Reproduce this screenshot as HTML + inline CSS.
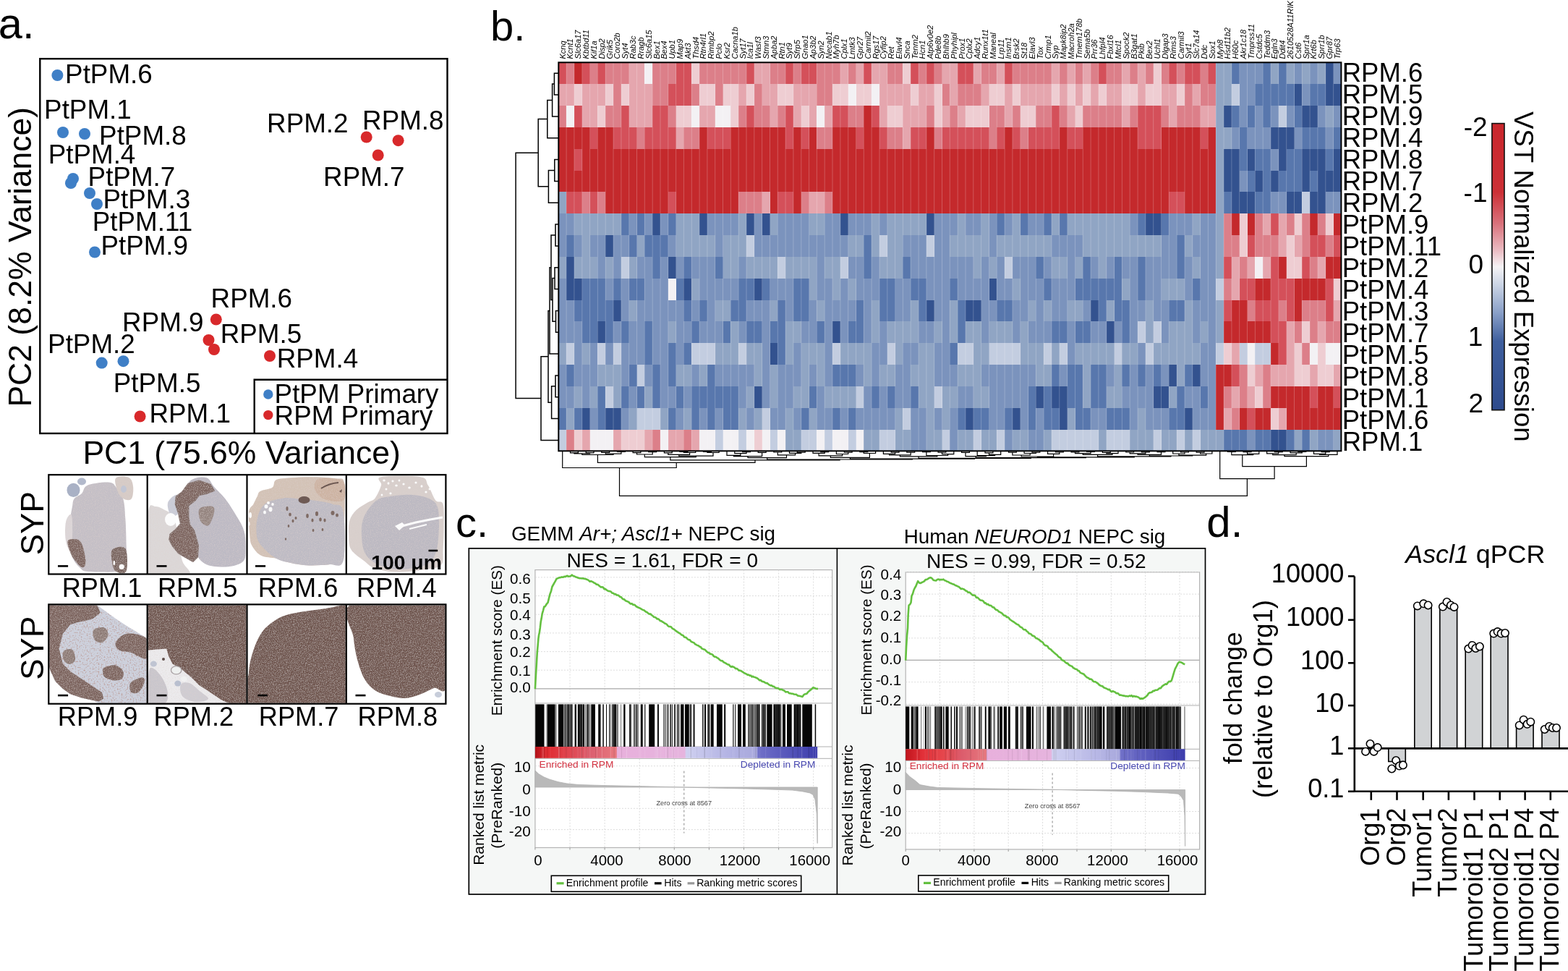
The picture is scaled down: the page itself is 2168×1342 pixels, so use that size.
<!DOCTYPE html><html><head><meta charset="utf-8"><title>Figure</title><style>html,body{margin:0;padding:0;background:#fff;overflow:hidden}svg{display:block}</style></head><body>
<svg xmlns="http://www.w3.org/2000/svg" width="2168" height="1342" viewBox="0 0 2168 1342" font-family="Liberation Sans, Arial, sans-serif">
<rect width="2168" height="1342" fill="#fff"/>
<text x="-2.2" y="53.0" font-size="59.5">a.</text>
<rect x="55.30" y="81.20" width="563.20" height="517.80" fill="none" stroke="#000" stroke-width="2.4"/>
<circle cx="79.4" cy="104" r="8" fill="#3f7fc6"/>
<circle cx="87" cy="183" r="8" fill="#3f7fc6"/>
<circle cx="117" cy="185" r="8" fill="#3f7fc6"/>
<circle cx="101" cy="247" r="8" fill="#3f7fc6"/>
<circle cx="98" cy="253" r="8" fill="#3f7fc6"/>
<circle cx="124" cy="267" r="8" fill="#3f7fc6"/>
<circle cx="134" cy="282" r="8" fill="#3f7fc6"/>
<circle cx="131" cy="348.5" r="8" fill="#3f7fc6"/>
<circle cx="140.7" cy="501.6" r="8" fill="#3f7fc6"/>
<circle cx="170.5" cy="499.2" r="8" fill="#3f7fc6"/>
<circle cx="506.7" cy="189.5" r="8" fill="#d8292b"/>
<circle cx="550.6" cy="194.2" r="8" fill="#d8292b"/>
<circle cx="522.7" cy="214.5" r="8" fill="#d8292b"/>
<circle cx="298.8" cy="441.5" r="8" fill="#d8292b"/>
<circle cx="288.5" cy="470" r="8" fill="#d8292b"/>
<circle cx="296" cy="483" r="8" fill="#d8292b"/>
<circle cx="373" cy="492" r="8" fill="#d8292b"/>
<circle cx="193.6" cy="575.5" r="8" fill="#d8292b"/>
<text x="90.1" y="115.0" font-size="36.8">PtPM.6</text>
<text x="61.1" y="164.4" font-size="36.8">PtPM.1</text>
<text x="137.1" y="199.5" font-size="36.8">PtPM.8</text>
<text x="66.7" y="225.7" font-size="36.8">PtPM.4</text>
<text x="121.6" y="256.7" font-size="36.8">PtPM.7</text>
<text x="142.5" y="287.7" font-size="36.8">PtPM.3</text>
<text x="127.8" y="318.7" font-size="36.8">PtPM.11</text>
<text x="139.4" y="352.0" font-size="36.8">PtPM.9</text>
<text x="369.1" y="182.8" font-size="36.8">RPM.2</text>
<text x="501.1" y="178.5" font-size="36.8">RPM.8</text>
<text x="447.1" y="257.2" font-size="36.8">RPM.7</text>
<text x="291.6" y="424.8" font-size="36.8">RPM.6</text>
<text x="169.1" y="458.0" font-size="36.8">RPM.9</text>
<text x="304.7" y="473.5" font-size="36.8">RPM.5</text>
<text x="382.7" y="508.3" font-size="36.8">RPM.4</text>
<text x="66.1" y="487.8" font-size="36.8">PtPM.2</text>
<text x="156.8" y="542.0" font-size="36.8">PtPM.5</text>
<text x="206.4" y="583.9" font-size="36.8">RPM.1</text>
<polyline points="351.7,599 351.7,524.7 618.5,524.7" fill="none" stroke="#000" stroke-width="2.4"/>
<circle cx="370.8" cy="545" r="6.7" fill="#3f7fc6"/>
<circle cx="370.8" cy="573.6" r="6.7" fill="#d8292b"/>
<text x="379.6" y="557.0" font-size="36.8">PtPM Primary</text>
<text x="379.6" y="587.4" font-size="36.8">RPM Primary</text>
<text x="114.4" y="641.0" font-size="44.5">PC1 (75.6% Variance)</text>
<text transform="translate(43.3,562.6) rotate(-90)" font-size="44.5">PC2 (8.2% Variance)</text>
<defs>
<filter id="spk" x="0" y="0" width="1" height="1" filterUnits="objectBoundingBox">
<feTurbulence type="fractalNoise" baseFrequency="0.8" numOctaves="2" seed="4" result="t"/>
<feColorMatrix in="t" type="matrix" values="0 0 0 0 0.72  0 0 0 0 0.64  0 0 0 0 0.62  0 0 0 -1.3 0.72" result="w"/>
<feComposite in="w" in2="SourceGraphic" operator="in" result="wi"/>
<feMerge><feMergeNode in="SourceGraphic"/><feMergeNode in="wi"/></feMerge>
</filter>
<filter id="spk2" x="0" y="0" width="1" height="1" filterUnits="objectBoundingBox">
<feTurbulence type="fractalNoise" baseFrequency="0.5" numOctaves="3" seed="9" result="t"/>
<feColorMatrix in="t" type="matrix" values="0 0 0 0 0.5  0 0 0 0 0.33  0 0 0 0 0.3  0 0 0 -3.0 1.55" result="w"/>
<feComposite in="w" in2="SourceGraphic" operator="in" result="wi"/>
<feMerge><feMergeNode in="SourceGraphic"/><feMergeNode in="wi"/></feMerge>
</filter>
<clipPath id="h1"><rect x="68.3" y="657.3" width="134.4" height="135.2"/></clipPath>
<clipPath id="h2"><rect x="204.7" y="657.3" width="135.8" height="135.2"/></clipPath>
<clipPath id="h3"><rect x="342.5" y="657.3" width="135.3" height="135.2"/></clipPath>
<clipPath id="h4"><rect x="479.8" y="657.3" width="135.6" height="135.2"/></clipPath>
<clipPath id="h5"><rect x="68.3" y="836.5" width="134.4" height="135.2"/></clipPath>
<clipPath id="h6"><rect x="204.7" y="836.5" width="135.8" height="135.2"/></clipPath>
<clipPath id="h7"><rect x="342.5" y="836.5" width="135.3" height="135.2"/></clipPath>
<clipPath id="h8"><rect x="479.8" y="836.5" width="135.6" height="135.2"/></clipPath>
</defs>
<g clip-path="url(#h1)"><g filter="url(#spk)">
<path d="M102.5,689.4 C104.7,686.4 110.4,684.8 113,682 C115.6,679.2 115.4,674.9 118,672.7 C120.6,670.5 124.2,669.6 128.6,668.6 C133.0,667.6 139.8,666.7 144.2,666.5 C148.5,666.3 152.1,666.5 154.7,667.5 C157.3,668.5 157.4,669.1 160,672.7 C162.6,676.4 168.1,681.9 170.3,689.4 C172.5,696.9 172.7,707.7 173.4,717.6 C174.1,727.5 174.3,737.6 174.5,748.9 C174.7,760.2 176.9,778.5 174.5,785.4 C172.1,792.2 165.8,789.1 160,790 C154.2,790.9 147.0,790.6 140,790.5 C133.0,790.4 122.8,790.4 118,789.5 C113.2,788.6 113.5,787.4 110.9,785 C108.3,782.6 104.9,779.5 102.5,775 C100.1,770.5 97.5,764.2 96.3,758 C95.1,751.8 95.0,745.0 95.2,738 C95.4,731.0 96.5,722.3 97.3,716 C98.1,709.7 99.1,704.4 100,700 C100.9,695.6 100.3,692.4 102.5,689.4 Z" fill="#c4bfc6"/>
<path d="M160,661 C162.5,657.7 174.0,658.2 178,660 C182.0,661.8 183.3,667.2 184,672 C184.7,676.8 184.0,686.0 182,689 C180.0,692.0 175.2,691.5 172,690 C168.8,688.5 165.0,684.8 163,680 C161.0,675.2 157.5,664.3 160,661 Z" fill="#d6cbc6"/>
<path d="M92,718 C93.5,714.2 97.7,708.3 99,712 C100.3,715.7 100.3,732.0 100,740 C99.7,748.0 98.3,758.0 97,760 C95.7,762.0 93.2,756.2 92,752 C90.8,747.8 90.0,740.7 90,735 C90.0,729.3 90.5,721.8 92,718 Z" fill="#dcd6d8"/>
<path d="M94.2,746.8 C96.2,744.5 104.4,744.6 107.7,745.8 C111.0,747.0 112.2,749.6 114,754.1 C115.8,758.6 117.7,768.2 118.2,772.9 C118.7,777.6 118.1,780.6 117.1,782.3 C116.0,784.0 114.5,785.0 111.9,783.3 C109.3,781.5 104.2,775.8 101.5,771.8 C98.8,767.8 96.9,763.5 95.7,759.3 C94.5,755.1 92.2,749.0 94.2,746.8 Z" fill="#7b645d"/>
<path d="M155.7,759.3 C158.8,756.5 170.3,753.2 173.4,758.3 C176.5,763.3 176.8,784.4 174.5,789.6 C172.2,794.8 163.2,792.0 159.9,789.6 C156.6,787.2 155.4,780.0 154.7,775 C154.0,770.0 152.6,762.1 155.7,759.3 Z" fill="#7a6660"/>
</g>
<ellipse cx="101.5" cy="677.4" rx="9" ry="9.6" fill="#a9b1c5"/><ellipse cx="113" cy="665.5" rx="6" ry="5" fill="#b2b9cb"/><ellipse cx="171" cy="676" rx="4" ry="5" fill="#c2c6d4"/>
<circle cx="168.2" cy="783.3" r="3.6" fill="#fafafa"/><ellipse cx="157.8" cy="778" rx="1.3" ry="3.2" fill="#fafafa"/>
</g>
<g clip-path="url(#h2)"><g filter="url(#spk)">
<path d="M205,708 C206.7,692.3 211.2,700.5 215,700 C218.8,699.5 223.8,702.7 228,705 C232.2,707.3 237.0,708.2 240,714 C243.0,719.8 244.0,729.8 246,740 C248.0,750.2 249.3,766.2 252,775 C254.7,783.8 265.7,789.8 262,793 C258.3,796.2 239.5,793.8 230,794 C220.5,794.2 209.2,808.3 205,794 C200.8,779.7 203.3,723.7 205,708 Z" fill="#dcd8d8"/>
<path d="M264.7,663.3 C269.8,660.0 280.3,658.6 285.5,660.2 C290.7,661.8 291.6,667.8 295.9,672.7 C300.2,677.6 306.3,682.6 311.5,689.4 C316.7,696.2 322.8,705.9 327.2,713.4 C331.6,720.9 335.6,726.6 337.6,734.3 C339.7,741.9 339.6,752.5 339.5,759.3 C339.4,766.1 339.9,771.2 337,775 C334.1,778.8 328.0,780.9 322,782.3 C316.0,783.7 307.2,783.6 301.1,783.3 C295.0,782.9 289.9,782.1 285.5,780.2 C281.1,778.3 277.6,775.3 275,771.8 C272.4,768.3 272.0,764.6 269.8,759.3 C267.6,754.0 264.5,746.5 262,740 C259.5,733.5 256.7,726.7 255,720 C253.3,713.3 252.0,706.7 252,700 C252.0,693.3 252.9,686.1 255,680 C257.1,673.9 259.6,666.6 264.7,663.3 Z" fill="#bdbac4"/>
<path d="M232,695 C233.2,690.3 240.0,684.8 243,684 C246.0,683.2 249.5,685.7 250,690 C250.5,694.3 248.3,706.3 246,710 C243.7,713.7 238.3,714.5 236,712 C233.7,709.5 230.8,699.7 232,695 Z" fill="#c9ccd8"/>
<path d="M252,680 L260.4,668.6 L275,664.4 L290.7,669.6 L295.9,678 L285.5,682.1 L275,684.2 L269.8,691.5 L260.4,698.8 L260.4,713.4 L262,725 L268,733 L274,754.1 L273,769.8 L266.7,776 L256.2,769.8 L246.9,764.5 L238.5,754.1 L234.3,745.8 L235.4,738.5 L243.7,731.2 L250,724 L246.9,709.2 L242.7,696.7 L243.7,686.3 Z" fill="#7b645d" stroke="#7f6b66" stroke-width="2" stroke-linejoin="round"/>
<path d="M277.1,702 C280.2,699.9 290.7,698.7 293.8,699.9 C296.9,701.1 296.8,704.9 295.9,709.2 C295.0,713.5 291.4,723.6 288.6,725.9 C285.8,728.2 281.5,725.0 279.2,722.8 C276.9,720.5 275.4,715.9 275,712.4 C274.6,708.9 274.0,704.1 277.1,702 Z" fill="#958580"/>
</g>
<ellipse cx="236" cy="718" rx="8" ry="9" fill="#fcfcfc"/>
</g>
<g clip-path="url(#h3)"><g filter="url(#spk)">
<path d="M359.8,679 C363.3,676.9 372.9,676.4 376.5,673.8 C380.1,671.2 377.3,665.6 381.7,663.3 C386.1,661.0 393.9,660.9 402.6,660.2 C411.3,659.5 423.5,659.0 433.9,659.2 C444.3,659.4 458.2,660.3 465.2,661.3 C472.1,662.3 473.7,659.5 475.6,665.4 C477.5,671.3 476.7,686.3 476.7,696.7 C476.7,707.1 475.8,717.6 475.6,728 C475.4,738.4 476.0,751.5 475.6,759.3 C475.2,767.1 477.0,771.5 473.5,775 C470.0,778.5 463.1,779.2 454.8,780.2 C446.5,781.2 433.1,781.7 423.5,781.2 C413.9,780.7 404.4,778.6 397.4,777 C390.4,775.4 387.8,773.3 381.7,771.8 C375.6,770.2 366.5,770.7 360.9,767.7 C355.3,764.8 350.9,759.0 348.3,754.1 C345.7,749.2 345.9,746.3 345.2,738.5 C344.5,730.7 343.3,714.2 344.2,707.2 C345.1,700.2 348.5,700.2 350.4,696.7 C352.3,693.2 354.0,689.2 355.6,686.3 C357.2,683.3 356.3,681.1 359.8,679 Z" fill="#d3c2b6"/>
<path d="M366.1,696.7 C372.2,691.8 384.4,689.6 392.2,688.4 C400.0,687.2 406.1,688.9 413,689.4 C419.9,689.9 426.1,690.3 433.9,691.5 C441.7,692.7 453.2,694.1 460,696.7 C466.8,699.3 472.2,694.2 474.6,707.2 C477.0,720.2 477.9,762.8 474.6,775 C471.3,787.2 463.3,779.2 454.8,780.2 C446.3,781.2 433.1,781.7 423.5,781.2 C413.9,780.7 404.4,778.6 397.4,777 C390.4,775.4 386.9,774.8 381.7,771.8 C376.5,768.8 370.5,764.0 366.1,759.3 C361.8,754.6 357.4,750.7 355.6,743.7 C353.9,736.8 353.9,725.4 355.6,717.6 C357.4,709.8 360.0,701.6 366.1,696.7 Z" fill="#bebbc4"/>
<path d="M440,662 C445.0,659.8 459.0,661.0 465,662 C471.0,663.0 474.2,663.3 476,668 C477.8,672.7 478.3,685.8 476,690 C473.7,694.2 467.2,693.3 462,693 C456.8,692.7 449.5,691.0 445,688 C440.5,685.0 435.8,679.3 435,675 C434.2,670.7 435.0,664.2 440,662 Z" fill="#cdb3a2"/>
</g>
<ellipse cx="420.5" cy="691" rx="8" ry="5" fill="#6e5a54"/>
<path d="M444,675 Q455,668 468,667" stroke="#6a5650" stroke-width="2" fill="none"/><path d="M469,679 l4,-3 l-1,5z" fill="#6a5650"/>
<ellipse cx="397" cy="703" rx="1.6" ry="3" fill="#7e6a63"/>
<ellipse cx="401" cy="711" rx="1.8" ry="2.6" fill="#7e6a63"/>
<ellipse cx="405" cy="720" rx="1.5" ry="2.2" fill="#7e6a63"/>
<ellipse cx="399" cy="727" rx="1.3" ry="2" fill="#7e6a63"/>
<ellipse cx="409" cy="716" rx="1.5" ry="2" fill="#7e6a63"/>
<ellipse cx="425" cy="713" rx="1.8" ry="3" fill="#7e6a63"/>
<ellipse cx="432" cy="719" rx="1.6" ry="2.6" fill="#7e6a63"/>
<ellipse cx="438" cy="710" rx="2" ry="3.2" fill="#7e6a63"/>
<ellipse cx="443" cy="718" rx="1.8" ry="2.8" fill="#7e6a63"/>
<ellipse cx="449" cy="719" rx="1.6" ry="2.6" fill="#7e6a63"/>
<ellipse cx="433" cy="733" rx="1.4" ry="2" fill="#7e6a63"/>
<ellipse cx="446" cy="732" rx="1.4" ry="2" fill="#7e6a63"/>
<ellipse cx="460" cy="709" rx="2.5" ry="3" fill="#7e6a63"/>
<ellipse cx="466" cy="712" rx="2" ry="2.5" fill="#7e6a63"/>
<ellipse cx="395" cy="745" rx="1.2" ry="1.8" fill="#7e6a63"/>
<ellipse cx="368" cy="700" rx="2.5" ry="2.8" fill="#fafafa"/>
<ellipse cx="374" cy="704" rx="2.5" ry="3.2" fill="#fafafa"/>
<ellipse cx="371" cy="695" rx="2" ry="2" fill="#fafafa"/>
<ellipse cx="377" cy="697" rx="1.8" ry="2" fill="#fafafa"/>
<ellipse cx="366" cy="708" rx="2" ry="2.5" fill="#fafafa"/>
<ellipse cx="346" cy="712" rx="2" ry="4" fill="#fafafa"/>
<ellipse cx="344" cy="724" rx="1.5" ry="3" fill="#fafafa"/>
</g>
<g clip-path="url(#h4)"><g filter="url(#spk)">
<path d="M527.1,659.2 C536.1,657.3 570.5,657.3 581.3,659.2 C592.1,661.1 588.3,665.2 591.8,670.6 C595.3,676.0 598.7,687.1 602.2,691.5 C605.7,695.9 610.7,690.6 612.6,696.7 C614.5,702.8 613.7,717.6 613.7,728 C613.7,738.4 613.1,750.6 612.6,759.3 C612.1,768.0 614.0,775.7 610.5,780.2 C607.0,784.7 601.9,784.7 591.8,786.4 C581.7,788.1 562.2,790.8 550,790.6 C537.8,790.4 526.5,788.0 518.7,785.4 C510.9,782.8 508.7,779.4 503.1,775 C497.5,770.6 488.8,765.4 485.3,759.3 C481.8,753.2 482.5,745.1 482.2,738.5 C481.9,731.9 481.6,725.3 483.3,719.7 C485.0,714.1 488.4,709.3 492.6,705.1 C496.8,700.9 503.9,697.4 508.3,694.6 C512.6,691.8 515.6,692.4 518.7,688.4 C521.8,684.4 525.7,675.5 527.1,670.6 C528.5,665.7 518.1,661.1 527.1,659.2 Z" fill="#d8cfcc"/>
<path d="M520,692 C526.2,687.2 531.7,687.3 540,686 C548.3,684.7 560.8,683.3 570,684 C579.2,684.7 589.0,686.5 595,690 C601.0,693.5 604.2,695.8 606,705 C607.8,714.2 607.0,734.2 606,745 C605.0,755.8 603.5,763.8 600,770 C596.5,776.2 593.3,779.2 585,782 C576.7,784.8 560.5,787.3 550,787 C539.5,786.7 529.5,783.7 522,780 C514.5,776.3 508.7,771.7 505,765 C501.3,758.3 500.3,748.3 500,740 C499.7,731.7 499.7,723.0 503,715 C506.3,707.0 513.8,696.8 520,692 Z" fill="#bcb9c2"/>
</g>
<ellipse cx="531" cy="664" rx="1.8" ry="1.5" fill="#fbfbfb"/>
<ellipse cx="537" cy="668" rx="1.5" ry="1.8" fill="#fbfbfb"/>
<ellipse cx="543" cy="665" rx="1.6" ry="1.4" fill="#fbfbfb"/>
<ellipse cx="548" cy="671" rx="1.8" ry="1.6" fill="#fbfbfb"/>
<ellipse cx="534" cy="676" rx="1.5" ry="1.5" fill="#fbfbfb"/>
<ellipse cx="552" cy="664" rx="1.4" ry="1.6" fill="#fbfbfb"/>
<ellipse cx="558" cy="669" rx="1.6" ry="1.5" fill="#fbfbfb"/>
<ellipse cx="566" cy="674" rx="1.8" ry="1.6" fill="#fbfbfb"/>
<ellipse cx="575" cy="667" rx="1.6" ry="1.5" fill="#fbfbfb"/>
<ellipse cx="583" cy="672" rx="1.5" ry="1.8" fill="#fbfbfb"/>
<ellipse cx="589" cy="680" rx="1.6" ry="1.6" fill="#fbfbfb"/>
<ellipse cx="528" cy="684" rx="1.4" ry="1.6" fill="#fbfbfb"/>
<ellipse cx="540" cy="682" rx="1.6" ry="1.4" fill="#fbfbfb"/>
<ellipse cx="594" cy="676" rx="1.4" ry="1.4" fill="#fbfbfb"/>
<ellipse cx="600" cy="684" rx="1.4" ry="1.8" fill="#fbfbfb"/>
<path d="M546,727 L556,722 L560,726 L552,733 Z" fill="#fbfbfb"/><path d="M556,727 L575,722 L595,718 L612,715" stroke="#fbfbfb" stroke-width="3" fill="none"/><path d="M566,731 L590,725" stroke="#fbfbfb" stroke-width="2" fill="none"/>
</g>
<g clip-path="url(#h5)"><g filter="url(#spk2)">
<path d="M68,836 L133.8,836 L159.9,854.9 L175.5,865.3 L203,882 L203,972 L136.9,972 L128.6,968 L112.9,964.4 L97.3,959.2 L86.9,951.9 L76.4,941.4 L70.2,927.9 L68,922 Z" fill="#cdd1dd"/>
</g><g filter="url(#spk)">
<path d="M68,836 L133.8,836 L139,846.5 L128.6,854.9 L118.2,858 L107.7,860.1 L97.3,863.2 L86.9,875.7 L81.6,896.6 L86.9,917.5 L97.3,927.9 L112.9,938.3 L128.6,948.8 L141.1,957.1 L143.2,965.4 L136.9,969.6 L128.6,968 L112.9,964.4 L97.3,959.2 L86.9,951.9 L76.4,941.4 L70.2,927.9 L68,922 Z" fill="#7b645d"/>
<path d="M175.5,875.7 C182.7,874.8 198.4,877.4 203,883 C207.6,888.6 205.0,905.1 203,909.1 C201.0,913.1 194.9,908.2 191.2,907 C187.5,905.8 185.2,903.2 180.8,901.8 C176.5,900.4 168.6,901.0 165.1,898.7 C161.6,896.4 158.2,892.0 159.9,888.2 C161.6,884.4 168.3,876.6 175.5,875.7 Z" fill="#7b645d"/>
<path d="M144.2,922.7 C147.1,921.0 155.6,918.6 159.9,919.5 C164.2,920.4 168.9,924.8 170.3,927.9 C171.7,931.0 170.3,936.2 168.2,938.3 C166.1,940.4 161.6,940.8 157.8,940.4 C154.0,940.0 147.9,937.9 145.3,936.2 C142.7,934.5 142.4,932.2 142.2,930 C142.0,927.8 141.2,924.5 144.2,922.7 Z" fill="#7b645d"/>
<path d="M180.8,943.5 C183.4,940.2 193.3,936.2 196.4,936.2 C199.5,936.2 200.4,940.0 199.5,943.5 C198.6,947.0 194.3,955.0 191.2,957.1 C188.1,959.2 182.5,958.3 180.8,956 C179.1,953.7 178.2,946.8 180.8,943.5 Z" fill="#7b645d"/>
<path d="M129.6,870.5 C131.8,867.7 140.9,866.2 144.2,867.4 C147.5,868.6 150.0,874.3 149.5,877.8 C149.0,881.3 144.2,887.2 141.1,888.2 C138.0,889.2 132.6,887.1 130.7,884.1 C128.8,881.1 127.3,873.3 129.6,870.5 Z" fill="#8c7a75"/>
<path d="M88,900 C90.0,897.7 97.3,896.0 100,898 C102.7,900.0 104.7,908.7 104,912 C103.3,915.3 98.7,918.0 96,918 C93.3,918.0 89.3,915.0 88,912 C86.7,909.0 86.0,902.3 88,900 Z" fill="#8c7a75"/>
</g></g>
<g clip-path="url(#h6)"><g filter="url(#spk)">
<path d="M204,836 L341,836 L341,972 L204,972 Z" fill="#6f564f"/>
</g><g filter="url(#spk)">
<path d="M204,898.7 L217.6,897.6 L230.2,896.6 L233.3,907 L238.5,917.5 L252.1,925.8 L264.6,936.2 L275,946.7 L290.7,957.1 L306.3,967.5 L316.8,972 L204,972 Z" fill="#ecebed"/>
<path d="M206,928 C207.3,920.2 210.7,923.0 214,925 C217.3,927.0 223.0,934.5 226,940 C229.0,945.5 231.7,952.7 232,958 C232.3,963.3 232.3,969.7 228,972 C223.7,974.3 209.7,979.3 206,972 C202.3,964.7 204.7,935.8 206,928 Z" fill="#c9c6cc"/>
<path d="M250,946 C251.7,943.0 257.7,942.5 262,944 C266.3,945.5 271.7,951.3 276,955 C280.3,958.7 289.0,963.5 288,966 C287.0,968.5 276.0,970.7 270,970 C264.0,969.3 255.3,966.0 252,962 C248.7,958.0 248.3,949.0 250,946 Z" fill="#cfccd2"/>
</g>
<ellipse cx="243.7" cy="926.3" rx="7.2" ry="5.6" fill="#eef0ef" stroke="#a9a1a3" stroke-width="1.3"/>
<ellipse cx="254.2" cy="938.3" rx="4.2" ry="3.6" fill="#f1f1f1"/>
<ellipse cx="212.4" cy="917.5" rx="4.5" ry="4" fill="#bfc4d2"/><ellipse cx="245.8" cy="944.6" rx="4.5" ry="4" fill="#b9bfcf"/><ellipse cx="226" cy="911" rx="2" ry="2" fill="#5f4f4b"/>
</g>
<g clip-path="url(#h7)"><g filter="url(#spk)">
<path d="M345,975 C322.3,967.5 343.2,942.5 344,930 C344.8,917.5 347.0,909.3 350,900 C353.0,890.7 357.3,880.8 362,874 C366.7,867.2 372.3,863.0 378,859 C383.7,855.0 388.8,852.3 396,850 C403.2,847.7 412.0,846.5 421,845 C430.0,843.5 441.8,842.3 450,841 C458.2,839.7 465.0,838.0 470,837 C475.0,836.0 478.3,812.0 480,835 C481.7,858.0 502.5,951.7 480,975 C457.5,998.3 367.7,982.5 345,975 Z" fill="#6f564f"/>
</g></g>
<g clip-path="url(#h8)"><g filter="url(#spk)">
<path d="M488,834 C509.5,826.0 596.3,815.3 618,834 C639.7,852.7 621.0,926.5 618,946 C615.0,965.5 606.3,948.7 600,951 C593.7,953.3 586.7,957.7 580,960 C573.3,962.3 566.7,964.7 560,965 C553.3,965.3 546.7,963.7 540,962 C533.3,960.3 525.8,958.7 520,955 C514.2,951.3 509.2,946.7 505,940 C500.8,933.3 497.7,924.7 495,915 C492.3,905.3 490.2,895.5 489,882 C487.8,868.5 466.5,842.0 488,834 Z" fill="#6f564f"/>
</g>
<ellipse cx="606" cy="960" rx="5" ry="4" fill="#c7cdda"/>
</g>
<rect x="67.30" y="656.20" width="549.10" height="137.30" fill="none" stroke="#000" stroke-width="2.2"/>
<line x1="203.7" y1="656.2" x2="203.7" y2="793.5" stroke="#000" stroke-width="2.2"/>
<line x1="341.5" y1="656.2" x2="341.5" y2="793.5" stroke="#000" stroke-width="2.2"/>
<line x1="478.8" y1="656.2" x2="478.8" y2="793.5" stroke="#000" stroke-width="2.2"/>
<rect x="67.30" y="835.40" width="549.10" height="137.30" fill="none" stroke="#000" stroke-width="2.2"/>
<line x1="203.7" y1="835.4" x2="203.7" y2="972.7" stroke="#000" stroke-width="2.2"/>
<line x1="341.5" y1="835.4" x2="341.5" y2="972.7" stroke="#000" stroke-width="2.2"/>
<line x1="478.8" y1="835.4" x2="478.8" y2="972.7" stroke="#000" stroke-width="2.2"/>
<line x1="80.0" y1="782.4" x2="94.1" y2="782.4" stroke="#000" stroke-width="2.6"/>
<line x1="216.5" y1="782.4" x2="230.5" y2="782.4" stroke="#000" stroke-width="2.6"/>
<line x1="353.0" y1="782.4" x2="367.1" y2="782.4" stroke="#000" stroke-width="2.6"/>
<line x1="592.5" y1="761.0" x2="605.2" y2="761.0" stroke="#000" stroke-width="2.6"/>
<line x1="80.0" y1="961.1" x2="94.1" y2="961.1" stroke="#000" stroke-width="2.6"/>
<line x1="216.5" y1="961.1" x2="230.5" y2="961.1" stroke="#000" stroke-width="2.6"/>
<line x1="356.4" y1="961.1" x2="369.8" y2="961.1" stroke="#000" stroke-width="2.6"/>
<line x1="491.5" y1="961.1" x2="505.5" y2="961.1" stroke="#000" stroke-width="2.6"/>
<text x="513.3" y="787.0" font-size="28.3" font-weight="bold">100 μm</text>
<text x="85.7" y="824.5" font-size="36.2">RPM.1</text>
<text x="217.9" y="824.5" font-size="36.2">RPM.5</text>
<text x="356.7" y="824.5" font-size="36.2">RPM.6</text>
<text x="493.0" y="824.5" font-size="36.2">RPM.4</text>
<text x="79.8" y="1002.5" font-size="36.2">RPM.9</text>
<text x="212.6" y="1002.5" font-size="36.2">RPM.2</text>
<text x="357.8" y="1002.5" font-size="36.2">RPM.7</text>
<text x="494.5" y="1002.5" font-size="36.2">RPM.8</text>
<text transform="translate(59.5,767.3) rotate(-90)" font-size="44">SYP</text>
<text transform="translate(59.5,939.8) rotate(-90)" font-size="44">SYP</text>
<text x="678.0" y="56.0" font-size="58">b.</text>
<g shape-rendering="crispEdges">
<rect x="772.3" y="86.3" width="11.4" height="30.4" fill="#d4505a"/>
<rect x="783.1" y="86.3" width="11.4" height="30.4" fill="#dc7f89"/>
<rect x="793.9" y="86.3" width="11.4" height="30.4" fill="#c4292c"/>
<rect x="804.8" y="86.3" width="11.4" height="30.4" fill="#d4505a"/>
<rect x="815.6" y="86.3" width="11.4" height="30.4" fill="#dc7f89"/>
<rect x="826.4" y="86.3" width="11.4" height="30.4" fill="#d4505a"/>
<rect x="837.2" y="86.3" width="33.1" height="30.4" fill="#dc7f89"/>
<rect x="869.7" y="86.3" width="22.2" height="30.4" fill="#e5a6ae"/>
<rect x="891.3" y="86.3" width="11.4" height="30.4" fill="#f3f1f4"/>
<rect x="902.2" y="86.3" width="33.1" height="30.4" fill="#dc7f89"/>
<rect x="934.6" y="86.3" width="22.2" height="30.4" fill="#d4505a"/>
<rect x="956.3" y="86.3" width="11.4" height="30.4" fill="#eecdd2"/>
<rect x="967.1" y="86.3" width="65.5" height="30.4" fill="#dc7f89"/>
<rect x="1032.0" y="86.3" width="11.4" height="30.4" fill="#d4505a"/>
<rect x="1042.8" y="86.3" width="22.2" height="30.4" fill="#e5a6ae"/>
<rect x="1064.5" y="86.3" width="22.2" height="30.4" fill="#dc7f89"/>
<rect x="1086.1" y="86.3" width="11.4" height="30.4" fill="#d4505a"/>
<rect x="1096.9" y="86.3" width="11.4" height="30.4" fill="#dc7f89"/>
<rect x="1107.8" y="86.3" width="22.2" height="30.4" fill="#d4505a"/>
<rect x="1129.4" y="86.3" width="33.1" height="30.4" fill="#dc7f89"/>
<rect x="1161.9" y="86.3" width="11.4" height="30.4" fill="#e5a6ae"/>
<rect x="1172.7" y="86.3" width="11.4" height="30.4" fill="#dc7f89"/>
<rect x="1183.5" y="86.3" width="11.4" height="30.4" fill="#e5a6ae"/>
<rect x="1194.3" y="86.3" width="11.4" height="30.4" fill="#d4505a"/>
<rect x="1205.1" y="86.3" width="22.2" height="30.4" fill="#e5a6ae"/>
<rect x="1226.8" y="86.3" width="22.2" height="30.4" fill="#dc7f89"/>
<rect x="1248.4" y="86.3" width="11.4" height="30.4" fill="#eecdd2"/>
<rect x="1259.2" y="86.3" width="11.4" height="30.4" fill="#d4505a"/>
<rect x="1270.1" y="86.3" width="11.4" height="30.4" fill="#dc7f89"/>
<rect x="1280.9" y="86.3" width="11.4" height="30.4" fill="#d4505a"/>
<rect x="1291.7" y="86.3" width="11.4" height="30.4" fill="#dc7f89"/>
<rect x="1302.5" y="86.3" width="22.2" height="30.4" fill="#e5a6ae"/>
<rect x="1324.2" y="86.3" width="22.2" height="30.4" fill="#d4505a"/>
<rect x="1345.8" y="86.3" width="11.4" height="30.4" fill="#e5a6ae"/>
<rect x="1356.6" y="86.3" width="22.2" height="30.4" fill="#dc7f89"/>
<rect x="1378.3" y="86.3" width="11.4" height="30.4" fill="#e5a6ae"/>
<rect x="1389.1" y="86.3" width="11.4" height="30.4" fill="#d4505a"/>
<rect x="1399.9" y="86.3" width="54.7" height="30.4" fill="#dc7f89"/>
<rect x="1454.0" y="86.3" width="11.4" height="30.4" fill="#e5a6ae"/>
<rect x="1464.8" y="86.3" width="11.4" height="30.4" fill="#dc7f89"/>
<rect x="1475.7" y="86.3" width="11.4" height="30.4" fill="#e5a6ae"/>
<rect x="1486.5" y="86.3" width="11.4" height="30.4" fill="#dc7f89"/>
<rect x="1497.3" y="86.3" width="11.4" height="30.4" fill="#e5a6ae"/>
<rect x="1508.1" y="86.3" width="11.4" height="30.4" fill="#dc7f89"/>
<rect x="1518.9" y="86.3" width="11.4" height="30.4" fill="#d4505a"/>
<rect x="1529.8" y="86.3" width="22.2" height="30.4" fill="#dc7f89"/>
<rect x="1551.4" y="86.3" width="11.4" height="30.4" fill="#e5a6ae"/>
<rect x="1562.2" y="86.3" width="11.4" height="30.4" fill="#dc7f89"/>
<rect x="1573.1" y="86.3" width="11.4" height="30.4" fill="#e5a6ae"/>
<rect x="1583.9" y="86.3" width="11.4" height="30.4" fill="#dc7f89"/>
<rect x="1594.7" y="86.3" width="11.4" height="30.4" fill="#eecdd2"/>
<rect x="1605.5" y="86.3" width="11.4" height="30.4" fill="#dc7f89"/>
<rect x="1616.3" y="86.3" width="11.4" height="30.4" fill="#d4505a"/>
<rect x="1627.2" y="86.3" width="11.4" height="30.4" fill="#dc7f89"/>
<rect x="1638.0" y="86.3" width="22.2" height="30.4" fill="#d4505a"/>
<rect x="1659.6" y="86.3" width="11.4" height="30.4" fill="#dc7f89"/>
<rect x="1670.4" y="86.3" width="11.4" height="30.4" fill="#d4505a"/>
<rect x="1681.3" y="86.3" width="22.2" height="30.4" fill="#90a5c4"/>
<rect x="1702.9" y="86.3" width="11.4" height="30.4" fill="#5877ad"/>
<rect x="1713.7" y="86.3" width="33.1" height="30.4" fill="#7b93bd"/>
<rect x="1746.2" y="86.3" width="11.4" height="30.4" fill="#5877ad"/>
<rect x="1757.0" y="86.3" width="11.4" height="30.4" fill="#90a5c4"/>
<rect x="1767.8" y="86.3" width="11.4" height="30.4" fill="#5877ad"/>
<rect x="1778.7" y="86.3" width="11.4" height="30.4" fill="#90a5c4"/>
<rect x="1789.5" y="86.3" width="11.4" height="30.4" fill="#7b93bd"/>
<rect x="1800.3" y="86.3" width="11.4" height="30.4" fill="#90a5c4"/>
<rect x="1811.1" y="86.3" width="11.4" height="30.4" fill="#7b93bd"/>
<rect x="1821.9" y="86.3" width="11.4" height="30.4" fill="#90a5c4"/>
<rect x="1832.8" y="86.3" width="11.4" height="30.4" fill="#33528f"/>
<rect x="1843.6" y="86.3" width="11.4" height="30.4" fill="#7b93bd"/>
<rect x="772.3" y="116.1" width="22.2" height="30.4" fill="#e5a6ae"/>
<rect x="793.9" y="116.1" width="11.4" height="30.4" fill="#eecdd2"/>
<rect x="804.8" y="116.1" width="33.1" height="30.4" fill="#e5a6ae"/>
<rect x="837.2" y="116.1" width="11.4" height="30.4" fill="#eecdd2"/>
<rect x="848.0" y="116.1" width="11.4" height="30.4" fill="#dc7f89"/>
<rect x="858.9" y="116.1" width="11.4" height="30.4" fill="#eecdd2"/>
<rect x="869.7" y="116.1" width="33.1" height="30.4" fill="#e5a6ae"/>
<rect x="902.2" y="116.1" width="22.2" height="30.4" fill="#dc7f89"/>
<rect x="923.8" y="116.1" width="33.1" height="30.4" fill="#d4505a"/>
<rect x="956.3" y="116.1" width="11.4" height="30.4" fill="#dc7f89"/>
<rect x="967.1" y="116.1" width="22.2" height="30.4" fill="#eecdd2"/>
<rect x="988.7" y="116.1" width="11.4" height="30.4" fill="#dc7f89"/>
<rect x="999.5" y="116.1" width="22.2" height="30.4" fill="#eecdd2"/>
<rect x="1021.2" y="116.1" width="11.4" height="30.4" fill="#e5a6ae"/>
<rect x="1032.0" y="116.1" width="11.4" height="30.4" fill="#eecdd2"/>
<rect x="1042.8" y="116.1" width="11.4" height="30.4" fill="#dc7f89"/>
<rect x="1053.6" y="116.1" width="22.2" height="30.4" fill="#e5a6ae"/>
<rect x="1075.3" y="116.1" width="22.2" height="30.4" fill="#eecdd2"/>
<rect x="1096.9" y="116.1" width="33.1" height="30.4" fill="#e5a6ae"/>
<rect x="1129.4" y="116.1" width="22.2" height="30.4" fill="#dc7f89"/>
<rect x="1151.0" y="116.1" width="22.2" height="30.4" fill="#eecdd2"/>
<rect x="1172.7" y="116.1" width="11.4" height="30.4" fill="#f3f1f4"/>
<rect x="1183.5" y="116.1" width="22.2" height="30.4" fill="#eecdd2"/>
<rect x="1205.1" y="116.1" width="11.4" height="30.4" fill="#f3f1f4"/>
<rect x="1216.0" y="116.1" width="43.9" height="30.4" fill="#e5a6ae"/>
<rect x="1259.2" y="116.1" width="11.4" height="30.4" fill="#eecdd2"/>
<rect x="1270.1" y="116.1" width="22.2" height="30.4" fill="#e5a6ae"/>
<rect x="1291.7" y="116.1" width="11.4" height="30.4" fill="#eecdd2"/>
<rect x="1302.5" y="116.1" width="11.4" height="30.4" fill="#dc7f89"/>
<rect x="1313.3" y="116.1" width="11.4" height="30.4" fill="#e5a6ae"/>
<rect x="1324.2" y="116.1" width="33.1" height="30.4" fill="#dc7f89"/>
<rect x="1356.6" y="116.1" width="11.4" height="30.4" fill="#e5a6ae"/>
<rect x="1367.5" y="116.1" width="22.2" height="30.4" fill="#eecdd2"/>
<rect x="1389.1" y="116.1" width="11.4" height="30.4" fill="#e5a6ae"/>
<rect x="1399.9" y="116.1" width="11.4" height="30.4" fill="#eecdd2"/>
<rect x="1410.7" y="116.1" width="43.9" height="30.4" fill="#e5a6ae"/>
<rect x="1454.0" y="116.1" width="11.4" height="30.4" fill="#eecdd2"/>
<rect x="1464.8" y="116.1" width="11.4" height="30.4" fill="#e5a6ae"/>
<rect x="1475.7" y="116.1" width="11.4" height="30.4" fill="#eecdd2"/>
<rect x="1486.5" y="116.1" width="11.4" height="30.4" fill="#e5a6ae"/>
<rect x="1497.3" y="116.1" width="11.4" height="30.4" fill="#eecdd2"/>
<rect x="1508.1" y="116.1" width="11.4" height="30.4" fill="#e5a6ae"/>
<rect x="1518.9" y="116.1" width="11.4" height="30.4" fill="#eecdd2"/>
<rect x="1529.8" y="116.1" width="22.2" height="30.4" fill="#e5a6ae"/>
<rect x="1551.4" y="116.1" width="22.2" height="30.4" fill="#eecdd2"/>
<rect x="1573.1" y="116.1" width="11.4" height="30.4" fill="#e5a6ae"/>
<rect x="1583.9" y="116.1" width="22.2" height="30.4" fill="#eecdd2"/>
<rect x="1605.5" y="116.1" width="22.2" height="30.4" fill="#e5a6ae"/>
<rect x="1627.2" y="116.1" width="11.4" height="30.4" fill="#eecdd2"/>
<rect x="1638.0" y="116.1" width="11.4" height="30.4" fill="#dc7f89"/>
<rect x="1648.8" y="116.1" width="11.4" height="30.4" fill="#e5a6ae"/>
<rect x="1659.6" y="116.1" width="22.2" height="30.4" fill="#dc7f89"/>
<rect x="1681.3" y="116.1" width="22.2" height="30.4" fill="#90a5c4"/>
<rect x="1702.9" y="116.1" width="11.4" height="30.4" fill="#c3cde0"/>
<rect x="1713.7" y="116.1" width="22.2" height="30.4" fill="#7b93bd"/>
<rect x="1735.4" y="116.1" width="54.7" height="30.4" fill="#5877ad"/>
<rect x="1789.5" y="116.1" width="11.4" height="30.4" fill="#33528f"/>
<rect x="1800.3" y="116.1" width="11.4" height="30.4" fill="#7b93bd"/>
<rect x="1811.1" y="116.1" width="22.2" height="30.4" fill="#5877ad"/>
<rect x="1832.8" y="116.1" width="22.2" height="30.4" fill="#33528f"/>
<rect x="772.3" y="146.0" width="11.4" height="30.4" fill="#dc7f89"/>
<rect x="783.1" y="146.0" width="11.4" height="30.4" fill="#f3f1f4"/>
<rect x="793.9" y="146.0" width="11.4" height="30.4" fill="#d4505a"/>
<rect x="804.8" y="146.0" width="22.2" height="30.4" fill="#e5a6ae"/>
<rect x="826.4" y="146.0" width="11.4" height="30.4" fill="#eecdd2"/>
<rect x="837.2" y="146.0" width="22.2" height="30.4" fill="#dc7f89"/>
<rect x="858.9" y="146.0" width="11.4" height="30.4" fill="#d4505a"/>
<rect x="869.7" y="146.0" width="33.1" height="30.4" fill="#e5a6ae"/>
<rect x="902.2" y="146.0" width="22.2" height="30.4" fill="#d4505a"/>
<rect x="923.8" y="146.0" width="11.4" height="30.4" fill="#dc7f89"/>
<rect x="934.6" y="146.0" width="22.2" height="30.4" fill="#eecdd2"/>
<rect x="956.3" y="146.0" width="11.4" height="30.4" fill="#f3f1f4"/>
<rect x="967.1" y="146.0" width="22.2" height="30.4" fill="#e5a6ae"/>
<rect x="988.7" y="146.0" width="22.2" height="30.4" fill="#f3f1f4"/>
<rect x="1010.4" y="146.0" width="11.4" height="30.4" fill="#eecdd2"/>
<rect x="1021.2" y="146.0" width="11.4" height="30.4" fill="#dc7f89"/>
<rect x="1032.0" y="146.0" width="11.4" height="30.4" fill="#d4505a"/>
<rect x="1042.8" y="146.0" width="22.2" height="30.4" fill="#dc7f89"/>
<rect x="1064.5" y="146.0" width="11.4" height="30.4" fill="#e5a6ae"/>
<rect x="1075.3" y="146.0" width="11.4" height="30.4" fill="#dc7f89"/>
<rect x="1086.1" y="146.0" width="11.4" height="30.4" fill="#d4505a"/>
<rect x="1096.9" y="146.0" width="11.4" height="30.4" fill="#e5a6ae"/>
<rect x="1107.8" y="146.0" width="11.4" height="30.4" fill="#eecdd2"/>
<rect x="1118.6" y="146.0" width="11.4" height="30.4" fill="#e5a6ae"/>
<rect x="1129.4" y="146.0" width="11.4" height="30.4" fill="#f3f1f4"/>
<rect x="1140.2" y="146.0" width="11.4" height="30.4" fill="#e5a6ae"/>
<rect x="1151.0" y="146.0" width="22.2" height="30.4" fill="#d4505a"/>
<rect x="1172.7" y="146.0" width="22.2" height="30.4" fill="#dc7f89"/>
<rect x="1194.3" y="146.0" width="11.4" height="30.4" fill="#c4292c"/>
<rect x="1205.1" y="146.0" width="11.4" height="30.4" fill="#d4505a"/>
<rect x="1216.0" y="146.0" width="11.4" height="30.4" fill="#e5a6ae"/>
<rect x="1226.8" y="146.0" width="22.2" height="30.4" fill="#eecdd2"/>
<rect x="1248.4" y="146.0" width="33.1" height="30.4" fill="#e5a6ae"/>
<rect x="1280.9" y="146.0" width="11.4" height="30.4" fill="#dc7f89"/>
<rect x="1291.7" y="146.0" width="11.4" height="30.4" fill="#eecdd2"/>
<rect x="1302.5" y="146.0" width="11.4" height="30.4" fill="#e5a6ae"/>
<rect x="1313.3" y="146.0" width="11.4" height="30.4" fill="#dc7f89"/>
<rect x="1324.2" y="146.0" width="11.4" height="30.4" fill="#e5a6ae"/>
<rect x="1335.0" y="146.0" width="33.1" height="30.4" fill="#eecdd2"/>
<rect x="1367.5" y="146.0" width="22.2" height="30.4" fill="#dc7f89"/>
<rect x="1389.1" y="146.0" width="11.4" height="30.4" fill="#e5a6ae"/>
<rect x="1399.9" y="146.0" width="11.4" height="30.4" fill="#dc7f89"/>
<rect x="1410.7" y="146.0" width="22.2" height="30.4" fill="#eecdd2"/>
<rect x="1432.4" y="146.0" width="22.2" height="30.4" fill="#dc7f89"/>
<rect x="1454.0" y="146.0" width="11.4" height="30.4" fill="#d4505a"/>
<rect x="1464.8" y="146.0" width="11.4" height="30.4" fill="#dc7f89"/>
<rect x="1475.7" y="146.0" width="11.4" height="30.4" fill="#e5a6ae"/>
<rect x="1486.5" y="146.0" width="11.4" height="30.4" fill="#eecdd2"/>
<rect x="1497.3" y="146.0" width="54.7" height="30.4" fill="#dc7f89"/>
<rect x="1551.4" y="146.0" width="11.4" height="30.4" fill="#e5a6ae"/>
<rect x="1562.2" y="146.0" width="11.4" height="30.4" fill="#dc7f89"/>
<rect x="1573.1" y="146.0" width="33.1" height="30.4" fill="#d4505a"/>
<rect x="1605.5" y="146.0" width="11.4" height="30.4" fill="#dc7f89"/>
<rect x="1616.3" y="146.0" width="11.4" height="30.4" fill="#e5a6ae"/>
<rect x="1627.2" y="146.0" width="33.1" height="30.4" fill="#dc7f89"/>
<rect x="1659.6" y="146.0" width="22.2" height="30.4" fill="#e5a6ae"/>
<rect x="1681.3" y="146.0" width="11.4" height="30.4" fill="#90a5c4"/>
<rect x="1692.1" y="146.0" width="11.4" height="30.4" fill="#33528f"/>
<rect x="1702.9" y="146.0" width="11.4" height="30.4" fill="#5877ad"/>
<rect x="1713.7" y="146.0" width="11.4" height="30.4" fill="#7b93bd"/>
<rect x="1724.5" y="146.0" width="11.4" height="30.4" fill="#5877ad"/>
<rect x="1735.4" y="146.0" width="11.4" height="30.4" fill="#7b93bd"/>
<rect x="1746.2" y="146.0" width="11.4" height="30.4" fill="#5877ad"/>
<rect x="1757.0" y="146.0" width="11.4" height="30.4" fill="#7b93bd"/>
<rect x="1767.8" y="146.0" width="11.4" height="30.4" fill="#c3cde0"/>
<rect x="1778.7" y="146.0" width="11.4" height="30.4" fill="#7b93bd"/>
<rect x="1789.5" y="146.0" width="11.4" height="30.4" fill="#5877ad"/>
<rect x="1800.3" y="146.0" width="22.2" height="30.4" fill="#33528f"/>
<rect x="1821.9" y="146.0" width="11.4" height="30.4" fill="#7b93bd"/>
<rect x="1832.8" y="146.0" width="11.4" height="30.4" fill="#90a5c4"/>
<rect x="1843.6" y="146.0" width="11.4" height="30.4" fill="#7b93bd"/>
<rect x="772.3" y="175.8" width="43.9" height="30.4" fill="#c4292c"/>
<rect x="815.6" y="175.8" width="11.4" height="30.4" fill="#d4505a"/>
<rect x="826.4" y="175.8" width="22.2" height="30.4" fill="#c4292c"/>
<rect x="848.0" y="175.8" width="33.1" height="30.4" fill="#d4505a"/>
<rect x="880.5" y="175.8" width="11.4" height="30.4" fill="#dc7f89"/>
<rect x="891.3" y="175.8" width="43.9" height="30.4" fill="#d4505a"/>
<rect x="934.6" y="175.8" width="11.4" height="30.4" fill="#e5a6ae"/>
<rect x="945.4" y="175.8" width="22.2" height="30.4" fill="#dc7f89"/>
<rect x="967.1" y="175.8" width="11.4" height="30.4" fill="#c4292c"/>
<rect x="977.9" y="175.8" width="33.1" height="30.4" fill="#d4505a"/>
<rect x="1010.4" y="175.8" width="76.3" height="30.4" fill="#c4292c"/>
<rect x="1086.1" y="175.8" width="11.4" height="30.4" fill="#d4505a"/>
<rect x="1096.9" y="175.8" width="11.4" height="30.4" fill="#c4292c"/>
<rect x="1107.8" y="175.8" width="11.4" height="30.4" fill="#d4505a"/>
<rect x="1118.6" y="175.8" width="11.4" height="30.4" fill="#c4292c"/>
<rect x="1129.4" y="175.8" width="22.2" height="30.4" fill="#dc7f89"/>
<rect x="1151.0" y="175.8" width="33.1" height="30.4" fill="#c4292c"/>
<rect x="1183.5" y="175.8" width="11.4" height="30.4" fill="#d4505a"/>
<rect x="1194.3" y="175.8" width="22.2" height="30.4" fill="#c4292c"/>
<rect x="1216.0" y="175.8" width="11.4" height="30.4" fill="#d4505a"/>
<rect x="1226.8" y="175.8" width="22.2" height="30.4" fill="#dc7f89"/>
<rect x="1248.4" y="175.8" width="11.4" height="30.4" fill="#e5a6ae"/>
<rect x="1259.2" y="175.8" width="22.2" height="30.4" fill="#d4505a"/>
<rect x="1280.9" y="175.8" width="11.4" height="30.4" fill="#c4292c"/>
<rect x="1291.7" y="175.8" width="11.4" height="30.4" fill="#dc7f89"/>
<rect x="1302.5" y="175.8" width="65.5" height="30.4" fill="#d4505a"/>
<rect x="1367.5" y="175.8" width="11.4" height="30.4" fill="#dc7f89"/>
<rect x="1378.3" y="175.8" width="11.4" height="30.4" fill="#d4505a"/>
<rect x="1389.1" y="175.8" width="11.4" height="30.4" fill="#c4292c"/>
<rect x="1399.9" y="175.8" width="11.4" height="30.4" fill="#d4505a"/>
<rect x="1410.7" y="175.8" width="11.4" height="30.4" fill="#dc7f89"/>
<rect x="1421.6" y="175.8" width="43.9" height="30.4" fill="#d4505a"/>
<rect x="1464.8" y="175.8" width="11.4" height="30.4" fill="#c4292c"/>
<rect x="1475.7" y="175.8" width="22.2" height="30.4" fill="#d4505a"/>
<rect x="1497.3" y="175.8" width="76.3" height="30.4" fill="#c4292c"/>
<rect x="1573.1" y="175.8" width="33.1" height="30.4" fill="#d4505a"/>
<rect x="1605.5" y="175.8" width="54.7" height="30.4" fill="#c4292c"/>
<rect x="1659.6" y="175.8" width="11.4" height="30.4" fill="#d4505a"/>
<rect x="1670.4" y="175.8" width="11.4" height="30.4" fill="#c4292c"/>
<rect x="1681.3" y="175.8" width="22.2" height="30.4" fill="#90a5c4"/>
<rect x="1702.9" y="175.8" width="11.4" height="30.4" fill="#7b93bd"/>
<rect x="1713.7" y="175.8" width="11.4" height="30.4" fill="#5877ad"/>
<rect x="1724.5" y="175.8" width="33.1" height="30.4" fill="#7b93bd"/>
<rect x="1757.0" y="175.8" width="33.1" height="30.4" fill="#33528f"/>
<rect x="1789.5" y="175.8" width="11.4" height="30.4" fill="#7b93bd"/>
<rect x="1800.3" y="175.8" width="33.1" height="30.4" fill="#5877ad"/>
<rect x="1832.8" y="175.8" width="11.4" height="30.4" fill="#7b93bd"/>
<rect x="1843.6" y="175.8" width="11.4" height="30.4" fill="#5877ad"/>
<rect x="772.3" y="205.6" width="22.2" height="30.4" fill="#c4292c"/>
<rect x="793.9" y="205.6" width="11.4" height="30.4" fill="#d4505a"/>
<rect x="804.8" y="205.6" width="877.1" height="30.4" fill="#c4292c"/>
<rect x="1681.3" y="205.6" width="11.4" height="30.4" fill="#90a5c4"/>
<rect x="1692.1" y="205.6" width="22.2" height="30.4" fill="#33528f"/>
<rect x="1713.7" y="205.6" width="11.4" height="30.4" fill="#5877ad"/>
<rect x="1724.5" y="205.6" width="11.4" height="30.4" fill="#33528f"/>
<rect x="1735.4" y="205.6" width="22.2" height="30.4" fill="#5877ad"/>
<rect x="1757.0" y="205.6" width="11.4" height="30.4" fill="#7b93bd"/>
<rect x="1767.8" y="205.6" width="11.4" height="30.4" fill="#33528f"/>
<rect x="1778.7" y="205.6" width="22.2" height="30.4" fill="#5877ad"/>
<rect x="1800.3" y="205.6" width="33.1" height="30.4" fill="#33528f"/>
<rect x="1832.8" y="205.6" width="11.4" height="30.4" fill="#5877ad"/>
<rect x="1843.6" y="205.6" width="11.4" height="30.4" fill="#33528f"/>
<rect x="772.3" y="235.5" width="909.6" height="30.4" fill="#c4292c"/>
<rect x="1681.3" y="235.5" width="11.4" height="30.4" fill="#90a5c4"/>
<rect x="1692.1" y="235.5" width="22.2" height="30.4" fill="#33528f"/>
<rect x="1713.7" y="235.5" width="11.4" height="30.4" fill="#7b93bd"/>
<rect x="1724.5" y="235.5" width="11.4" height="30.4" fill="#5877ad"/>
<rect x="1735.4" y="235.5" width="11.4" height="30.4" fill="#33528f"/>
<rect x="1746.2" y="235.5" width="11.4" height="30.4" fill="#5877ad"/>
<rect x="1757.0" y="235.5" width="11.4" height="30.4" fill="#33528f"/>
<rect x="1767.8" y="235.5" width="33.1" height="30.4" fill="#5877ad"/>
<rect x="1800.3" y="235.5" width="11.4" height="30.4" fill="#33528f"/>
<rect x="1811.1" y="235.5" width="11.4" height="30.4" fill="#5877ad"/>
<rect x="1821.9" y="235.5" width="33.1" height="30.4" fill="#33528f"/>
<rect x="772.3" y="265.3" width="11.4" height="30.4" fill="#90a5c4"/>
<rect x="783.1" y="265.3" width="22.2" height="30.4" fill="#d4505a"/>
<rect x="804.8" y="265.3" width="11.4" height="30.4" fill="#dc7f89"/>
<rect x="815.6" y="265.3" width="11.4" height="30.4" fill="#d4505a"/>
<rect x="826.4" y="265.3" width="11.4" height="30.4" fill="#dc7f89"/>
<rect x="837.2" y="265.3" width="87.2" height="30.4" fill="#c4292c"/>
<rect x="923.8" y="265.3" width="11.4" height="30.4" fill="#d4505a"/>
<rect x="934.6" y="265.3" width="87.2" height="30.4" fill="#c4292c"/>
<rect x="1021.2" y="265.3" width="33.1" height="30.4" fill="#dc7f89"/>
<rect x="1053.6" y="265.3" width="11.4" height="30.4" fill="#e5a6ae"/>
<rect x="1064.5" y="265.3" width="11.4" height="30.4" fill="#c4292c"/>
<rect x="1075.3" y="265.3" width="22.2" height="30.4" fill="#d4505a"/>
<rect x="1096.9" y="265.3" width="11.4" height="30.4" fill="#c4292c"/>
<rect x="1107.8" y="265.3" width="11.4" height="30.4" fill="#dc7f89"/>
<rect x="1118.6" y="265.3" width="22.2" height="30.4" fill="#e5a6ae"/>
<rect x="1140.2" y="265.3" width="11.4" height="30.4" fill="#dc7f89"/>
<rect x="1151.0" y="265.3" width="465.9" height="30.4" fill="#c4292c"/>
<rect x="1616.3" y="265.3" width="22.2" height="30.4" fill="#d4505a"/>
<rect x="1638.0" y="265.3" width="43.9" height="30.4" fill="#c4292c"/>
<rect x="1681.3" y="265.3" width="11.4" height="30.4" fill="#90a5c4"/>
<rect x="1692.1" y="265.3" width="11.4" height="30.4" fill="#5877ad"/>
<rect x="1702.9" y="265.3" width="33.1" height="30.4" fill="#33528f"/>
<rect x="1735.4" y="265.3" width="22.2" height="30.4" fill="#5877ad"/>
<rect x="1757.0" y="265.3" width="22.2" height="30.4" fill="#7b93bd"/>
<rect x="1778.7" y="265.3" width="22.2" height="30.4" fill="#33528f"/>
<rect x="1800.3" y="265.3" width="11.4" height="30.4" fill="#c3cde0"/>
<rect x="1811.1" y="265.3" width="22.2" height="30.4" fill="#33528f"/>
<rect x="1832.8" y="265.3" width="22.2" height="30.4" fill="#7b93bd"/>
<rect x="772.3" y="295.1" width="22.2" height="30.4" fill="#7b93bd"/>
<rect x="793.9" y="295.1" width="65.5" height="30.4" fill="#90a5c4"/>
<rect x="858.9" y="295.1" width="11.4" height="30.4" fill="#5877ad"/>
<rect x="869.7" y="295.1" width="11.4" height="30.4" fill="#7b93bd"/>
<rect x="880.5" y="295.1" width="11.4" height="30.4" fill="#5877ad"/>
<rect x="891.3" y="295.1" width="11.4" height="30.4" fill="#7b93bd"/>
<rect x="902.2" y="295.1" width="11.4" height="30.4" fill="#33528f"/>
<rect x="913.0" y="295.1" width="11.4" height="30.4" fill="#7b93bd"/>
<rect x="923.8" y="295.1" width="11.4" height="30.4" fill="#5877ad"/>
<rect x="934.6" y="295.1" width="33.1" height="30.4" fill="#90a5c4"/>
<rect x="967.1" y="295.1" width="11.4" height="30.4" fill="#33528f"/>
<rect x="977.9" y="295.1" width="43.9" height="30.4" fill="#7b93bd"/>
<rect x="1021.2" y="295.1" width="11.4" height="30.4" fill="#90a5c4"/>
<rect x="1032.0" y="295.1" width="11.4" height="30.4" fill="#33528f"/>
<rect x="1042.8" y="295.1" width="11.4" height="30.4" fill="#7b93bd"/>
<rect x="1053.6" y="295.1" width="11.4" height="30.4" fill="#33528f"/>
<rect x="1064.5" y="295.1" width="11.4" height="30.4" fill="#90a5c4"/>
<rect x="1075.3" y="295.1" width="43.9" height="30.4" fill="#7b93bd"/>
<rect x="1118.6" y="295.1" width="22.2" height="30.4" fill="#90a5c4"/>
<rect x="1140.2" y="295.1" width="22.2" height="30.4" fill="#7b93bd"/>
<rect x="1161.9" y="295.1" width="11.4" height="30.4" fill="#33528f"/>
<rect x="1172.7" y="295.1" width="33.1" height="30.4" fill="#7b93bd"/>
<rect x="1205.1" y="295.1" width="11.4" height="30.4" fill="#90a5c4"/>
<rect x="1216.0" y="295.1" width="11.4" height="30.4" fill="#7b93bd"/>
<rect x="1226.8" y="295.1" width="54.7" height="30.4" fill="#90a5c4"/>
<rect x="1280.9" y="295.1" width="11.4" height="30.4" fill="#33528f"/>
<rect x="1291.7" y="295.1" width="33.1" height="30.4" fill="#7b93bd"/>
<rect x="1324.2" y="295.1" width="11.4" height="30.4" fill="#90a5c4"/>
<rect x="1335.0" y="295.1" width="22.2" height="30.4" fill="#7b93bd"/>
<rect x="1356.6" y="295.1" width="11.4" height="30.4" fill="#90a5c4"/>
<rect x="1367.5" y="295.1" width="11.4" height="30.4" fill="#7b93bd"/>
<rect x="1378.3" y="295.1" width="11.4" height="30.4" fill="#5877ad"/>
<rect x="1389.1" y="295.1" width="11.4" height="30.4" fill="#7b93bd"/>
<rect x="1399.9" y="295.1" width="11.4" height="30.4" fill="#90a5c4"/>
<rect x="1410.7" y="295.1" width="11.4" height="30.4" fill="#5877ad"/>
<rect x="1421.6" y="295.1" width="22.2" height="30.4" fill="#7b93bd"/>
<rect x="1443.2" y="295.1" width="11.4" height="30.4" fill="#5877ad"/>
<rect x="1454.0" y="295.1" width="11.4" height="30.4" fill="#90a5c4"/>
<rect x="1464.8" y="295.1" width="11.4" height="30.4" fill="#5877ad"/>
<rect x="1475.7" y="295.1" width="87.2" height="30.4" fill="#90a5c4"/>
<rect x="1562.2" y="295.1" width="11.4" height="30.4" fill="#7b93bd"/>
<rect x="1573.1" y="295.1" width="11.4" height="30.4" fill="#5877ad"/>
<rect x="1583.9" y="295.1" width="22.2" height="30.4" fill="#33528f"/>
<rect x="1605.5" y="295.1" width="11.4" height="30.4" fill="#5877ad"/>
<rect x="1616.3" y="295.1" width="33.1" height="30.4" fill="#7b93bd"/>
<rect x="1648.8" y="295.1" width="11.4" height="30.4" fill="#90a5c4"/>
<rect x="1659.6" y="295.1" width="22.2" height="30.4" fill="#7b93bd"/>
<rect x="1681.3" y="295.1" width="11.4" height="30.4" fill="#90a5c4"/>
<rect x="1692.1" y="295.1" width="11.4" height="30.4" fill="#dc7f89"/>
<rect x="1702.9" y="295.1" width="11.4" height="30.4" fill="#c4292c"/>
<rect x="1713.7" y="295.1" width="11.4" height="30.4" fill="#eecdd2"/>
<rect x="1724.5" y="295.1" width="11.4" height="30.4" fill="#c4292c"/>
<rect x="1735.4" y="295.1" width="11.4" height="30.4" fill="#dc7f89"/>
<rect x="1746.2" y="295.1" width="11.4" height="30.4" fill="#e5a6ae"/>
<rect x="1757.0" y="295.1" width="11.4" height="30.4" fill="#d4505a"/>
<rect x="1767.8" y="295.1" width="11.4" height="30.4" fill="#e5a6ae"/>
<rect x="1778.7" y="295.1" width="11.4" height="30.4" fill="#dc7f89"/>
<rect x="1789.5" y="295.1" width="11.4" height="30.4" fill="#eecdd2"/>
<rect x="1800.3" y="295.1" width="11.4" height="30.4" fill="#dc7f89"/>
<rect x="1811.1" y="295.1" width="11.4" height="30.4" fill="#c4292c"/>
<rect x="1821.9" y="295.1" width="11.4" height="30.4" fill="#dc7f89"/>
<rect x="1832.8" y="295.1" width="11.4" height="30.4" fill="#eecdd2"/>
<rect x="1843.6" y="295.1" width="11.4" height="30.4" fill="#c4292c"/>
<rect x="772.3" y="325.0" width="11.4" height="30.4" fill="#7b93bd"/>
<rect x="783.1" y="325.0" width="11.4" height="30.4" fill="#5877ad"/>
<rect x="793.9" y="325.0" width="11.4" height="30.4" fill="#7b93bd"/>
<rect x="804.8" y="325.0" width="11.4" height="30.4" fill="#90a5c4"/>
<rect x="815.6" y="325.0" width="22.2" height="30.4" fill="#7b93bd"/>
<rect x="837.2" y="325.0" width="11.4" height="30.4" fill="#33528f"/>
<rect x="848.0" y="325.0" width="22.2" height="30.4" fill="#7b93bd"/>
<rect x="869.7" y="325.0" width="11.4" height="30.4" fill="#5877ad"/>
<rect x="880.5" y="325.0" width="11.4" height="30.4" fill="#90a5c4"/>
<rect x="891.3" y="325.0" width="33.1" height="30.4" fill="#5877ad"/>
<rect x="923.8" y="325.0" width="11.4" height="30.4" fill="#7b93bd"/>
<rect x="934.6" y="325.0" width="54.7" height="30.4" fill="#90a5c4"/>
<rect x="988.7" y="325.0" width="11.4" height="30.4" fill="#7b93bd"/>
<rect x="999.5" y="325.0" width="33.1" height="30.4" fill="#90a5c4"/>
<rect x="1032.0" y="325.0" width="11.4" height="30.4" fill="#c3cde0"/>
<rect x="1042.8" y="325.0" width="130.5" height="30.4" fill="#7b93bd"/>
<rect x="1172.7" y="325.0" width="22.2" height="30.4" fill="#90a5c4"/>
<rect x="1194.3" y="325.0" width="11.4" height="30.4" fill="#5877ad"/>
<rect x="1205.1" y="325.0" width="11.4" height="30.4" fill="#90a5c4"/>
<rect x="1216.0" y="325.0" width="11.4" height="30.4" fill="#c3cde0"/>
<rect x="1226.8" y="325.0" width="22.2" height="30.4" fill="#90a5c4"/>
<rect x="1248.4" y="325.0" width="33.1" height="30.4" fill="#7b93bd"/>
<rect x="1280.9" y="325.0" width="11.4" height="30.4" fill="#c3cde0"/>
<rect x="1291.7" y="325.0" width="22.2" height="30.4" fill="#7b93bd"/>
<rect x="1313.3" y="325.0" width="54.7" height="30.4" fill="#90a5c4"/>
<rect x="1367.5" y="325.0" width="11.4" height="30.4" fill="#7b93bd"/>
<rect x="1378.3" y="325.0" width="76.3" height="30.4" fill="#90a5c4"/>
<rect x="1454.0" y="325.0" width="43.9" height="30.4" fill="#7b93bd"/>
<rect x="1497.3" y="325.0" width="108.8" height="30.4" fill="#90a5c4"/>
<rect x="1605.5" y="325.0" width="22.2" height="30.4" fill="#7b93bd"/>
<rect x="1627.2" y="325.0" width="11.4" height="30.4" fill="#5877ad"/>
<rect x="1638.0" y="325.0" width="11.4" height="30.4" fill="#90a5c4"/>
<rect x="1648.8" y="325.0" width="33.1" height="30.4" fill="#7b93bd"/>
<rect x="1681.3" y="325.0" width="11.4" height="30.4" fill="#90a5c4"/>
<rect x="1692.1" y="325.0" width="22.2" height="30.4" fill="#dc7f89"/>
<rect x="1713.7" y="325.0" width="11.4" height="30.4" fill="#eecdd2"/>
<rect x="1724.5" y="325.0" width="11.4" height="30.4" fill="#d4505a"/>
<rect x="1735.4" y="325.0" width="33.1" height="30.4" fill="#dc7f89"/>
<rect x="1767.8" y="325.0" width="11.4" height="30.4" fill="#e5a6ae"/>
<rect x="1778.7" y="325.0" width="11.4" height="30.4" fill="#eecdd2"/>
<rect x="1789.5" y="325.0" width="11.4" height="30.4" fill="#e5a6ae"/>
<rect x="1800.3" y="325.0" width="11.4" height="30.4" fill="#dc7f89"/>
<rect x="1811.1" y="325.0" width="22.2" height="30.4" fill="#d4505a"/>
<rect x="1832.8" y="325.0" width="11.4" height="30.4" fill="#dc7f89"/>
<rect x="1843.6" y="325.0" width="11.4" height="30.4" fill="#d4505a"/>
<rect x="772.3" y="354.8" width="11.4" height="30.4" fill="#90a5c4"/>
<rect x="783.1" y="354.8" width="11.4" height="30.4" fill="#33528f"/>
<rect x="793.9" y="354.8" width="33.1" height="30.4" fill="#90a5c4"/>
<rect x="826.4" y="354.8" width="11.4" height="30.4" fill="#7b93bd"/>
<rect x="837.2" y="354.8" width="11.4" height="30.4" fill="#90a5c4"/>
<rect x="848.0" y="354.8" width="11.4" height="30.4" fill="#7b93bd"/>
<rect x="858.9" y="354.8" width="11.4" height="30.4" fill="#c3cde0"/>
<rect x="869.7" y="354.8" width="11.4" height="30.4" fill="#90a5c4"/>
<rect x="880.5" y="354.8" width="22.2" height="30.4" fill="#7b93bd"/>
<rect x="902.2" y="354.8" width="11.4" height="30.4" fill="#5877ad"/>
<rect x="913.0" y="354.8" width="11.4" height="30.4" fill="#7b93bd"/>
<rect x="923.8" y="354.8" width="11.4" height="30.4" fill="#33528f"/>
<rect x="934.6" y="354.8" width="11.4" height="30.4" fill="#7b93bd"/>
<rect x="945.4" y="354.8" width="11.4" height="30.4" fill="#5877ad"/>
<rect x="956.3" y="354.8" width="33.1" height="30.4" fill="#7b93bd"/>
<rect x="988.7" y="354.8" width="11.4" height="30.4" fill="#5877ad"/>
<rect x="999.5" y="354.8" width="22.2" height="30.4" fill="#90a5c4"/>
<rect x="1021.2" y="354.8" width="11.4" height="30.4" fill="#7b93bd"/>
<rect x="1032.0" y="354.8" width="43.9" height="30.4" fill="#90a5c4"/>
<rect x="1075.3" y="354.8" width="11.4" height="30.4" fill="#c3cde0"/>
<rect x="1086.1" y="354.8" width="43.9" height="30.4" fill="#90a5c4"/>
<rect x="1129.4" y="354.8" width="11.4" height="30.4" fill="#7b93bd"/>
<rect x="1140.2" y="354.8" width="22.2" height="30.4" fill="#90a5c4"/>
<rect x="1161.9" y="354.8" width="11.4" height="30.4" fill="#c3cde0"/>
<rect x="1172.7" y="354.8" width="22.2" height="30.4" fill="#7b93bd"/>
<rect x="1194.3" y="354.8" width="11.4" height="30.4" fill="#5877ad"/>
<rect x="1205.1" y="354.8" width="11.4" height="30.4" fill="#7b93bd"/>
<rect x="1216.0" y="354.8" width="33.1" height="30.4" fill="#90a5c4"/>
<rect x="1248.4" y="354.8" width="11.4" height="30.4" fill="#5877ad"/>
<rect x="1259.2" y="354.8" width="87.2" height="30.4" fill="#7b93bd"/>
<rect x="1345.8" y="354.8" width="11.4" height="30.4" fill="#90a5c4"/>
<rect x="1356.6" y="354.8" width="11.4" height="30.4" fill="#7b93bd"/>
<rect x="1367.5" y="354.8" width="11.4" height="30.4" fill="#90a5c4"/>
<rect x="1378.3" y="354.8" width="11.4" height="30.4" fill="#7b93bd"/>
<rect x="1389.1" y="354.8" width="11.4" height="30.4" fill="#c3cde0"/>
<rect x="1399.9" y="354.8" width="33.1" height="30.4" fill="#7b93bd"/>
<rect x="1432.4" y="354.8" width="11.4" height="30.4" fill="#5877ad"/>
<rect x="1443.2" y="354.8" width="11.4" height="30.4" fill="#7b93bd"/>
<rect x="1454.0" y="354.8" width="22.2" height="30.4" fill="#90a5c4"/>
<rect x="1475.7" y="354.8" width="11.4" height="30.4" fill="#7b93bd"/>
<rect x="1486.5" y="354.8" width="11.4" height="30.4" fill="#90a5c4"/>
<rect x="1497.3" y="354.8" width="11.4" height="30.4" fill="#5877ad"/>
<rect x="1508.1" y="354.8" width="11.4" height="30.4" fill="#7b93bd"/>
<rect x="1518.9" y="354.8" width="11.4" height="30.4" fill="#90a5c4"/>
<rect x="1529.8" y="354.8" width="11.4" height="30.4" fill="#7b93bd"/>
<rect x="1540.6" y="354.8" width="11.4" height="30.4" fill="#5877ad"/>
<rect x="1551.4" y="354.8" width="22.2" height="30.4" fill="#7b93bd"/>
<rect x="1573.1" y="354.8" width="11.4" height="30.4" fill="#5877ad"/>
<rect x="1583.9" y="354.8" width="43.9" height="30.4" fill="#7b93bd"/>
<rect x="1627.2" y="354.8" width="11.4" height="30.4" fill="#5877ad"/>
<rect x="1638.0" y="354.8" width="11.4" height="30.4" fill="#7b93bd"/>
<rect x="1648.8" y="354.8" width="11.4" height="30.4" fill="#90a5c4"/>
<rect x="1659.6" y="354.8" width="22.2" height="30.4" fill="#7b93bd"/>
<rect x="1681.3" y="354.8" width="11.4" height="30.4" fill="#90a5c4"/>
<rect x="1692.1" y="354.8" width="11.4" height="30.4" fill="#d4505a"/>
<rect x="1702.9" y="354.8" width="11.4" height="30.4" fill="#e5a6ae"/>
<rect x="1713.7" y="354.8" width="11.4" height="30.4" fill="#dc7f89"/>
<rect x="1724.5" y="354.8" width="11.4" height="30.4" fill="#e5a6ae"/>
<rect x="1735.4" y="354.8" width="11.4" height="30.4" fill="#f3f1f4"/>
<rect x="1746.2" y="354.8" width="11.4" height="30.4" fill="#e5a6ae"/>
<rect x="1757.0" y="354.8" width="11.4" height="30.4" fill="#d4505a"/>
<rect x="1767.8" y="354.8" width="11.4" height="30.4" fill="#c4292c"/>
<rect x="1778.7" y="354.8" width="22.2" height="30.4" fill="#eecdd2"/>
<rect x="1800.3" y="354.8" width="11.4" height="30.4" fill="#d4505a"/>
<rect x="1811.1" y="354.8" width="11.4" height="30.4" fill="#dc7f89"/>
<rect x="1821.9" y="354.8" width="11.4" height="30.4" fill="#e5a6ae"/>
<rect x="1832.8" y="354.8" width="22.2" height="30.4" fill="#c4292c"/>
<rect x="772.3" y="384.6" width="11.4" height="30.4" fill="#7b93bd"/>
<rect x="783.1" y="384.6" width="22.2" height="30.4" fill="#33528f"/>
<rect x="804.8" y="384.6" width="33.1" height="30.4" fill="#5877ad"/>
<rect x="837.2" y="384.6" width="11.4" height="30.4" fill="#7b93bd"/>
<rect x="848.0" y="384.6" width="11.4" height="30.4" fill="#5877ad"/>
<rect x="858.9" y="384.6" width="11.4" height="30.4" fill="#7b93bd"/>
<rect x="869.7" y="384.6" width="22.2" height="30.4" fill="#5877ad"/>
<rect x="891.3" y="384.6" width="33.1" height="30.4" fill="#7b93bd"/>
<rect x="923.8" y="384.6" width="11.4" height="30.4" fill="#f3f1f4"/>
<rect x="934.6" y="384.6" width="11.4" height="30.4" fill="#5877ad"/>
<rect x="945.4" y="384.6" width="11.4" height="30.4" fill="#33528f"/>
<rect x="956.3" y="384.6" width="11.4" height="30.4" fill="#90a5c4"/>
<rect x="967.1" y="384.6" width="54.7" height="30.4" fill="#7b93bd"/>
<rect x="1021.2" y="384.6" width="22.2" height="30.4" fill="#5877ad"/>
<rect x="1042.8" y="384.6" width="11.4" height="30.4" fill="#33528f"/>
<rect x="1053.6" y="384.6" width="11.4" height="30.4" fill="#5877ad"/>
<rect x="1064.5" y="384.6" width="33.1" height="30.4" fill="#7b93bd"/>
<rect x="1096.9" y="384.6" width="22.2" height="30.4" fill="#5877ad"/>
<rect x="1118.6" y="384.6" width="11.4" height="30.4" fill="#90a5c4"/>
<rect x="1129.4" y="384.6" width="22.2" height="30.4" fill="#7b93bd"/>
<rect x="1151.0" y="384.6" width="11.4" height="30.4" fill="#90a5c4"/>
<rect x="1161.9" y="384.6" width="11.4" height="30.4" fill="#7b93bd"/>
<rect x="1172.7" y="384.6" width="11.4" height="30.4" fill="#90a5c4"/>
<rect x="1183.5" y="384.6" width="33.1" height="30.4" fill="#7b93bd"/>
<rect x="1216.0" y="384.6" width="22.2" height="30.4" fill="#5877ad"/>
<rect x="1237.6" y="384.6" width="22.2" height="30.4" fill="#7b93bd"/>
<rect x="1259.2" y="384.6" width="22.2" height="30.4" fill="#5877ad"/>
<rect x="1280.9" y="384.6" width="33.1" height="30.4" fill="#7b93bd"/>
<rect x="1313.3" y="384.6" width="11.4" height="30.4" fill="#5877ad"/>
<rect x="1324.2" y="384.6" width="43.9" height="30.4" fill="#7b93bd"/>
<rect x="1367.5" y="384.6" width="11.4" height="30.4" fill="#33528f"/>
<rect x="1378.3" y="384.6" width="22.2" height="30.4" fill="#7b93bd"/>
<rect x="1399.9" y="384.6" width="11.4" height="30.4" fill="#90a5c4"/>
<rect x="1410.7" y="384.6" width="33.1" height="30.4" fill="#7b93bd"/>
<rect x="1443.2" y="384.6" width="11.4" height="30.4" fill="#5877ad"/>
<rect x="1454.0" y="384.6" width="33.1" height="30.4" fill="#7b93bd"/>
<rect x="1486.5" y="384.6" width="65.5" height="30.4" fill="#5877ad"/>
<rect x="1551.4" y="384.6" width="11.4" height="30.4" fill="#90a5c4"/>
<rect x="1562.2" y="384.6" width="11.4" height="30.4" fill="#7b93bd"/>
<rect x="1573.1" y="384.6" width="11.4" height="30.4" fill="#5877ad"/>
<rect x="1583.9" y="384.6" width="22.2" height="30.4" fill="#7b93bd"/>
<rect x="1605.5" y="384.6" width="33.1" height="30.4" fill="#90a5c4"/>
<rect x="1638.0" y="384.6" width="11.4" height="30.4" fill="#7b93bd"/>
<rect x="1648.8" y="384.6" width="11.4" height="30.4" fill="#5877ad"/>
<rect x="1659.6" y="384.6" width="22.2" height="30.4" fill="#7b93bd"/>
<rect x="1681.3" y="384.6" width="11.4" height="30.4" fill="#c3cde0"/>
<rect x="1692.1" y="384.6" width="11.4" height="30.4" fill="#dc7f89"/>
<rect x="1702.9" y="384.6" width="11.4" height="30.4" fill="#e5a6ae"/>
<rect x="1713.7" y="384.6" width="22.2" height="30.4" fill="#d4505a"/>
<rect x="1735.4" y="384.6" width="22.2" height="30.4" fill="#c4292c"/>
<rect x="1757.0" y="384.6" width="33.1" height="30.4" fill="#d4505a"/>
<rect x="1789.5" y="384.6" width="43.9" height="30.4" fill="#c4292c"/>
<rect x="1832.8" y="384.6" width="11.4" height="30.4" fill="#d4505a"/>
<rect x="1843.6" y="384.6" width="11.4" height="30.4" fill="#eecdd2"/>
<rect x="772.3" y="414.5" width="22.2" height="30.4" fill="#7b93bd"/>
<rect x="793.9" y="414.5" width="54.7" height="30.4" fill="#5877ad"/>
<rect x="848.0" y="414.5" width="11.4" height="30.4" fill="#33528f"/>
<rect x="858.9" y="414.5" width="11.4" height="30.4" fill="#7b93bd"/>
<rect x="869.7" y="414.5" width="11.4" height="30.4" fill="#90a5c4"/>
<rect x="880.5" y="414.5" width="65.5" height="30.4" fill="#7b93bd"/>
<rect x="945.4" y="414.5" width="11.4" height="30.4" fill="#5877ad"/>
<rect x="956.3" y="414.5" width="11.4" height="30.4" fill="#7b93bd"/>
<rect x="967.1" y="414.5" width="11.4" height="30.4" fill="#5877ad"/>
<rect x="977.9" y="414.5" width="11.4" height="30.4" fill="#7b93bd"/>
<rect x="988.7" y="414.5" width="22.2" height="30.4" fill="#90a5c4"/>
<rect x="1010.4" y="414.5" width="22.2" height="30.4" fill="#5877ad"/>
<rect x="1032.0" y="414.5" width="33.1" height="30.4" fill="#7b93bd"/>
<rect x="1064.5" y="414.5" width="11.4" height="30.4" fill="#90a5c4"/>
<rect x="1075.3" y="414.5" width="11.4" height="30.4" fill="#5877ad"/>
<rect x="1086.1" y="414.5" width="11.4" height="30.4" fill="#7b93bd"/>
<rect x="1096.9" y="414.5" width="22.2" height="30.4" fill="#5877ad"/>
<rect x="1118.6" y="414.5" width="11.4" height="30.4" fill="#7b93bd"/>
<rect x="1129.4" y="414.5" width="11.4" height="30.4" fill="#90a5c4"/>
<rect x="1140.2" y="414.5" width="43.9" height="30.4" fill="#7b93bd"/>
<rect x="1183.5" y="414.5" width="11.4" height="30.4" fill="#5877ad"/>
<rect x="1194.3" y="414.5" width="11.4" height="30.4" fill="#7b93bd"/>
<rect x="1205.1" y="414.5" width="11.4" height="30.4" fill="#90a5c4"/>
<rect x="1216.0" y="414.5" width="22.2" height="30.4" fill="#5877ad"/>
<rect x="1237.6" y="414.5" width="22.2" height="30.4" fill="#7b93bd"/>
<rect x="1259.2" y="414.5" width="11.4" height="30.4" fill="#90a5c4"/>
<rect x="1270.1" y="414.5" width="11.4" height="30.4" fill="#5877ad"/>
<rect x="1280.9" y="414.5" width="11.4" height="30.4" fill="#33528f"/>
<rect x="1291.7" y="414.5" width="22.2" height="30.4" fill="#7b93bd"/>
<rect x="1313.3" y="414.5" width="11.4" height="30.4" fill="#90a5c4"/>
<rect x="1324.2" y="414.5" width="11.4" height="30.4" fill="#5877ad"/>
<rect x="1335.0" y="414.5" width="22.2" height="30.4" fill="#33528f"/>
<rect x="1356.6" y="414.5" width="22.2" height="30.4" fill="#7b93bd"/>
<rect x="1378.3" y="414.5" width="22.2" height="30.4" fill="#5877ad"/>
<rect x="1399.9" y="414.5" width="22.2" height="30.4" fill="#7b93bd"/>
<rect x="1421.6" y="414.5" width="11.4" height="30.4" fill="#90a5c4"/>
<rect x="1432.4" y="414.5" width="11.4" height="30.4" fill="#7b93bd"/>
<rect x="1443.2" y="414.5" width="11.4" height="30.4" fill="#90a5c4"/>
<rect x="1454.0" y="414.5" width="22.2" height="30.4" fill="#7b93bd"/>
<rect x="1475.7" y="414.5" width="22.2" height="30.4" fill="#90a5c4"/>
<rect x="1497.3" y="414.5" width="11.4" height="30.4" fill="#7b93bd"/>
<rect x="1508.1" y="414.5" width="11.4" height="30.4" fill="#33528f"/>
<rect x="1518.9" y="414.5" width="11.4" height="30.4" fill="#5877ad"/>
<rect x="1529.8" y="414.5" width="11.4" height="30.4" fill="#90a5c4"/>
<rect x="1540.6" y="414.5" width="22.2" height="30.4" fill="#5877ad"/>
<rect x="1562.2" y="414.5" width="22.2" height="30.4" fill="#7b93bd"/>
<rect x="1583.9" y="414.5" width="11.4" height="30.4" fill="#90a5c4"/>
<rect x="1594.7" y="414.5" width="22.2" height="30.4" fill="#7b93bd"/>
<rect x="1616.3" y="414.5" width="22.2" height="30.4" fill="#5877ad"/>
<rect x="1638.0" y="414.5" width="11.4" height="30.4" fill="#90a5c4"/>
<rect x="1648.8" y="414.5" width="33.1" height="30.4" fill="#7b93bd"/>
<rect x="1681.3" y="414.5" width="11.4" height="30.4" fill="#90a5c4"/>
<rect x="1692.1" y="414.5" width="11.4" height="30.4" fill="#d4505a"/>
<rect x="1702.9" y="414.5" width="22.2" height="30.4" fill="#c4292c"/>
<rect x="1724.5" y="414.5" width="11.4" height="30.4" fill="#dc7f89"/>
<rect x="1735.4" y="414.5" width="33.1" height="30.4" fill="#d4505a"/>
<rect x="1767.8" y="414.5" width="11.4" height="30.4" fill="#dc7f89"/>
<rect x="1778.7" y="414.5" width="11.4" height="30.4" fill="#d4505a"/>
<rect x="1789.5" y="414.5" width="11.4" height="30.4" fill="#c4292c"/>
<rect x="1800.3" y="414.5" width="33.1" height="30.4" fill="#dc7f89"/>
<rect x="1832.8" y="414.5" width="11.4" height="30.4" fill="#d4505a"/>
<rect x="1843.6" y="414.5" width="11.4" height="30.4" fill="#e5a6ae"/>
<rect x="772.3" y="444.3" width="33.1" height="30.4" fill="#7b93bd"/>
<rect x="804.8" y="444.3" width="22.2" height="30.4" fill="#5877ad"/>
<rect x="826.4" y="444.3" width="11.4" height="30.4" fill="#33528f"/>
<rect x="837.2" y="444.3" width="11.4" height="30.4" fill="#5877ad"/>
<rect x="848.0" y="444.3" width="11.4" height="30.4" fill="#7b93bd"/>
<rect x="858.9" y="444.3" width="11.4" height="30.4" fill="#5877ad"/>
<rect x="869.7" y="444.3" width="22.2" height="30.4" fill="#7b93bd"/>
<rect x="891.3" y="444.3" width="11.4" height="30.4" fill="#5877ad"/>
<rect x="902.2" y="444.3" width="22.2" height="30.4" fill="#7b93bd"/>
<rect x="923.8" y="444.3" width="11.4" height="30.4" fill="#90a5c4"/>
<rect x="934.6" y="444.3" width="22.2" height="30.4" fill="#7b93bd"/>
<rect x="956.3" y="444.3" width="11.4" height="30.4" fill="#5877ad"/>
<rect x="967.1" y="444.3" width="33.1" height="30.4" fill="#7b93bd"/>
<rect x="999.5" y="444.3" width="11.4" height="30.4" fill="#5877ad"/>
<rect x="1010.4" y="444.3" width="11.4" height="30.4" fill="#90a5c4"/>
<rect x="1021.2" y="444.3" width="11.4" height="30.4" fill="#7b93bd"/>
<rect x="1032.0" y="444.3" width="22.2" height="30.4" fill="#5877ad"/>
<rect x="1053.6" y="444.3" width="11.4" height="30.4" fill="#7b93bd"/>
<rect x="1064.5" y="444.3" width="22.2" height="30.4" fill="#5877ad"/>
<rect x="1086.1" y="444.3" width="22.2" height="30.4" fill="#90a5c4"/>
<rect x="1107.8" y="444.3" width="22.2" height="30.4" fill="#7b93bd"/>
<rect x="1129.4" y="444.3" width="11.4" height="30.4" fill="#5877ad"/>
<rect x="1140.2" y="444.3" width="11.4" height="30.4" fill="#7b93bd"/>
<rect x="1151.0" y="444.3" width="11.4" height="30.4" fill="#33528f"/>
<rect x="1161.9" y="444.3" width="11.4" height="30.4" fill="#7b93bd"/>
<rect x="1172.7" y="444.3" width="22.2" height="30.4" fill="#5877ad"/>
<rect x="1194.3" y="444.3" width="11.4" height="30.4" fill="#7b93bd"/>
<rect x="1205.1" y="444.3" width="11.4" height="30.4" fill="#90a5c4"/>
<rect x="1216.0" y="444.3" width="11.4" height="30.4" fill="#7b93bd"/>
<rect x="1226.8" y="444.3" width="43.9" height="30.4" fill="#90a5c4"/>
<rect x="1270.1" y="444.3" width="22.2" height="30.4" fill="#7b93bd"/>
<rect x="1291.7" y="444.3" width="11.4" height="30.4" fill="#90a5c4"/>
<rect x="1302.5" y="444.3" width="11.4" height="30.4" fill="#7b93bd"/>
<rect x="1313.3" y="444.3" width="11.4" height="30.4" fill="#90a5c4"/>
<rect x="1324.2" y="444.3" width="11.4" height="30.4" fill="#5877ad"/>
<rect x="1335.0" y="444.3" width="22.2" height="30.4" fill="#90a5c4"/>
<rect x="1356.6" y="444.3" width="11.4" height="30.4" fill="#7b93bd"/>
<rect x="1367.5" y="444.3" width="33.1" height="30.4" fill="#90a5c4"/>
<rect x="1399.9" y="444.3" width="11.4" height="30.4" fill="#7b93bd"/>
<rect x="1410.7" y="444.3" width="11.4" height="30.4" fill="#90a5c4"/>
<rect x="1421.6" y="444.3" width="33.1" height="30.4" fill="#7b93bd"/>
<rect x="1454.0" y="444.3" width="22.2" height="30.4" fill="#5877ad"/>
<rect x="1475.7" y="444.3" width="11.4" height="30.4" fill="#7b93bd"/>
<rect x="1486.5" y="444.3" width="22.2" height="30.4" fill="#5877ad"/>
<rect x="1508.1" y="444.3" width="22.2" height="30.4" fill="#7b93bd"/>
<rect x="1529.8" y="444.3" width="11.4" height="30.4" fill="#33528f"/>
<rect x="1540.6" y="444.3" width="11.4" height="30.4" fill="#7b93bd"/>
<rect x="1551.4" y="444.3" width="11.4" height="30.4" fill="#5877ad"/>
<rect x="1562.2" y="444.3" width="11.4" height="30.4" fill="#7b93bd"/>
<rect x="1573.1" y="444.3" width="11.4" height="30.4" fill="#c3cde0"/>
<rect x="1583.9" y="444.3" width="11.4" height="30.4" fill="#90a5c4"/>
<rect x="1594.7" y="444.3" width="11.4" height="30.4" fill="#c3cde0"/>
<rect x="1605.5" y="444.3" width="11.4" height="30.4" fill="#7b93bd"/>
<rect x="1616.3" y="444.3" width="33.1" height="30.4" fill="#90a5c4"/>
<rect x="1648.8" y="444.3" width="11.4" height="30.4" fill="#7b93bd"/>
<rect x="1659.6" y="444.3" width="11.4" height="30.4" fill="#90a5c4"/>
<rect x="1670.4" y="444.3" width="11.4" height="30.4" fill="#7b93bd"/>
<rect x="1681.3" y="444.3" width="11.4" height="30.4" fill="#90a5c4"/>
<rect x="1692.1" y="444.3" width="65.5" height="30.4" fill="#c4292c"/>
<rect x="1757.0" y="444.3" width="22.2" height="30.4" fill="#d4505a"/>
<rect x="1778.7" y="444.3" width="11.4" height="30.4" fill="#e5a6ae"/>
<rect x="1789.5" y="444.3" width="11.4" height="30.4" fill="#dc7f89"/>
<rect x="1800.3" y="444.3" width="11.4" height="30.4" fill="#eecdd2"/>
<rect x="1811.1" y="444.3" width="11.4" height="30.4" fill="#dc7f89"/>
<rect x="1821.9" y="444.3" width="11.4" height="30.4" fill="#e5a6ae"/>
<rect x="1832.8" y="444.3" width="22.2" height="30.4" fill="#dc7f89"/>
<rect x="772.3" y="474.1" width="11.4" height="30.4" fill="#90a5c4"/>
<rect x="783.1" y="474.1" width="11.4" height="30.4" fill="#c3cde0"/>
<rect x="793.9" y="474.1" width="11.4" height="30.4" fill="#7b93bd"/>
<rect x="804.8" y="474.1" width="11.4" height="30.4" fill="#90a5c4"/>
<rect x="815.6" y="474.1" width="11.4" height="30.4" fill="#7b93bd"/>
<rect x="826.4" y="474.1" width="11.4" height="30.4" fill="#c3cde0"/>
<rect x="837.2" y="474.1" width="11.4" height="30.4" fill="#7b93bd"/>
<rect x="848.0" y="474.1" width="11.4" height="30.4" fill="#c3cde0"/>
<rect x="858.9" y="474.1" width="33.1" height="30.4" fill="#7b93bd"/>
<rect x="891.3" y="474.1" width="11.4" height="30.4" fill="#5877ad"/>
<rect x="902.2" y="474.1" width="22.2" height="30.4" fill="#7b93bd"/>
<rect x="923.8" y="474.1" width="11.4" height="30.4" fill="#5877ad"/>
<rect x="934.6" y="474.1" width="11.4" height="30.4" fill="#7b93bd"/>
<rect x="945.4" y="474.1" width="11.4" height="30.4" fill="#5877ad"/>
<rect x="956.3" y="474.1" width="33.1" height="30.4" fill="#c3cde0"/>
<rect x="988.7" y="474.1" width="33.1" height="30.4" fill="#90a5c4"/>
<rect x="1021.2" y="474.1" width="11.4" height="30.4" fill="#c3cde0"/>
<rect x="1032.0" y="474.1" width="22.2" height="30.4" fill="#90a5c4"/>
<rect x="1053.6" y="474.1" width="11.4" height="30.4" fill="#7b93bd"/>
<rect x="1064.5" y="474.1" width="11.4" height="30.4" fill="#33528f"/>
<rect x="1075.3" y="474.1" width="11.4" height="30.4" fill="#5877ad"/>
<rect x="1086.1" y="474.1" width="11.4" height="30.4" fill="#90a5c4"/>
<rect x="1096.9" y="474.1" width="11.4" height="30.4" fill="#7b93bd"/>
<rect x="1107.8" y="474.1" width="33.1" height="30.4" fill="#90a5c4"/>
<rect x="1140.2" y="474.1" width="11.4" height="30.4" fill="#7b93bd"/>
<rect x="1151.0" y="474.1" width="11.4" height="30.4" fill="#c3cde0"/>
<rect x="1161.9" y="474.1" width="43.9" height="30.4" fill="#90a5c4"/>
<rect x="1205.1" y="474.1" width="22.2" height="30.4" fill="#7b93bd"/>
<rect x="1226.8" y="474.1" width="11.4" height="30.4" fill="#c3cde0"/>
<rect x="1237.6" y="474.1" width="11.4" height="30.4" fill="#90a5c4"/>
<rect x="1248.4" y="474.1" width="22.2" height="30.4" fill="#7b93bd"/>
<rect x="1270.1" y="474.1" width="22.2" height="30.4" fill="#90a5c4"/>
<rect x="1291.7" y="474.1" width="22.2" height="30.4" fill="#7b93bd"/>
<rect x="1313.3" y="474.1" width="11.4" height="30.4" fill="#5877ad"/>
<rect x="1324.2" y="474.1" width="22.2" height="30.4" fill="#c3cde0"/>
<rect x="1345.8" y="474.1" width="22.2" height="30.4" fill="#90a5c4"/>
<rect x="1367.5" y="474.1" width="43.9" height="30.4" fill="#c3cde0"/>
<rect x="1410.7" y="474.1" width="33.1" height="30.4" fill="#90a5c4"/>
<rect x="1443.2" y="474.1" width="11.4" height="30.4" fill="#c3cde0"/>
<rect x="1454.0" y="474.1" width="11.4" height="30.4" fill="#90a5c4"/>
<rect x="1464.8" y="474.1" width="11.4" height="30.4" fill="#c3cde0"/>
<rect x="1475.7" y="474.1" width="11.4" height="30.4" fill="#7b93bd"/>
<rect x="1486.5" y="474.1" width="54.7" height="30.4" fill="#90a5c4"/>
<rect x="1540.6" y="474.1" width="11.4" height="30.4" fill="#c3cde0"/>
<rect x="1551.4" y="474.1" width="22.2" height="30.4" fill="#90a5c4"/>
<rect x="1573.1" y="474.1" width="11.4" height="30.4" fill="#7b93bd"/>
<rect x="1583.9" y="474.1" width="11.4" height="30.4" fill="#c3cde0"/>
<rect x="1594.7" y="474.1" width="65.5" height="30.4" fill="#90a5c4"/>
<rect x="1659.6" y="474.1" width="22.2" height="30.4" fill="#7b93bd"/>
<rect x="1681.3" y="474.1" width="11.4" height="30.4" fill="#c3cde0"/>
<rect x="1692.1" y="474.1" width="11.4" height="30.4" fill="#eecdd2"/>
<rect x="1702.9" y="474.1" width="11.4" height="30.4" fill="#e5a6ae"/>
<rect x="1713.7" y="474.1" width="11.4" height="30.4" fill="#c3cde0"/>
<rect x="1724.5" y="474.1" width="11.4" height="30.4" fill="#f3f1f4"/>
<rect x="1735.4" y="474.1" width="22.2" height="30.4" fill="#c3cde0"/>
<rect x="1757.0" y="474.1" width="11.4" height="30.4" fill="#c4292c"/>
<rect x="1767.8" y="474.1" width="11.4" height="30.4" fill="#d4505a"/>
<rect x="1778.7" y="474.1" width="11.4" height="30.4" fill="#e5a6ae"/>
<rect x="1789.5" y="474.1" width="11.4" height="30.4" fill="#eecdd2"/>
<rect x="1800.3" y="474.1" width="11.4" height="30.4" fill="#dc7f89"/>
<rect x="1811.1" y="474.1" width="11.4" height="30.4" fill="#f3f1f4"/>
<rect x="1821.9" y="474.1" width="11.4" height="30.4" fill="#eecdd2"/>
<rect x="1832.8" y="474.1" width="22.2" height="30.4" fill="#f3f1f4"/>
<rect x="772.3" y="504.0" width="11.4" height="30.4" fill="#7b93bd"/>
<rect x="783.1" y="504.0" width="11.4" height="30.4" fill="#5877ad"/>
<rect x="793.9" y="504.0" width="33.1" height="30.4" fill="#7b93bd"/>
<rect x="826.4" y="504.0" width="33.1" height="30.4" fill="#90a5c4"/>
<rect x="858.9" y="504.0" width="11.4" height="30.4" fill="#7b93bd"/>
<rect x="869.7" y="504.0" width="11.4" height="30.4" fill="#5877ad"/>
<rect x="880.5" y="504.0" width="11.4" height="30.4" fill="#c3cde0"/>
<rect x="891.3" y="504.0" width="11.4" height="30.4" fill="#7b93bd"/>
<rect x="902.2" y="504.0" width="11.4" height="30.4" fill="#5877ad"/>
<rect x="913.0" y="504.0" width="11.4" height="30.4" fill="#7b93bd"/>
<rect x="923.8" y="504.0" width="11.4" height="30.4" fill="#5877ad"/>
<rect x="934.6" y="504.0" width="22.2" height="30.4" fill="#90a5c4"/>
<rect x="956.3" y="504.0" width="11.4" height="30.4" fill="#7b93bd"/>
<rect x="967.1" y="504.0" width="11.4" height="30.4" fill="#90a5c4"/>
<rect x="977.9" y="504.0" width="11.4" height="30.4" fill="#5877ad"/>
<rect x="988.7" y="504.0" width="54.7" height="30.4" fill="#7b93bd"/>
<rect x="1042.8" y="504.0" width="11.4" height="30.4" fill="#90a5c4"/>
<rect x="1053.6" y="504.0" width="11.4" height="30.4" fill="#7b93bd"/>
<rect x="1064.5" y="504.0" width="11.4" height="30.4" fill="#90a5c4"/>
<rect x="1075.3" y="504.0" width="33.1" height="30.4" fill="#7b93bd"/>
<rect x="1107.8" y="504.0" width="11.4" height="30.4" fill="#90a5c4"/>
<rect x="1118.6" y="504.0" width="11.4" height="30.4" fill="#7b93bd"/>
<rect x="1129.4" y="504.0" width="11.4" height="30.4" fill="#90a5c4"/>
<rect x="1140.2" y="504.0" width="11.4" height="30.4" fill="#7b93bd"/>
<rect x="1151.0" y="504.0" width="33.1" height="30.4" fill="#5877ad"/>
<rect x="1183.5" y="504.0" width="11.4" height="30.4" fill="#7b93bd"/>
<rect x="1194.3" y="504.0" width="11.4" height="30.4" fill="#90a5c4"/>
<rect x="1205.1" y="504.0" width="11.4" height="30.4" fill="#7b93bd"/>
<rect x="1216.0" y="504.0" width="22.2" height="30.4" fill="#90a5c4"/>
<rect x="1237.6" y="504.0" width="22.2" height="30.4" fill="#7b93bd"/>
<rect x="1259.2" y="504.0" width="33.1" height="30.4" fill="#90a5c4"/>
<rect x="1291.7" y="504.0" width="33.1" height="30.4" fill="#7b93bd"/>
<rect x="1324.2" y="504.0" width="33.1" height="30.4" fill="#90a5c4"/>
<rect x="1356.6" y="504.0" width="76.3" height="30.4" fill="#7b93bd"/>
<rect x="1432.4" y="504.0" width="22.2" height="30.4" fill="#90a5c4"/>
<rect x="1454.0" y="504.0" width="11.4" height="30.4" fill="#5877ad"/>
<rect x="1464.8" y="504.0" width="11.4" height="30.4" fill="#7b93bd"/>
<rect x="1475.7" y="504.0" width="22.2" height="30.4" fill="#5877ad"/>
<rect x="1497.3" y="504.0" width="11.4" height="30.4" fill="#90a5c4"/>
<rect x="1508.1" y="504.0" width="22.2" height="30.4" fill="#5877ad"/>
<rect x="1529.8" y="504.0" width="11.4" height="30.4" fill="#7b93bd"/>
<rect x="1540.6" y="504.0" width="11.4" height="30.4" fill="#90a5c4"/>
<rect x="1551.4" y="504.0" width="11.4" height="30.4" fill="#5877ad"/>
<rect x="1562.2" y="504.0" width="11.4" height="30.4" fill="#7b93bd"/>
<rect x="1573.1" y="504.0" width="11.4" height="30.4" fill="#5877ad"/>
<rect x="1583.9" y="504.0" width="11.4" height="30.4" fill="#7b93bd"/>
<rect x="1594.7" y="504.0" width="11.4" height="30.4" fill="#5877ad"/>
<rect x="1605.5" y="504.0" width="11.4" height="30.4" fill="#7b93bd"/>
<rect x="1616.3" y="504.0" width="11.4" height="30.4" fill="#33528f"/>
<rect x="1627.2" y="504.0" width="11.4" height="30.4" fill="#90a5c4"/>
<rect x="1638.0" y="504.0" width="11.4" height="30.4" fill="#5877ad"/>
<rect x="1648.8" y="504.0" width="11.4" height="30.4" fill="#33528f"/>
<rect x="1659.6" y="504.0" width="22.2" height="30.4" fill="#7b93bd"/>
<rect x="1681.3" y="504.0" width="22.2" height="30.4" fill="#c4292c"/>
<rect x="1702.9" y="504.0" width="11.4" height="30.4" fill="#d4505a"/>
<rect x="1713.7" y="504.0" width="11.4" height="30.4" fill="#dc7f89"/>
<rect x="1724.5" y="504.0" width="11.4" height="30.4" fill="#eecdd2"/>
<rect x="1735.4" y="504.0" width="11.4" height="30.4" fill="#e5a6ae"/>
<rect x="1746.2" y="504.0" width="11.4" height="30.4" fill="#dc7f89"/>
<rect x="1757.0" y="504.0" width="33.1" height="30.4" fill="#e5a6ae"/>
<rect x="1789.5" y="504.0" width="22.2" height="30.4" fill="#eecdd2"/>
<rect x="1811.1" y="504.0" width="11.4" height="30.4" fill="#e5a6ae"/>
<rect x="1821.9" y="504.0" width="22.2" height="30.4" fill="#eecdd2"/>
<rect x="1843.6" y="504.0" width="11.4" height="30.4" fill="#e5a6ae"/>
<rect x="772.3" y="533.8" width="22.2" height="30.4" fill="#7b93bd"/>
<rect x="793.9" y="533.8" width="11.4" height="30.4" fill="#90a5c4"/>
<rect x="804.8" y="533.8" width="11.4" height="30.4" fill="#7b93bd"/>
<rect x="815.6" y="533.8" width="11.4" height="30.4" fill="#90a5c4"/>
<rect x="826.4" y="533.8" width="11.4" height="30.4" fill="#5877ad"/>
<rect x="837.2" y="533.8" width="11.4" height="30.4" fill="#c3cde0"/>
<rect x="848.0" y="533.8" width="11.4" height="30.4" fill="#90a5c4"/>
<rect x="858.9" y="533.8" width="11.4" height="30.4" fill="#5877ad"/>
<rect x="869.7" y="533.8" width="11.4" height="30.4" fill="#7b93bd"/>
<rect x="880.5" y="533.8" width="11.4" height="30.4" fill="#5877ad"/>
<rect x="891.3" y="533.8" width="11.4" height="30.4" fill="#90a5c4"/>
<rect x="902.2" y="533.8" width="11.4" height="30.4" fill="#5877ad"/>
<rect x="913.0" y="533.8" width="22.2" height="30.4" fill="#7b93bd"/>
<rect x="934.6" y="533.8" width="11.4" height="30.4" fill="#5877ad"/>
<rect x="945.4" y="533.8" width="11.4" height="30.4" fill="#7b93bd"/>
<rect x="956.3" y="533.8" width="65.5" height="30.4" fill="#5877ad"/>
<rect x="1021.2" y="533.8" width="11.4" height="30.4" fill="#7b93bd"/>
<rect x="1032.0" y="533.8" width="11.4" height="30.4" fill="#90a5c4"/>
<rect x="1042.8" y="533.8" width="11.4" height="30.4" fill="#33528f"/>
<rect x="1053.6" y="533.8" width="11.4" height="30.4" fill="#7b93bd"/>
<rect x="1064.5" y="533.8" width="11.4" height="30.4" fill="#90a5c4"/>
<rect x="1075.3" y="533.8" width="22.2" height="30.4" fill="#7b93bd"/>
<rect x="1096.9" y="533.8" width="22.2" height="30.4" fill="#90a5c4"/>
<rect x="1118.6" y="533.8" width="11.4" height="30.4" fill="#5877ad"/>
<rect x="1129.4" y="533.8" width="11.4" height="30.4" fill="#7b93bd"/>
<rect x="1140.2" y="533.8" width="43.9" height="30.4" fill="#90a5c4"/>
<rect x="1183.5" y="533.8" width="11.4" height="30.4" fill="#c3cde0"/>
<rect x="1194.3" y="533.8" width="11.4" height="30.4" fill="#7b93bd"/>
<rect x="1205.1" y="533.8" width="11.4" height="30.4" fill="#5877ad"/>
<rect x="1216.0" y="533.8" width="11.4" height="30.4" fill="#7b93bd"/>
<rect x="1226.8" y="533.8" width="11.4" height="30.4" fill="#5877ad"/>
<rect x="1237.6" y="533.8" width="22.2" height="30.4" fill="#7b93bd"/>
<rect x="1259.2" y="533.8" width="11.4" height="30.4" fill="#5877ad"/>
<rect x="1270.1" y="533.8" width="22.2" height="30.4" fill="#90a5c4"/>
<rect x="1291.7" y="533.8" width="11.4" height="30.4" fill="#c3cde0"/>
<rect x="1302.5" y="533.8" width="22.2" height="30.4" fill="#90a5c4"/>
<rect x="1324.2" y="533.8" width="22.2" height="30.4" fill="#7b93bd"/>
<rect x="1345.8" y="533.8" width="22.2" height="30.4" fill="#90a5c4"/>
<rect x="1367.5" y="533.8" width="54.7" height="30.4" fill="#7b93bd"/>
<rect x="1421.6" y="533.8" width="11.4" height="30.4" fill="#5877ad"/>
<rect x="1432.4" y="533.8" width="11.4" height="30.4" fill="#33528f"/>
<rect x="1443.2" y="533.8" width="11.4" height="30.4" fill="#5877ad"/>
<rect x="1454.0" y="533.8" width="22.2" height="30.4" fill="#33528f"/>
<rect x="1475.7" y="533.8" width="22.2" height="30.4" fill="#5877ad"/>
<rect x="1497.3" y="533.8" width="11.4" height="30.4" fill="#90a5c4"/>
<rect x="1508.1" y="533.8" width="22.2" height="30.4" fill="#5877ad"/>
<rect x="1529.8" y="533.8" width="22.2" height="30.4" fill="#90a5c4"/>
<rect x="1551.4" y="533.8" width="43.9" height="30.4" fill="#7b93bd"/>
<rect x="1594.7" y="533.8" width="22.2" height="30.4" fill="#33528f"/>
<rect x="1616.3" y="533.8" width="11.4" height="30.4" fill="#90a5c4"/>
<rect x="1627.2" y="533.8" width="11.4" height="30.4" fill="#5877ad"/>
<rect x="1638.0" y="533.8" width="22.2" height="30.4" fill="#7b93bd"/>
<rect x="1659.6" y="533.8" width="11.4" height="30.4" fill="#5877ad"/>
<rect x="1670.4" y="533.8" width="11.4" height="30.4" fill="#7b93bd"/>
<rect x="1681.3" y="533.8" width="11.4" height="30.4" fill="#c4292c"/>
<rect x="1692.1" y="533.8" width="11.4" height="30.4" fill="#dc7f89"/>
<rect x="1702.9" y="533.8" width="11.4" height="30.4" fill="#e5a6ae"/>
<rect x="1713.7" y="533.8" width="11.4" height="30.4" fill="#dc7f89"/>
<rect x="1724.5" y="533.8" width="11.4" height="30.4" fill="#e5a6ae"/>
<rect x="1735.4" y="533.8" width="11.4" height="30.4" fill="#eecdd2"/>
<rect x="1746.2" y="533.8" width="11.4" height="30.4" fill="#dc7f89"/>
<rect x="1757.0" y="533.8" width="54.7" height="30.4" fill="#c4292c"/>
<rect x="1811.1" y="533.8" width="11.4" height="30.4" fill="#d4505a"/>
<rect x="1821.9" y="533.8" width="22.2" height="30.4" fill="#c4292c"/>
<rect x="1843.6" y="533.8" width="11.4" height="30.4" fill="#d4505a"/>
<rect x="772.3" y="563.6" width="11.4" height="30.4" fill="#5877ad"/>
<rect x="783.1" y="563.6" width="11.4" height="30.4" fill="#90a5c4"/>
<rect x="793.9" y="563.6" width="11.4" height="30.4" fill="#5877ad"/>
<rect x="804.8" y="563.6" width="11.4" height="30.4" fill="#33528f"/>
<rect x="815.6" y="563.6" width="11.4" height="30.4" fill="#7b93bd"/>
<rect x="826.4" y="563.6" width="11.4" height="30.4" fill="#5877ad"/>
<rect x="837.2" y="563.6" width="22.2" height="30.4" fill="#33528f"/>
<rect x="858.9" y="563.6" width="11.4" height="30.4" fill="#7b93bd"/>
<rect x="869.7" y="563.6" width="11.4" height="30.4" fill="#90a5c4"/>
<rect x="880.5" y="563.6" width="33.1" height="30.4" fill="#c3cde0"/>
<rect x="913.0" y="563.6" width="11.4" height="30.4" fill="#90a5c4"/>
<rect x="923.8" y="563.6" width="11.4" height="30.4" fill="#5877ad"/>
<rect x="934.6" y="563.6" width="11.4" height="30.4" fill="#7b93bd"/>
<rect x="945.4" y="563.6" width="11.4" height="30.4" fill="#90a5c4"/>
<rect x="956.3" y="563.6" width="11.4" height="30.4" fill="#5877ad"/>
<rect x="967.1" y="563.6" width="11.4" height="30.4" fill="#7b93bd"/>
<rect x="977.9" y="563.6" width="11.4" height="30.4" fill="#5877ad"/>
<rect x="988.7" y="563.6" width="11.4" height="30.4" fill="#7b93bd"/>
<rect x="999.5" y="563.6" width="22.2" height="30.4" fill="#5877ad"/>
<rect x="1021.2" y="563.6" width="11.4" height="30.4" fill="#90a5c4"/>
<rect x="1032.0" y="563.6" width="11.4" height="30.4" fill="#7b93bd"/>
<rect x="1042.8" y="563.6" width="11.4" height="30.4" fill="#90a5c4"/>
<rect x="1053.6" y="563.6" width="11.4" height="30.4" fill="#c3cde0"/>
<rect x="1064.5" y="563.6" width="22.2" height="30.4" fill="#7b93bd"/>
<rect x="1086.1" y="563.6" width="11.4" height="30.4" fill="#90a5c4"/>
<rect x="1096.9" y="563.6" width="11.4" height="30.4" fill="#7b93bd"/>
<rect x="1107.8" y="563.6" width="11.4" height="30.4" fill="#5877ad"/>
<rect x="1118.6" y="563.6" width="11.4" height="30.4" fill="#90a5c4"/>
<rect x="1129.4" y="563.6" width="22.2" height="30.4" fill="#7b93bd"/>
<rect x="1151.0" y="563.6" width="11.4" height="30.4" fill="#5877ad"/>
<rect x="1161.9" y="563.6" width="11.4" height="30.4" fill="#7b93bd"/>
<rect x="1172.7" y="563.6" width="11.4" height="30.4" fill="#5877ad"/>
<rect x="1183.5" y="563.6" width="54.7" height="30.4" fill="#7b93bd"/>
<rect x="1237.6" y="563.6" width="11.4" height="30.4" fill="#90a5c4"/>
<rect x="1248.4" y="563.6" width="11.4" height="30.4" fill="#c3cde0"/>
<rect x="1259.2" y="563.6" width="22.2" height="30.4" fill="#7b93bd"/>
<rect x="1280.9" y="563.6" width="11.4" height="30.4" fill="#90a5c4"/>
<rect x="1291.7" y="563.6" width="11.4" height="30.4" fill="#7b93bd"/>
<rect x="1302.5" y="563.6" width="11.4" height="30.4" fill="#90a5c4"/>
<rect x="1313.3" y="563.6" width="11.4" height="30.4" fill="#7b93bd"/>
<rect x="1324.2" y="563.6" width="11.4" height="30.4" fill="#5877ad"/>
<rect x="1335.0" y="563.6" width="11.4" height="30.4" fill="#33528f"/>
<rect x="1345.8" y="563.6" width="22.2" height="30.4" fill="#5877ad"/>
<rect x="1367.5" y="563.6" width="22.2" height="30.4" fill="#7b93bd"/>
<rect x="1389.1" y="563.6" width="11.4" height="30.4" fill="#5877ad"/>
<rect x="1399.9" y="563.6" width="11.4" height="30.4" fill="#33528f"/>
<rect x="1410.7" y="563.6" width="11.4" height="30.4" fill="#7b93bd"/>
<rect x="1421.6" y="563.6" width="11.4" height="30.4" fill="#5877ad"/>
<rect x="1432.4" y="563.6" width="11.4" height="30.4" fill="#7b93bd"/>
<rect x="1443.2" y="563.6" width="22.2" height="30.4" fill="#5877ad"/>
<rect x="1464.8" y="563.6" width="11.4" height="30.4" fill="#33528f"/>
<rect x="1475.7" y="563.6" width="11.4" height="30.4" fill="#90a5c4"/>
<rect x="1486.5" y="563.6" width="22.2" height="30.4" fill="#5877ad"/>
<rect x="1508.1" y="563.6" width="22.2" height="30.4" fill="#7b93bd"/>
<rect x="1529.8" y="563.6" width="33.1" height="30.4" fill="#5877ad"/>
<rect x="1562.2" y="563.6" width="11.4" height="30.4" fill="#7b93bd"/>
<rect x="1573.1" y="563.6" width="11.4" height="30.4" fill="#90a5c4"/>
<rect x="1583.9" y="563.6" width="33.1" height="30.4" fill="#7b93bd"/>
<rect x="1616.3" y="563.6" width="22.2" height="30.4" fill="#5877ad"/>
<rect x="1638.0" y="563.6" width="11.4" height="30.4" fill="#33528f"/>
<rect x="1648.8" y="563.6" width="33.1" height="30.4" fill="#7b93bd"/>
<rect x="1681.3" y="563.6" width="11.4" height="30.4" fill="#c4292c"/>
<rect x="1692.1" y="563.6" width="11.4" height="30.4" fill="#e5a6ae"/>
<rect x="1702.9" y="563.6" width="11.4" height="30.4" fill="#dc7f89"/>
<rect x="1713.7" y="563.6" width="11.4" height="30.4" fill="#c4292c"/>
<rect x="1724.5" y="563.6" width="11.4" height="30.4" fill="#d4505a"/>
<rect x="1735.4" y="563.6" width="22.2" height="30.4" fill="#c4292c"/>
<rect x="1757.0" y="563.6" width="11.4" height="30.4" fill="#eecdd2"/>
<rect x="1767.8" y="563.6" width="11.4" height="30.4" fill="#e5a6ae"/>
<rect x="1778.7" y="563.6" width="76.3" height="30.4" fill="#c4292c"/>
<rect x="772.3" y="593.5" width="11.4" height="30.4" fill="#c3cde0"/>
<rect x="783.1" y="593.5" width="11.4" height="30.4" fill="#dc7f89"/>
<rect x="793.9" y="593.5" width="11.4" height="30.4" fill="#eecdd2"/>
<rect x="804.8" y="593.5" width="11.4" height="30.4" fill="#e5a6ae"/>
<rect x="815.6" y="593.5" width="33.1" height="30.4" fill="#f3f1f4"/>
<rect x="848.0" y="593.5" width="11.4" height="30.4" fill="#e5a6ae"/>
<rect x="858.9" y="593.5" width="33.1" height="30.4" fill="#eecdd2"/>
<rect x="891.3" y="593.5" width="11.4" height="30.4" fill="#e5a6ae"/>
<rect x="902.2" y="593.5" width="11.4" height="30.4" fill="#dc7f89"/>
<rect x="913.0" y="593.5" width="11.4" height="30.4" fill="#f3f1f4"/>
<rect x="923.8" y="593.5" width="22.2" height="30.4" fill="#e5a6ae"/>
<rect x="945.4" y="593.5" width="11.4" height="30.4" fill="#dc7f89"/>
<rect x="956.3" y="593.5" width="11.4" height="30.4" fill="#e5a6ae"/>
<rect x="967.1" y="593.5" width="22.2" height="30.4" fill="#f3f1f4"/>
<rect x="988.7" y="593.5" width="11.4" height="30.4" fill="#c3cde0"/>
<rect x="999.5" y="593.5" width="22.2" height="30.4" fill="#f3f1f4"/>
<rect x="1021.2" y="593.5" width="11.4" height="30.4" fill="#c3cde0"/>
<rect x="1032.0" y="593.5" width="11.4" height="30.4" fill="#f3f1f4"/>
<rect x="1042.8" y="593.5" width="11.4" height="30.4" fill="#eecdd2"/>
<rect x="1053.6" y="593.5" width="11.4" height="30.4" fill="#f3f1f4"/>
<rect x="1064.5" y="593.5" width="11.4" height="30.4" fill="#c3cde0"/>
<rect x="1075.3" y="593.5" width="11.4" height="30.4" fill="#f3f1f4"/>
<rect x="1086.1" y="593.5" width="22.2" height="30.4" fill="#90a5c4"/>
<rect x="1107.8" y="593.5" width="22.2" height="30.4" fill="#c3cde0"/>
<rect x="1129.4" y="593.5" width="11.4" height="30.4" fill="#f3f1f4"/>
<rect x="1140.2" y="593.5" width="11.4" height="30.4" fill="#c3cde0"/>
<rect x="1151.0" y="593.5" width="22.2" height="30.4" fill="#f3f1f4"/>
<rect x="1172.7" y="593.5" width="11.4" height="30.4" fill="#c3cde0"/>
<rect x="1183.5" y="593.5" width="11.4" height="30.4" fill="#f3f1f4"/>
<rect x="1194.3" y="593.5" width="22.2" height="30.4" fill="#90a5c4"/>
<rect x="1216.0" y="593.5" width="22.2" height="30.4" fill="#c3cde0"/>
<rect x="1237.6" y="593.5" width="22.2" height="30.4" fill="#90a5c4"/>
<rect x="1259.2" y="593.5" width="22.2" height="30.4" fill="#7b93bd"/>
<rect x="1280.9" y="593.5" width="22.2" height="30.4" fill="#90a5c4"/>
<rect x="1302.5" y="593.5" width="11.4" height="30.4" fill="#c3cde0"/>
<rect x="1313.3" y="593.5" width="11.4" height="30.4" fill="#7b93bd"/>
<rect x="1324.2" y="593.5" width="22.2" height="30.4" fill="#90a5c4"/>
<rect x="1345.8" y="593.5" width="11.4" height="30.4" fill="#c3cde0"/>
<rect x="1356.6" y="593.5" width="22.2" height="30.4" fill="#90a5c4"/>
<rect x="1378.3" y="593.5" width="11.4" height="30.4" fill="#c3cde0"/>
<rect x="1389.1" y="593.5" width="11.4" height="30.4" fill="#7b93bd"/>
<rect x="1399.9" y="593.5" width="22.2" height="30.4" fill="#90a5c4"/>
<rect x="1421.6" y="593.5" width="22.2" height="30.4" fill="#7b93bd"/>
<rect x="1443.2" y="593.5" width="11.4" height="30.4" fill="#90a5c4"/>
<rect x="1454.0" y="593.5" width="65.5" height="30.4" fill="#c3cde0"/>
<rect x="1518.9" y="593.5" width="11.4" height="30.4" fill="#90a5c4"/>
<rect x="1529.8" y="593.5" width="33.1" height="30.4" fill="#c3cde0"/>
<rect x="1562.2" y="593.5" width="33.1" height="30.4" fill="#90a5c4"/>
<rect x="1594.7" y="593.5" width="11.4" height="30.4" fill="#c3cde0"/>
<rect x="1605.5" y="593.5" width="22.2" height="30.4" fill="#90a5c4"/>
<rect x="1627.2" y="593.5" width="11.4" height="30.4" fill="#c3cde0"/>
<rect x="1638.0" y="593.5" width="11.4" height="30.4" fill="#90a5c4"/>
<rect x="1648.8" y="593.5" width="11.4" height="30.4" fill="#c3cde0"/>
<rect x="1659.6" y="593.5" width="33.1" height="30.4" fill="#90a5c4"/>
<rect x="1692.1" y="593.5" width="33.1" height="30.4" fill="#5877ad"/>
<rect x="1724.5" y="593.5" width="11.4" height="30.4" fill="#7b93bd"/>
<rect x="1735.4" y="593.5" width="22.2" height="30.4" fill="#5877ad"/>
<rect x="1757.0" y="593.5" width="22.2" height="30.4" fill="#33528f"/>
<rect x="1778.7" y="593.5" width="11.4" height="30.4" fill="#5877ad"/>
<rect x="1789.5" y="593.5" width="11.4" height="30.4" fill="#90a5c4"/>
<rect x="1800.3" y="593.5" width="11.4" height="30.4" fill="#5877ad"/>
<rect x="1811.1" y="593.5" width="11.4" height="30.4" fill="#90a5c4"/>
<rect x="1821.9" y="593.5" width="22.2" height="30.4" fill="#7b93bd"/>
<rect x="1843.6" y="593.5" width="11.4" height="30.4" fill="#90a5c4"/>
</g>
<path d="M783.1 86.3V623.3 M793.9 86.3V623.3 M804.8 86.3V623.3 M815.6 86.3V623.3 M826.4 86.3V623.3 M837.2 86.3V623.3 M848.0 86.3V623.3 M858.9 86.3V623.3 M869.7 86.3V623.3 M880.5 86.3V623.3 M891.3 86.3V623.3 M902.2 86.3V623.3 M913.0 86.3V623.3 M923.8 86.3V623.3 M934.6 86.3V623.3 M945.4 86.3V623.3 M956.3 86.3V623.3 M967.1 86.3V623.3 M977.9 86.3V623.3 M988.7 86.3V623.3 M999.5 86.3V623.3 M1010.4 86.3V623.3 M1021.2 86.3V623.3 M1032.0 86.3V623.3 M1042.8 86.3V623.3 M1053.6 86.3V623.3 M1064.5 86.3V623.3 M1075.3 86.3V623.3 M1086.1 86.3V623.3 M1096.9 86.3V623.3 M1107.8 86.3V623.3 M1118.6 86.3V623.3 M1129.4 86.3V623.3 M1140.2 86.3V623.3 M1151.0 86.3V623.3 M1161.9 86.3V623.3 M1172.7 86.3V623.3 M1183.5 86.3V623.3 M1194.3 86.3V623.3 M1205.1 86.3V623.3 M1216.0 86.3V623.3 M1226.8 86.3V623.3 M1237.6 86.3V623.3 M1248.4 86.3V623.3 M1259.2 86.3V623.3 M1270.1 86.3V623.3 M1280.9 86.3V623.3 M1291.7 86.3V623.3 M1302.5 86.3V623.3 M1313.3 86.3V623.3 M1324.2 86.3V623.3 M1335.0 86.3V623.3 M1345.8 86.3V623.3 M1356.6 86.3V623.3 M1367.5 86.3V623.3 M1378.3 86.3V623.3 M1389.1 86.3V623.3 M1399.9 86.3V623.3 M1410.7 86.3V623.3 M1421.6 86.3V623.3 M1432.4 86.3V623.3 M1443.2 86.3V623.3 M1454.0 86.3V623.3 M1464.8 86.3V623.3 M1475.7 86.3V623.3 M1486.5 86.3V623.3 M1497.3 86.3V623.3 M1508.1 86.3V623.3 M1518.9 86.3V623.3 M1529.8 86.3V623.3 M1540.6 86.3V623.3 M1551.4 86.3V623.3 M1562.2 86.3V623.3 M1573.1 86.3V623.3 M1583.9 86.3V623.3 M1594.7 86.3V623.3 M1605.5 86.3V623.3 M1616.3 86.3V623.3 M1627.2 86.3V623.3 M1638.0 86.3V623.3 M1648.8 86.3V623.3 M1659.6 86.3V623.3 M1670.4 86.3V623.3 M1681.3 86.3V623.3 M1692.1 86.3V623.3 M1702.9 86.3V623.3 M1713.7 86.3V623.3 M1724.5 86.3V623.3 M1735.4 86.3V623.3 M1746.2 86.3V623.3 M1757.0 86.3V623.3 M1767.8 86.3V623.3 M1778.7 86.3V623.3 M1789.5 86.3V623.3 M1800.3 86.3V623.3 M1811.1 86.3V623.3 M1821.9 86.3V623.3 M1832.8 86.3V623.3 M1843.6 86.3V623.3" stroke="#fff" stroke-opacity="0.28" stroke-width="0.8" fill="none"/>
<rect x="772.30" y="86.30" width="1082.10" height="537.00" fill="none" stroke="#000" stroke-width="2"/>
<text transform="translate(781.6,81.6) rotate(-90)" font-size="11.1" font-style="italic">Kcnq</text>
<text transform="translate(792.4,81.6) rotate(-90)" font-size="11.1" font-style="italic">Kcnt1</text>
<text transform="translate(803.3,81.6) rotate(-90)" font-size="11.1" font-style="italic">Slc6a17</text>
<text transform="translate(814.1,81.6) rotate(-90)" font-size="11.1" font-style="italic">Kbtbd11</text>
<text transform="translate(824.9,81.6) rotate(-90)" font-size="11.1" font-style="italic">Kif1a</text>
<text transform="translate(835.7,81.6) rotate(-90)" font-size="11.1" font-style="italic">Disp2</text>
<text transform="translate(846.5,81.6) rotate(-90)" font-size="11.1" font-style="italic">Grik5</text>
<text transform="translate(857.4,81.6) rotate(-90)" font-size="11.1" font-style="italic">Coro2b</text>
<text transform="translate(868.2,81.6) rotate(-90)" font-size="11.1" font-style="italic">Syt4</text>
<text transform="translate(879.0,81.6) rotate(-90)" font-size="11.1" font-style="italic">Rab3c</text>
<text transform="translate(889.8,81.6) rotate(-90)" font-size="11.1" font-style="italic">Rragb</text>
<text transform="translate(900.6,81.6) rotate(-90)" font-size="11.1" font-style="italic">Slc6a15</text>
<text transform="translate(911.5,81.6) rotate(-90)" font-size="11.1" font-style="italic">Bex1</text>
<text transform="translate(922.3,81.6) rotate(-90)" font-size="11.1" font-style="italic">Bex4</text>
<text transform="translate(933.1,81.6) rotate(-90)" font-size="11.1" font-style="italic">Upb1</text>
<text transform="translate(943.9,81.6) rotate(-90)" font-size="11.1" font-style="italic">Map9</text>
<text transform="translate(954.7,81.6) rotate(-90)" font-size="11.1" font-style="italic">Akt3</text>
<text transform="translate(965.6,81.6) rotate(-90)" font-size="11.1" font-style="italic">Thsd4</text>
<text transform="translate(976.4,81.6) rotate(-90)" font-size="11.1" font-style="italic">Rtn4rl1</text>
<text transform="translate(987.2,81.6) rotate(-90)" font-size="11.1" font-style="italic">Rimbp2</text>
<text transform="translate(998.0,81.6) rotate(-90)" font-size="11.1" font-style="italic">Pclo</text>
<text transform="translate(1008.9,81.6) rotate(-90)" font-size="11.1" font-style="italic">Ksr2</text>
<text transform="translate(1019.7,81.6) rotate(-90)" font-size="11.1" font-style="italic">Cacna1b</text>
<text transform="translate(1030.5,81.6) rotate(-90)" font-size="11.1" font-style="italic">Syt17</text>
<text transform="translate(1041.3,81.6) rotate(-90)" font-size="11.1" font-style="italic">Ica1l</text>
<text transform="translate(1052.1,81.6) rotate(-90)" font-size="11.1" font-style="italic">Wasf3</text>
<text transform="translate(1063.0,81.6) rotate(-90)" font-size="11.1" font-style="italic">Stmn3</text>
<text transform="translate(1073.8,81.6) rotate(-90)" font-size="11.1" font-style="italic">Apba2</text>
<text transform="translate(1084.6,81.6) rotate(-90)" font-size="11.1" font-style="italic">Rtn1</text>
<text transform="translate(1095.4,81.6) rotate(-90)" font-size="11.1" font-style="italic">Syt9</text>
<text transform="translate(1106.2,81.6) rotate(-90)" font-size="11.1" font-style="italic">Sfrp5</text>
<text transform="translate(1117.1,81.6) rotate(-90)" font-size="11.1" font-style="italic">Gnao1</text>
<text transform="translate(1127.9,81.6) rotate(-90)" font-size="11.1" font-style="italic">Ap3b2</text>
<text transform="translate(1138.7,81.6) rotate(-90)" font-size="11.1" font-style="italic">Syn2</text>
<text transform="translate(1149.5,81.6) rotate(-90)" font-size="11.1" font-style="italic">Necab1</text>
<text transform="translate(1160.3,81.6) rotate(-90)" font-size="11.1" font-style="italic">Myh7b</text>
<text transform="translate(1171.2,81.6) rotate(-90)" font-size="11.1" font-style="italic">Cplx1</text>
<text transform="translate(1182.0,81.6) rotate(-90)" font-size="11.1" font-style="italic">Lmtk3</text>
<text transform="translate(1192.8,81.6) rotate(-90)" font-size="11.1" font-style="italic">Gpr27</text>
<text transform="translate(1203.6,81.6) rotate(-90)" font-size="11.1" font-style="italic">Carmil2</text>
<text transform="translate(1214.5,81.6) rotate(-90)" font-size="11.1" font-style="italic">Rgs17</text>
<text transform="translate(1225.3,81.6) rotate(-90)" font-size="11.1" font-style="italic">Cyfip2</text>
<text transform="translate(1236.1,81.6) rotate(-90)" font-size="11.1" font-style="italic">Ret</text>
<text transform="translate(1246.9,81.6) rotate(-90)" font-size="11.1" font-style="italic">Elavl4</text>
<text transform="translate(1257.7,81.6) rotate(-90)" font-size="11.1" font-style="italic">Snca</text>
<text transform="translate(1268.6,81.6) rotate(-90)" font-size="11.1" font-style="italic">Tenm2</text>
<text transform="translate(1279.4,81.6) rotate(-90)" font-size="11.1" font-style="italic">Hcn1</text>
<text transform="translate(1290.2,81.6) rotate(-90)" font-size="11.1" font-style="italic">Atp6v0e2</text>
<text transform="translate(1301.0,81.6) rotate(-90)" font-size="11.1" font-style="italic">Pde8b</text>
<text transform="translate(1311.8,81.6) rotate(-90)" font-size="11.1" font-style="italic">Bhlhb9</text>
<text transform="translate(1322.7,81.6) rotate(-90)" font-size="11.1" font-style="italic">Phyhipl</text>
<text transform="translate(1333.5,81.6) rotate(-90)" font-size="11.1" font-style="italic">Prox1</text>
<text transform="translate(1344.3,81.6) rotate(-90)" font-size="11.1" font-style="italic">Cplx2</text>
<text transform="translate(1355.1,81.6) rotate(-90)" font-size="11.1" font-style="italic">Adcy1</text>
<text transform="translate(1365.9,81.6) rotate(-90)" font-size="11.1" font-style="italic">Runx1t1</text>
<text transform="translate(1376.8,81.6) rotate(-90)" font-size="11.1" font-style="italic">Maneal</text>
<text transform="translate(1387.6,81.6) rotate(-90)" font-size="11.1" font-style="italic">Lrp11</text>
<text transform="translate(1398.4,81.6) rotate(-90)" font-size="11.1" font-style="italic">Insm1</text>
<text transform="translate(1409.2,81.6) rotate(-90)" font-size="11.1" font-style="italic">Brsk2</text>
<text transform="translate(1420.0,81.6) rotate(-90)" font-size="11.1" font-style="italic">St18</text>
<text transform="translate(1430.9,81.6) rotate(-90)" font-size="11.1" font-style="italic">Elavl3</text>
<text transform="translate(1441.7,81.6) rotate(-90)" font-size="11.1" font-style="italic">Tox</text>
<text transform="translate(1452.5,81.6) rotate(-90)" font-size="11.1" font-style="italic">Crmp1</text>
<text transform="translate(1463.3,81.6) rotate(-90)" font-size="11.1" font-style="italic">Syp</text>
<text transform="translate(1474.2,81.6) rotate(-90)" font-size="11.1" font-style="italic">Mapk8ip2</text>
<text transform="translate(1485.0,81.6) rotate(-90)" font-size="11.1" font-style="italic">Macroh2a</text>
<text transform="translate(1495.8,81.6) rotate(-90)" font-size="11.1" font-style="italic">Tmem178b</text>
<text transform="translate(1506.6,81.6) rotate(-90)" font-size="11.1" font-style="italic">Sema5b</text>
<text transform="translate(1517.4,81.6) rotate(-90)" font-size="11.1" font-style="italic">Prr36</text>
<text transform="translate(1528.3,81.6) rotate(-90)" font-size="11.1" font-style="italic">Lhfpl4</text>
<text transform="translate(1539.1,81.6) rotate(-90)" font-size="11.1" font-style="italic">Fbxl16</text>
<text transform="translate(1549.9,81.6) rotate(-90)" font-size="11.1" font-style="italic">Mtcl1</text>
<text transform="translate(1560.7,81.6) rotate(-90)" font-size="11.1" font-style="italic">Spock2</text>
<text transform="translate(1571.5,81.6) rotate(-90)" font-size="11.1" font-style="italic">B3gat1</text>
<text transform="translate(1582.4,81.6) rotate(-90)" font-size="11.1" font-style="italic">Pkib</text>
<text transform="translate(1593.2,81.6) rotate(-90)" font-size="11.1" font-style="italic">Bex2</text>
<text transform="translate(1604.0,81.6) rotate(-90)" font-size="11.1" font-style="italic">Uchl1</text>
<text transform="translate(1614.8,81.6) rotate(-90)" font-size="11.1" font-style="italic">Dlgap3</text>
<text transform="translate(1625.6,81.6) rotate(-90)" font-size="11.1" font-style="italic">Rims3</text>
<text transform="translate(1636.5,81.6) rotate(-90)" font-size="11.1" font-style="italic">Carmil3</text>
<text transform="translate(1647.3,81.6) rotate(-90)" font-size="11.1" font-style="italic">Syt1</text>
<text transform="translate(1658.1,81.6) rotate(-90)" font-size="11.1" font-style="italic">Slc7a14</text>
<text transform="translate(1668.9,81.6) rotate(-90)" font-size="11.1" font-style="italic">Ddc</text>
<text transform="translate(1679.8,81.6) rotate(-90)" font-size="11.1" font-style="italic">Sox1</text>
<text transform="translate(1690.6,81.6) rotate(-90)" font-size="11.1" font-style="italic">Myh8</text>
<text transform="translate(1701.4,81.6) rotate(-90)" font-size="11.1" font-style="italic">Hsd11b2</text>
<text transform="translate(1712.2,81.6) rotate(-90)" font-size="11.1" font-style="italic">H60c</text>
<text transform="translate(1723.0,81.6) rotate(-90)" font-size="11.1" font-style="italic">Akr1c18</text>
<text transform="translate(1733.9,81.6) rotate(-90)" font-size="11.1" font-style="italic">Tmprss11</text>
<text transform="translate(1744.7,81.6) rotate(-90)" font-size="11.1" font-style="italic">Cstdc5</text>
<text transform="translate(1755.5,81.6) rotate(-90)" font-size="11.1" font-style="italic">Teddm3</text>
<text transform="translate(1766.3,81.6) rotate(-90)" font-size="11.1" font-style="italic">Egln3</text>
<text transform="translate(1777.1,81.6) rotate(-90)" font-size="11.1" font-style="italic">Ddit4</text>
<text transform="translate(1788.0,81.6) rotate(-90)" font-size="11.1" font-style="italic">2610528A11RIK</text>
<text transform="translate(1798.8,81.6) rotate(-90)" font-size="11.1" font-style="italic">Cst6</text>
<text transform="translate(1809.6,81.6) rotate(-90)" font-size="11.1" font-style="italic">Sprr1a</text>
<text transform="translate(1820.4,81.6) rotate(-90)" font-size="11.1" font-style="italic">Krt6b</text>
<text transform="translate(1831.2,81.6) rotate(-90)" font-size="11.1" font-style="italic">Sprr1b</text>
<text transform="translate(1842.1,81.6) rotate(-90)" font-size="11.1" font-style="italic">Gpr87</text>
<text transform="translate(1852.9,81.6) rotate(-90)" font-size="11.1" font-style="italic">Trp63</text>
<text x="1855.7" y="113.2" font-size="36.5">RPM.6</text>
<text x="1855.7" y="143.2" font-size="36.5">RPM.5</text>
<text x="1855.7" y="173.1" font-size="36.5">RPM.9</text>
<text x="1855.7" y="203.1" font-size="36.5">RPM.4</text>
<text x="1855.7" y="233.1" font-size="36.5">RPM.8</text>
<text x="1855.7" y="263.1" font-size="36.5">RPM.7</text>
<text x="1855.7" y="293.0" font-size="36.5">RPM.2</text>
<text x="1855.7" y="323.0" font-size="36.5">PtPM.9</text>
<text x="1855.7" y="353.0" font-size="36.5">PtPM.11</text>
<text x="1855.7" y="382.9" font-size="36.5">PtPM.2</text>
<text x="1855.7" y="412.9" font-size="36.5">PtPM.4</text>
<text x="1855.7" y="442.9" font-size="36.5">PtPM.3</text>
<text x="1855.7" y="472.8" font-size="36.5">PtPM.7</text>
<text x="1855.7" y="502.8" font-size="36.5">PtPM.5</text>
<text x="1855.7" y="532.8" font-size="36.5">PtPM.8</text>
<text x="1855.7" y="562.8" font-size="36.5">PtPM.1</text>
<text x="1855.7" y="592.7" font-size="36.5">PtPM.6</text>
<text x="1855.7" y="622.7" font-size="36.5">RPM.1</text>
<path d="M772.3 101.2H766.4V131.1H772.3 M766.4 116.1H763.6V160.9H772.3 M763.6 138.5H756.8V190.7H772.3 M772.3 220.6H766.8V250.4H772.3 M766.8 235.5H758.4V280.2H772.3 M756.8 164.6H744.2V257.8H758.4 M772.3 310.1H768.0V339.9H772.3 M772.3 369.7H767.0V399.6H772.3 M772.3 429.4H768.5V459.2H772.3 M767.0 384.6H764.0V444.3H768.5 M768.0 325.0H762.0V414.5H764.0 M762.0 369.7H760.0V489.1H772.3 M772.3 518.9H768.0V548.7H772.3 M768.0 533.8H762.6V578.5H772.3 M760.0 429.4H758.0V556.2H762.6 M758.0 492.8H748.0V608.4H772.3 M744.2 211.2H713.1V550.6H748.0" fill="none" stroke="#000" stroke-width="1.5"/>
<path d="M788.5 623.3V625.8H799.4V623.3 M810.2 623.3V625.8H821.0V623.3 M793.9 625.8V626.9H815.6V625.8 M831.8 623.3V625.3H842.6V623.3 M853.5 623.3V624.5H864.3V623.3 M837.2 625.3V627.1H858.9V624.5 M804.8 626.9V628.5H848.0V627.1 M875.1 623.3V625.7H885.9V623.3 M896.7 623.3V624.7H907.6V623.3 M880.5 625.7V628.0H902.2V624.7 M918.4 623.3V625.8H929.2V623.3 M940.0 623.3V624.3H950.8V623.3 M945.4 624.3V625.5H961.7V623.3 M923.8 625.8V628.3H953.6V625.5 M972.5 623.3V624.4H983.3V623.3 M977.9 624.4V625.5H994.1V623.3 M938.7 628.3V630.2H986.0V625.5 M891.3 628.0V631.6H962.3V630.2 M1026.6 623.3V624.7H1037.4V623.3 M1015.8 623.3V626.7H1032.0V624.7 M1005.0 623.3V629.3H1023.9V626.7 M1048.2 623.3V625.3H1059.1V623.3 M1014.4 629.3V630.6H1053.6V625.3 M1069.9 623.3V625.0H1080.7V623.3 M1102.3 623.3V625.2H1113.2V623.3 M1091.5 623.3V626.3H1107.8V625.2 M1075.3 625.0V628.8H1099.6V626.3 M1034.0 630.6V632.7H1087.5V628.8 M1134.8 623.3V624.6H1145.6V623.3 M1124.0 623.3V626.4H1140.2V624.6 M1167.3 623.3V625.1H1178.1V623.3 M1156.4 623.3V627.5H1172.7V625.1 M1132.1 626.4V629.9H1164.6V627.5 M1188.9 623.3V624.7H1199.7V623.3 M1194.3 624.7V626.5H1210.6V623.3 M1148.3 629.9V632.4H1202.4V626.5 M1232.2 623.3V625.1H1243.0V623.3 M1221.4 623.3V627.4H1237.6V625.1 M1253.8 623.3V625.2H1264.7V623.3 M1229.5 627.4V628.8H1259.2V625.2 M1275.5 623.3V624.6H1286.3V623.3 M1297.1 623.3V625.1H1307.9V623.3 M1302.5 625.1V627.6H1318.8V623.3 M1280.9 624.6V629.5H1310.6V627.6 M1244.4 628.8V630.8H1295.8V629.5 M1329.6 623.3V625.3H1340.4V623.3 M1362.0 623.3V625.9H1372.9V623.3 M1367.5 625.9V628.4H1383.7V623.3 M1351.2 623.3V629.6H1375.6V628.4 M1335.0 625.3V630.7H1363.4V629.6 M1394.5 623.3V625.1H1405.3V623.3 M1427.0 623.3V625.2H1437.8V623.3 M1416.1 623.3V626.5H1432.4V625.2 M1399.9 625.1V629.0H1424.3V626.5 M1459.4 623.3V624.9H1470.3V623.3 M1448.6 623.3V627.4H1464.8V624.9 M1412.1 629.0V631.0H1456.7V627.4 M1481.1 623.3V624.9H1491.9V623.3 M1502.7 623.3V624.5H1513.5V623.3 M1486.5 624.9V626.6H1508.1V624.5 M1524.4 623.3V625.5H1535.2V623.3 M1529.8 625.5V626.6H1546.0V623.3 M1497.3 626.6V628.4H1537.9V626.6 M1556.8 623.3V625.0H1567.6V623.3 M1578.5 623.3V624.9H1589.3V623.3 M1562.2 625.0V626.9H1583.9V624.9 M1600.1 623.3V624.6H1610.9V623.3 M1573.1 626.9V628.3H1605.5V624.6 M1632.6 623.3V625.0H1643.4V623.3 M1621.7 623.3V627.0H1638.0V625.0 M1654.2 623.3V625.2H1665.0V623.3 M1659.6 625.2V627.0H1675.9V623.3 M1629.9 627.0V629.2H1667.7V627.0 M1589.3 628.3V630.0H1648.8V629.2 M1517.6 628.4V630.8H1619.0V630.0 M1434.4 631.0V631.8H1568.3V630.8 M1349.2 630.7V632.6H1501.4V631.8 M1270.1 630.8V633.4H1425.3V632.6 M1175.4 632.4V634.2H1347.7V633.4 M1060.7 632.7V635.0H1261.5V634.2 M926.8 631.6V635.8H1161.1V635.0 M826.4 628.5V639.3H1044.0V635.8 M777.7 623.3V646.5H935.2V639.3 M1697.5 623.3V624.5H1708.3V623.3 M1719.1 623.3V624.7H1730.0V623.3 M1724.5 624.7V627.3H1740.8V623.3 M1702.9 624.5V628.6H1732.7V627.3 M1762.4 623.3V624.6H1773.2V623.3 M1751.6 623.3V626.9H1767.8V624.6 M1794.9 623.3V624.3H1805.7V623.3 M1784.1 623.3V625.8H1800.3V624.3 M1759.7 626.9V628.6H1792.2V625.8 M1827.3 623.3V624.7H1838.2V623.3 M1816.5 623.3V627.3H1832.8V624.7 M1824.6 627.3V628.4H1849.0V623.3 M1775.9 628.6V630.6H1836.8V628.4 M1717.8 628.6V644.6H1806.4V630.6 M1686.7 623.3V661.6H1762.1V644.6 M856.5 646.5V685.4H1724.4V661.6" fill="none" stroke="#000" stroke-width="1.2"/>
<defs><linearGradient id="cb" x1="0" y1="0" x2="0" y2="1"><stop offset="0" stop-color="#c9262c"/><stop offset="0.24" stop-color="#cc3036"/><stop offset="0.35" stop-color="#d9727c"/><stop offset="0.44" stop-color="#eab9c0"/><stop offset="0.5" stop-color="#f5f3f5"/><stop offset="0.56" stop-color="#cdd6e6"/><stop offset="0.66" stop-color="#8aa0c8"/><stop offset="0.76" stop-color="#3f5f9e"/><stop offset="1" stop-color="#2d4a8c"/></linearGradient></defs>
<rect x="2062.90" y="170.60" width="17.10" height="396.10" fill="url(#cb)" stroke="#111" stroke-width="1.6"/>
<text x="2023.7" y="187.9" font-size="37">-2</text>
<text x="2023.6" y="278.7" font-size="37">-1</text>
<text x="2030.6" y="377.8" font-size="37">0</text>
<text x="2029.8" y="478.1" font-size="37">1</text>
<text x="2030.6" y="569.9" font-size="37">2</text>
<text transform="translate(2093.5,153.9) rotate(90)" font-size="36.6">VST Normalized Expression</text>
<text x="629.9" y="742.0" font-size="58">c.</text>
<rect x="648.30" y="757.90" width="1018.20" height="478.10" fill="#f5f7f6" stroke="#000" stroke-width="1.7"/>
<line x1="1157.4" y1="757.9" x2="1157.4" y2="1236.0" stroke="#000" stroke-width="1.6"/>
<rect x="739.90" y="787.60" width="410.70" height="383.90" fill="#fff" stroke="#b4b4b4" stroke-width="1.2"/>
<line x1="739.9" y1="797.9" x2="1150.6" y2="797.9" stroke="#d8d8d8" stroke-width="0.9" stroke-dasharray="2,2"/>
<line x1="739.9" y1="823.5" x2="1150.6" y2="823.5" stroke="#d8d8d8" stroke-width="0.9" stroke-dasharray="2,2"/>
<line x1="739.9" y1="849.2" x2="1150.6" y2="849.2" stroke="#d8d8d8" stroke-width="0.9" stroke-dasharray="2,2"/>
<line x1="739.9" y1="874.9" x2="1150.6" y2="874.9" stroke="#d8d8d8" stroke-width="0.9" stroke-dasharray="2,2"/>
<line x1="739.9" y1="900.6" x2="1150.6" y2="900.6" stroke="#d8d8d8" stroke-width="0.9" stroke-dasharray="2,2"/>
<line x1="739.9" y1="926.2" x2="1150.6" y2="926.2" stroke="#d8d8d8" stroke-width="0.9" stroke-dasharray="2,2"/>
<line x1="788.0" y1="787.6" x2="788.0" y2="971.4" stroke="#d8d8d8" stroke-width="0.9" stroke-dasharray="2,2"/>
<line x1="788.0" y1="1048.8" x2="788.0" y2="1171.5" stroke="#d8d8d8" stroke-width="0.9" stroke-dasharray="2,2"/>
<line x1="836.1" y1="787.6" x2="836.1" y2="971.4" stroke="#d8d8d8" stroke-width="0.9" stroke-dasharray="2,2"/>
<line x1="836.1" y1="1048.8" x2="836.1" y2="1171.5" stroke="#d8d8d8" stroke-width="0.9" stroke-dasharray="2,2"/>
<line x1="884.2" y1="787.6" x2="884.2" y2="971.4" stroke="#d8d8d8" stroke-width="0.9" stroke-dasharray="2,2"/>
<line x1="884.2" y1="1048.8" x2="884.2" y2="1171.5" stroke="#d8d8d8" stroke-width="0.9" stroke-dasharray="2,2"/>
<line x1="932.3" y1="787.6" x2="932.3" y2="971.4" stroke="#d8d8d8" stroke-width="0.9" stroke-dasharray="2,2"/>
<line x1="932.3" y1="1048.8" x2="932.3" y2="1171.5" stroke="#d8d8d8" stroke-width="0.9" stroke-dasharray="2,2"/>
<line x1="980.4" y1="787.6" x2="980.4" y2="971.4" stroke="#d8d8d8" stroke-width="0.9" stroke-dasharray="2,2"/>
<line x1="980.4" y1="1048.8" x2="980.4" y2="1171.5" stroke="#d8d8d8" stroke-width="0.9" stroke-dasharray="2,2"/>
<line x1="1028.5" y1="787.6" x2="1028.5" y2="971.4" stroke="#d8d8d8" stroke-width="0.9" stroke-dasharray="2,2"/>
<line x1="1028.5" y1="1048.8" x2="1028.5" y2="1171.5" stroke="#d8d8d8" stroke-width="0.9" stroke-dasharray="2,2"/>
<line x1="1076.6" y1="787.6" x2="1076.6" y2="971.4" stroke="#d8d8d8" stroke-width="0.9" stroke-dasharray="2,2"/>
<line x1="1076.6" y1="1048.8" x2="1076.6" y2="1171.5" stroke="#d8d8d8" stroke-width="0.9" stroke-dasharray="2,2"/>
<line x1="1124.7" y1="787.6" x2="1124.7" y2="971.4" stroke="#d8d8d8" stroke-width="0.9" stroke-dasharray="2,2"/>
<line x1="1124.7" y1="1048.8" x2="1124.7" y2="1171.5" stroke="#d8d8d8" stroke-width="0.9" stroke-dasharray="2,2"/>
<line x1="739.9" y1="1058.7" x2="1150.6" y2="1058.7" stroke="#d8d8d8" stroke-width="0.9" stroke-dasharray="2,2"/>
<line x1="739.9" y1="1117.3" x2="1150.6" y2="1117.3" stroke="#d8d8d8" stroke-width="0.9" stroke-dasharray="2,2"/>
<line x1="739.9" y1="1146.6" x2="1150.6" y2="1146.6" stroke="#d8d8d8" stroke-width="0.9" stroke-dasharray="2,2"/>
<line x1="739.9" y1="951.9" x2="1150.6" y2="951.9" stroke="#a8a8a8" stroke-width="1.2"/>
<line x1="739.9" y1="971.9" x2="1150.6" y2="971.9" stroke="#b0b0b0" stroke-width="1"/>
<line x1="739.9" y1="1032.0" x2="1150.6" y2="1032.0" stroke="#b0b0b0" stroke-width="1"/>
<line x1="739.9" y1="1048.3" x2="1150.6" y2="1048.3" stroke="#b0b0b0" stroke-width="1"/>
<text x="733.6" y="807.1" font-size="20.6" text-anchor="end">0.6</text>
<text x="733.6" y="834.0" font-size="20.6" text-anchor="end">0.5</text>
<text x="733.6" y="857.4" font-size="20.6" text-anchor="end">0.4</text>
<text x="733.6" y="883.6" font-size="20.6" text-anchor="end">0.3</text>
<text x="733.6" y="907.7" font-size="20.6" text-anchor="end">0.2</text>
<text x="733.6" y="933.9" font-size="20.6" text-anchor="end">0.1</text>
<text x="733.6" y="957.3" font-size="20.6" text-anchor="end">0.0</text>
<polyline points="739.9,952.3 740.4,942.3 740.9,933.1 741.9,917.1 742.8,901.3 743.6,892.4 744.4,882.7 745.1,877.5 745.8,874.5 746.8,867.7 747.7,859.6 748.7,854.6 749.7,848.1 751.0,843.8 752.3,838.6 753.4,838.4 754.6,836.7 756.1,834.3 757.5,832.9 759.0,826.7 760.5,820.9 762.0,817.0 763.4,811.0 765.1,808.0 766.7,805.2 768.3,802.3 769.3,800.1 770.3,799.7 771.9,798.9 773.6,798.3 775.2,798.1 776.8,797.4 778.5,797.8 780.1,796.8 781.6,797.1 783.2,796.1 784.7,795.9 786.3,796.8 787.8,796.5 789.3,796.0 790.9,794.6 792.6,796.1 794.4,796.5 796.2,797.6 797.9,798.0 799.7,798.8 801.3,799.2 803.0,799.2 804.6,799.5 806.2,799.3 807.9,800.0 809.5,800.0 811.0,800.7 812.5,801.2 814.1,802.3 815.6,803.8 817.1,803.3 818.6,803.8 820.2,804.6 821.7,805.7 823.2,806.2 824.7,807.8 826.3,807.7 827.8,809.0 829.3,810.3 830.8,811.5 832.4,811.2 833.9,811.8 835.4,814.1 836.9,813.9 838.5,815.3 840.1,816.4 841.6,817.0 843.2,817.1 844.8,817.7 846.4,819.7 847.9,819.7 849.5,821.3 851.1,821.1 852.6,822.4 854.1,822.5 855.6,823.2 857.1,824.9 858.7,825.0 860.2,827.0 861.7,828.3 863.2,828.4 864.7,830.1 866.2,830.8 867.7,831.4 869.2,832.0 870.7,833.6 872.2,834.6 873.7,834.2 875.2,835.9 876.8,835.7 878.3,836.6 879.8,838.3 881.3,839.0 882.8,839.7 884.3,840.3 885.8,841.2 887.3,842.1 888.8,842.9 890.3,843.2 891.8,844.7 893.3,845.7 894.8,846.2 896.4,847.8 897.9,848.6 899.4,848.5 900.9,850.1 902.4,851.0 903.9,852.7 905.4,853.0 906.9,853.6 908.4,855.4 909.9,855.4 911.4,856.3 912.9,858.1 914.5,858.2 916.0,859.5 917.5,860.1 919.0,861.6 920.5,862.0 922.0,863.0 923.5,865.0 925.0,866.0 926.5,866.0 928.0,866.5 929.5,868.6 931.0,869.3 932.5,870.1 934.1,871.6 935.6,872.6 937.1,873.7 938.6,874.7 940.1,875.4 941.6,876.9 943.1,877.8 944.6,878.3 946.1,880.5 947.6,880.7 949.1,881.5 950.6,883.2 952.2,884.3 953.7,884.4 955.2,886.3 956.7,887.3 958.2,887.9 959.7,888.5 961.2,890.4 962.7,891.0 964.2,892.0 965.7,892.2 967.2,893.8 968.7,894.1 970.2,896.2 971.8,896.9 973.3,897.4 974.8,898.0 976.3,899.7 977.8,901.0 979.3,902.1 980.8,902.5 982.3,904.0 983.8,904.0 985.3,904.9 986.8,906.9 988.3,907.8 989.9,907.9 991.4,909.1 992.9,909.7 994.4,911.3 995.9,912.6 997.4,913.2 998.9,913.4 1000.4,915.1 1001.9,915.9 1003.4,916.7 1004.9,917.6 1006.4,918.5 1007.9,918.6 1009.5,920.7 1011.0,921.7 1012.5,921.0 1014.0,921.8 1015.5,922.4 1017.0,924.0 1018.5,924.0 1020.0,924.8 1021.5,926.6 1023.0,926.6 1024.5,927.2 1026.0,928.2 1027.6,929.2 1029.1,930.3 1030.6,930.9 1032.1,931.7 1033.6,932.7 1035.1,932.5 1036.6,933.7 1038.1,933.5 1039.6,935.4 1041.1,934.8 1042.6,935.8 1044.1,936.1 1045.6,936.8 1047.2,937.5 1048.7,938.7 1050.2,940.3 1051.7,939.9 1053.2,941.5 1054.7,942.1 1056.2,942.3 1057.7,943.3 1059.2,944.2 1060.7,944.1 1062.2,945.4 1063.7,946.6 1065.3,947.4 1066.8,947.3 1068.3,948.6 1069.9,948.8 1071.5,950.1 1073.2,951.0 1074.8,951.1 1076.4,951.3 1078.1,953.0 1079.7,952.7 1081.3,953.1 1083.0,954.0 1084.6,954.6 1086.2,956.5 1087.9,956.2 1089.5,956.3 1091.1,958.1 1092.8,958.2 1094.4,958.7 1096.0,958.8 1097.7,959.5 1099.4,959.8 1101.0,959.8 1102.7,961.4 1104.4,961.7 1106.1,962.0 1107.8,962.4 1109.4,963.0 1111.4,960.2 1113.4,959.1 1115.3,959.0 1117.3,956.4 1119.2,954.7 1120.9,953.4 1122.5,952.1 1124.1,950.3 1125.9,950.7 1127.6,951.4 1129.3,952.0 1131.0,951.9" fill="none" stroke="#64c040" stroke-width="2.6" stroke-linejoin="round"/>
<rect x="740.20" y="973.40" width="12.30" height="58.60" fill="#050505"/>
<rect x="755.60" y="973.40" width="0.85" height="58.60" fill="#555"/>
<rect x="756.70" y="973.40" width="10.90" height="58.60" fill="#050505"/>
<rect x="768.00" y="973.40" width="0.85" height="58.60" fill="#555"/>
<rect x="768.70" y="973.40" width="0.95" height="58.60" fill="#999"/>
<rect x="771.90" y="973.40" width="7.50" height="58.60" fill="#050505"/>
<rect x="780.40" y="973.40" width="1.15" height="58.60" fill="#080808"/>
<rect x="781.40" y="973.40" width="1.15" height="58.60" fill="#080808"/>
<rect x="782.40" y="973.40" width="1.15" height="58.60" fill="#808080"/>
<rect x="783.40" y="973.40" width="1.15" height="58.60" fill="#3a3a3a"/>
<rect x="784.40" y="973.40" width="1.15" height="58.60" fill="#080808"/>
<rect x="785.40" y="973.40" width="1.55" height="58.60" fill="#080808"/>
<rect x="786.80" y="973.40" width="0.85" height="58.60" fill="#3a3a3a"/>
<rect x="787.50" y="973.40" width="1.15" height="58.60" fill="#555"/>
<rect x="788.50" y="973.40" width="1.15" height="58.60" fill="#080808"/>
<rect x="789.50" y="973.40" width="1.15" height="58.60" fill="#080808"/>
<rect x="790.50" y="973.40" width="1.15" height="58.60" fill="#080808"/>
<rect x="791.50" y="973.40" width="0.35" height="58.60" fill="#808080"/>
<rect x="794.60" y="973.40" width="2.30" height="58.60" fill="#050505"/>
<rect x="798.80" y="973.40" width="1.15" height="58.60" fill="#080808"/>
<rect x="799.80" y="973.40" width="1.55" height="58.60" fill="#080808"/>
<rect x="801.20" y="973.40" width="1.15" height="58.60" fill="#080808"/>
<rect x="802.20" y="973.40" width="1.15" height="58.60" fill="#080808"/>
<rect x="803.20" y="973.40" width="0.85" height="58.60" fill="#080808"/>
<rect x="803.90" y="973.40" width="1.15" height="58.60" fill="#080808"/>
<rect x="804.90" y="973.40" width="1.15" height="58.60" fill="#808080"/>
<rect x="805.90" y="973.40" width="1.15" height="58.60" fill="#080808"/>
<rect x="806.90" y="973.40" width="1.05" height="58.60" fill="#080808"/>
<rect x="808.80" y="973.40" width="0.85" height="58.60" fill="#3a3a3a"/>
<rect x="810.50" y="973.40" width="0.85" height="58.60" fill="#808080"/>
<rect x="811.20" y="973.40" width="1.15" height="58.60" fill="#3a3a3a"/>
<rect x="812.20" y="973.40" width="1.55" height="58.60" fill="#080808"/>
<rect x="813.60" y="973.40" width="1.15" height="58.60" fill="#555"/>
<rect x="815.30" y="973.40" width="1.15" height="58.60" fill="#6a6a6a"/>
<rect x="817.30" y="973.40" width="5.60" height="58.60" fill="#050505"/>
<rect x="827.20" y="973.40" width="3.30" height="58.60" fill="#050505"/>
<rect x="833.30" y="973.40" width="1.50" height="58.60" fill="#050505"/>
<rect x="838.00" y="973.40" width="1.00" height="58.60" fill="#050505"/>
<rect x="841.90" y="973.40" width="0.85" height="58.60" fill="#6a6a6a"/>
<rect x="842.60" y="973.40" width="1.15" height="58.60" fill="#080808"/>
<rect x="843.60" y="973.40" width="0.85" height="58.60" fill="#999"/>
<rect x="845.30" y="973.40" width="1.15" height="58.60" fill="#999"/>
<rect x="846.30" y="973.40" width="0.85" height="58.60" fill="#6a6a6a"/>
<rect x="847.00" y="973.40" width="1.15" height="58.60" fill="#080808"/>
<rect x="848.00" y="973.40" width="0.85" height="58.60" fill="#6a6a6a"/>
<rect x="848.70" y="973.40" width="1.55" height="58.60" fill="#080808"/>
<rect x="850.10" y="973.40" width="0.85" height="58.60" fill="#080808"/>
<rect x="850.80" y="973.40" width="1.55" height="58.60" fill="#080808"/>
<rect x="853.20" y="973.40" width="1.55" height="58.60" fill="#555"/>
<rect x="858.00" y="973.40" width="1.05" height="58.60" fill="#808080"/>
<rect x="862.20" y="973.40" width="2.30" height="58.60" fill="#050505"/>
<rect x="870.20" y="973.40" width="0.85" height="58.60" fill="#080808"/>
<rect x="870.90" y="973.40" width="1.15" height="58.60" fill="#080808"/>
<rect x="871.90" y="973.40" width="1.55" height="58.60" fill="#808080"/>
<rect x="875.70" y="973.40" width="1.15" height="58.60" fill="#6a6a6a"/>
<rect x="876.70" y="973.40" width="1.55" height="58.60" fill="#555"/>
<rect x="878.10" y="973.40" width="0.85" height="58.60" fill="#999"/>
<rect x="878.80" y="973.40" width="1.15" height="58.60" fill="#808080"/>
<rect x="879.80" y="973.40" width="1.15" height="58.60" fill="#080808"/>
<rect x="880.80" y="973.40" width="1.55" height="58.60" fill="#999"/>
<rect x="882.20" y="973.40" width="0.45" height="58.60" fill="#080808"/>
<rect x="885.80" y="973.40" width="2.90" height="58.60" fill="#050505"/>
<rect x="891.00" y="973.40" width="1.15" height="58.60" fill="#3a3a3a"/>
<rect x="892.00" y="973.40" width="0.55" height="58.60" fill="#6a6a6a"/>
<rect x="897.20" y="973.40" width="8.00" height="58.60" fill="#050505"/>
<rect x="909.00" y="973.40" width="1.90" height="58.60" fill="#050505"/>
<rect x="917.00" y="973.40" width="1.55" height="58.60" fill="#6a6a6a"/>
<rect x="918.40" y="973.40" width="1.15" height="58.60" fill="#999"/>
<rect x="919.40" y="973.40" width="0.85" height="58.60" fill="#6a6a6a"/>
<rect x="920.10" y="973.40" width="1.15" height="58.60" fill="#808080"/>
<rect x="922.10" y="973.40" width="1.15" height="58.60" fill="#6a6a6a"/>
<rect x="923.10" y="973.40" width="1.55" height="58.60" fill="#555"/>
<rect x="925.90" y="973.40" width="1.15" height="58.60" fill="#999"/>
<rect x="926.90" y="973.40" width="1.15" height="58.60" fill="#080808"/>
<rect x="928.90" y="973.40" width="1.25" height="58.60" fill="#3a3a3a"/>
<rect x="932.00" y="973.40" width="1.55" height="58.60" fill="#080808"/>
<rect x="933.40" y="973.40" width="1.55" height="58.60" fill="#999"/>
<rect x="936.30" y="973.40" width="0.85" height="58.60" fill="#080808"/>
<rect x="937.00" y="973.40" width="1.55" height="58.60" fill="#555"/>
<rect x="938.40" y="973.40" width="1.15" height="58.60" fill="#555"/>
<rect x="941.10" y="973.40" width="4.40" height="58.60" fill="#050505"/>
<rect x="947.00" y="973.40" width="5.80" height="58.60" fill="#050505"/>
<rect x="953.70" y="973.40" width="1.15" height="58.60" fill="#080808"/>
<rect x="954.70" y="973.40" width="1.15" height="58.60" fill="#080808"/>
<rect x="955.70" y="973.40" width="1.05" height="58.60" fill="#999"/>
<rect x="958.60" y="973.40" width="1.90" height="58.60" fill="#050505"/>
<rect x="971.20" y="973.40" width="1.40" height="58.60" fill="#050505"/>
<rect x="974.00" y="973.40" width="2.00" height="58.60" fill="#050505"/>
<rect x="978.40" y="973.40" width="0.85" height="58.60" fill="#080808"/>
<rect x="979.10" y="973.40" width="1.15" height="58.60" fill="#080808"/>
<rect x="980.10" y="973.40" width="0.85" height="58.60" fill="#555"/>
<rect x="980.80" y="973.40" width="0.75" height="58.60" fill="#080808"/>
<rect x="982.80" y="973.40" width="3.90" height="58.60" fill="#050505"/>
<rect x="991.00" y="973.40" width="7.80" height="58.60" fill="#050505"/>
<rect x="1001.20" y="973.40" width="2.00" height="58.60" fill="#050505"/>
<rect x="1013.30" y="973.40" width="1.15" height="58.60" fill="#080808"/>
<rect x="1016.30" y="973.40" width="1.05" height="58.60" fill="#080808"/>
<rect x="1020.00" y="973.40" width="5.00" height="58.60" fill="#050505"/>
<rect x="1027.00" y="973.40" width="3.80" height="58.60" fill="#050505"/>
<rect x="1034.00" y="973.40" width="1.15" height="58.60" fill="#555"/>
<rect x="1035.00" y="973.40" width="1.55" height="58.60" fill="#555"/>
<rect x="1036.40" y="973.40" width="1.15" height="58.60" fill="#6a6a6a"/>
<rect x="1037.40" y="973.40" width="0.85" height="58.60" fill="#080808"/>
<rect x="1038.10" y="973.40" width="1.15" height="58.60" fill="#999"/>
<rect x="1039.10" y="973.40" width="1.15" height="58.60" fill="#080808"/>
<rect x="1040.10" y="973.40" width="0.55" height="58.60" fill="#080808"/>
<rect x="1041.40" y="973.40" width="1.15" height="58.60" fill="#080808"/>
<rect x="1042.40" y="973.40" width="1.55" height="58.60" fill="#808080"/>
<rect x="1043.80" y="973.40" width="1.55" height="58.60" fill="#555"/>
<rect x="1045.20" y="973.40" width="1.15" height="58.60" fill="#6a6a6a"/>
<rect x="1046.20" y="973.40" width="1.55" height="58.60" fill="#080808"/>
<rect x="1047.60" y="973.40" width="0.85" height="58.60" fill="#080808"/>
<rect x="1048.30" y="973.40" width="1.15" height="58.60" fill="#080808"/>
<rect x="1049.30" y="973.40" width="1.15" height="58.60" fill="#080808"/>
<rect x="1050.30" y="973.40" width="0.45" height="58.60" fill="#080808"/>
<rect x="1053.00" y="973.40" width="1.55" height="58.60" fill="#080808"/>
<rect x="1054.40" y="973.40" width="0.85" height="58.60" fill="#808080"/>
<rect x="1055.10" y="973.40" width="0.85" height="58.60" fill="#080808"/>
<rect x="1055.80" y="973.40" width="1.15" height="58.60" fill="#080808"/>
<rect x="1056.80" y="973.40" width="1.55" height="58.60" fill="#555"/>
<rect x="1058.20" y="973.40" width="0.85" height="58.60" fill="#080808"/>
<rect x="1060.30" y="973.40" width="7.30" height="58.60" fill="#050505"/>
<rect x="1069.00" y="973.40" width="1.15" height="58.60" fill="#6a6a6a"/>
<rect x="1070.00" y="973.40" width="1.15" height="58.60" fill="#080808"/>
<rect x="1071.00" y="973.40" width="1.55" height="58.60" fill="#080808"/>
<rect x="1072.40" y="973.40" width="0.85" height="58.60" fill="#080808"/>
<rect x="1073.10" y="973.40" width="1.15" height="58.60" fill="#080808"/>
<rect x="1074.10" y="973.40" width="1.15" height="58.60" fill="#080808"/>
<rect x="1075.10" y="973.40" width="0.85" height="58.60" fill="#080808"/>
<rect x="1075.80" y="973.40" width="1.15" height="58.60" fill="#080808"/>
<rect x="1076.80" y="973.40" width="1.15" height="58.60" fill="#080808"/>
<rect x="1077.80" y="973.40" width="1.15" height="58.60" fill="#080808"/>
<rect x="1078.80" y="973.40" width="0.85" height="58.60" fill="#999"/>
<rect x="1079.50" y="973.40" width="0.85" height="58.60" fill="#080808"/>
<rect x="1082.00" y="973.40" width="4.00" height="58.60" fill="#050505"/>
<rect x="1088.00" y="973.40" width="6.70" height="58.60" fill="#050505"/>
<rect x="1097.60" y="973.40" width="1.55" height="58.60" fill="#080808"/>
<rect x="1099.00" y="973.40" width="1.55" height="58.60" fill="#080808"/>
<rect x="1100.40" y="973.40" width="1.55" height="58.60" fill="#080808"/>
<rect x="1101.80" y="973.40" width="1.15" height="58.60" fill="#080808"/>
<rect x="1102.80" y="973.40" width="1.55" height="58.60" fill="#080808"/>
<rect x="1104.20" y="973.40" width="0.85" height="58.60" fill="#080808"/>
<rect x="1104.90" y="973.40" width="0.85" height="58.60" fill="#080808"/>
<rect x="1105.60" y="973.40" width="1.55" height="58.60" fill="#080808"/>
<rect x="1107.00" y="973.40" width="0.45" height="58.60" fill="#555"/>
<rect x="1109.30" y="973.40" width="13.50" height="58.60" fill="#050505"/>
<rect x="1126.70" y="973.40" width="1.50" height="58.60" fill="#050505"/>
<defs><linearGradient id="gb1" x1="0" x2="1" y1="0" y2="0"><stop offset="0" stop-color="#b01018"/><stop offset="0.04" stop-color="#e02a30"/><stop offset="0.12" stop-color="#e04650"/><stop offset="0.2" stop-color="#dc6070"/><stop offset="0.288" stop-color="#e8787e"/><stop offset="0.29" stop-color="#e8b0dc"/><stop offset="0.53" stop-color="#e6b4de"/><stop offset="0.535" stop-color="#cfd0f0"/><stop offset="0.68" stop-color="#b4b4e4"/><stop offset="0.785" stop-color="#a8a8dc"/><stop offset="0.79" stop-color="#7070c8"/><stop offset="1" stop-color="#3c3cac"/></linearGradient></defs>
<rect x="739.90" y="1032.00" width="390.30" height="15.80" fill="url(#gb1)"/>
<line x1="804.5" y1="1032.0" x2="804.5" y2="1047.8" stroke="#000" stroke-width="1.2" stroke-opacity="0.12"/>
<line x1="906.0" y1="1032.0" x2="906.0" y2="1047.8" stroke="#fff" stroke-width="0.8" stroke-opacity="0.15"/>
<line x1="844.2" y1="1032.0" x2="844.2" y2="1047.8" stroke="#fff" stroke-width="0.8" stroke-opacity="0.14"/>
<line x1="749.9" y1="1032.0" x2="749.9" y2="1047.8" stroke="#fff" stroke-width="1.2" stroke-opacity="0.18"/>
<line x1="1013.6" y1="1032.0" x2="1013.6" y2="1047.8" stroke="#fff" stroke-width="0.8" stroke-opacity="0.16"/>
<line x1="825.5" y1="1032.0" x2="825.5" y2="1047.8" stroke="#fff" stroke-width="0.8" stroke-opacity="0.18"/>
<line x1="1015.4" y1="1032.0" x2="1015.4" y2="1047.8" stroke="#fff" stroke-width="1.2" stroke-opacity="0.07"/>
<line x1="812.2" y1="1032.0" x2="812.2" y2="1047.8" stroke="#fff" stroke-width="0.8" stroke-opacity="0.13"/>
<line x1="756.9" y1="1032.0" x2="756.9" y2="1047.8" stroke="#000" stroke-width="0.8" stroke-opacity="0.15"/>
<line x1="849.1" y1="1032.0" x2="849.1" y2="1047.8" stroke="#000" stroke-width="0.8" stroke-opacity="0.16"/>
<line x1="792.3" y1="1032.0" x2="792.3" y2="1047.8" stroke="#fff" stroke-width="1.2" stroke-opacity="0.09"/>
<line x1="974.2" y1="1032.0" x2="974.2" y2="1047.8" stroke="#000" stroke-width="1.2" stroke-opacity="0.17"/>
<line x1="885.9" y1="1032.0" x2="885.9" y2="1047.8" stroke="#fff" stroke-width="0.8" stroke-opacity="0.14"/>
<line x1="798.9" y1="1032.0" x2="798.9" y2="1047.8" stroke="#fff" stroke-width="1.2" stroke-opacity="0.08"/>
<line x1="955.2" y1="1032.0" x2="955.2" y2="1047.8" stroke="#000" stroke-width="1.2" stroke-opacity="0.12"/>
<line x1="792.1" y1="1032.0" x2="792.1" y2="1047.8" stroke="#000" stroke-width="0.8" stroke-opacity="0.11"/>
<line x1="891.7" y1="1032.0" x2="891.7" y2="1047.8" stroke="#fff" stroke-width="0.8" stroke-opacity="0.14"/>
<line x1="773.2" y1="1032.0" x2="773.2" y2="1047.8" stroke="#fff" stroke-width="0.8" stroke-opacity="0.16"/>
<line x1="937.6" y1="1032.0" x2="937.6" y2="1047.8" stroke="#fff" stroke-width="1.2" stroke-opacity="0.10"/>
<line x1="920.5" y1="1032.0" x2="920.5" y2="1047.8" stroke="#fff" stroke-width="1.2" stroke-opacity="0.15"/>
<line x1="751.4" y1="1032.0" x2="751.4" y2="1047.8" stroke="#fff" stroke-width="1.2" stroke-opacity="0.16"/>
<line x1="1108.6" y1="1032.0" x2="1108.6" y2="1047.8" stroke="#fff" stroke-width="1.2" stroke-opacity="0.15"/>
<line x1="772.6" y1="1032.0" x2="772.6" y2="1047.8" stroke="#fff" stroke-width="1.2" stroke-opacity="0.07"/>
<line x1="983.8" y1="1032.0" x2="983.8" y2="1047.8" stroke="#fff" stroke-width="1.2" stroke-opacity="0.09"/>
<line x1="1103.1" y1="1032.0" x2="1103.1" y2="1047.8" stroke="#000" stroke-width="1.2" stroke-opacity="0.10"/>
<line x1="1022.0" y1="1032.0" x2="1022.0" y2="1047.8" stroke="#000" stroke-width="1.2" stroke-opacity="0.15"/>
<line x1="909.1" y1="1032.0" x2="909.1" y2="1047.8" stroke="#fff" stroke-width="1.2" stroke-opacity="0.13"/>
<line x1="963.6" y1="1032.0" x2="963.6" y2="1047.8" stroke="#000" stroke-width="0.8" stroke-opacity="0.06"/>
<line x1="754.4" y1="1032.0" x2="754.4" y2="1047.8" stroke="#fff" stroke-width="0.8" stroke-opacity="0.08"/>
<line x1="931.2" y1="1032.0" x2="931.2" y2="1047.8" stroke="#000" stroke-width="1.2" stroke-opacity="0.05"/>
<line x1="923.4" y1="1032.0" x2="923.4" y2="1047.8" stroke="#000" stroke-width="1.2" stroke-opacity="0.11"/>
<line x1="778.8" y1="1032.0" x2="778.8" y2="1047.8" stroke="#fff" stroke-width="0.8" stroke-opacity="0.06"/>
<line x1="1079.1" y1="1032.0" x2="1079.1" y2="1047.8" stroke="#fff" stroke-width="1.2" stroke-opacity="0.12"/>
<line x1="782.9" y1="1032.0" x2="782.9" y2="1047.8" stroke="#000" stroke-width="0.8" stroke-opacity="0.14"/>
<line x1="752.8" y1="1032.0" x2="752.8" y2="1047.8" stroke="#000" stroke-width="0.8" stroke-opacity="0.17"/>
<line x1="883.9" y1="1032.0" x2="883.9" y2="1047.8" stroke="#fff" stroke-width="0.8" stroke-opacity="0.14"/>
<line x1="924.0" y1="1032.0" x2="924.0" y2="1047.8" stroke="#fff" stroke-width="0.8" stroke-opacity="0.15"/>
<line x1="866.5" y1="1032.0" x2="866.5" y2="1047.8" stroke="#fff" stroke-width="1.2" stroke-opacity="0.14"/>
<line x1="803.6" y1="1032.0" x2="803.6" y2="1047.8" stroke="#fff" stroke-width="0.8" stroke-opacity="0.12"/>
<line x1="996.1" y1="1032.0" x2="996.1" y2="1047.8" stroke="#000" stroke-width="1.2" stroke-opacity="0.14"/>
<line x1="811.9" y1="1032.0" x2="811.9" y2="1047.8" stroke="#000" stroke-width="1.2" stroke-opacity="0.06"/>
<line x1="1127.7" y1="1032.0" x2="1127.7" y2="1047.8" stroke="#fff" stroke-width="1.2" stroke-opacity="0.15"/>
<line x1="808.5" y1="1032.0" x2="808.5" y2="1047.8" stroke="#fff" stroke-width="0.8" stroke-opacity="0.13"/>
<line x1="908.0" y1="1032.0" x2="908.0" y2="1047.8" stroke="#fff" stroke-width="1.2" stroke-opacity="0.11"/>
<line x1="916.7" y1="1032.0" x2="916.7" y2="1047.8" stroke="#fff" stroke-width="1.2" stroke-opacity="0.06"/>
<line x1="953.9" y1="1032.0" x2="953.9" y2="1047.8" stroke="#fff" stroke-width="1.2" stroke-opacity="0.14"/>
<line x1="832.4" y1="1032.0" x2="832.4" y2="1047.8" stroke="#fff" stroke-width="1.2" stroke-opacity="0.17"/>
<line x1="760.9" y1="1032.0" x2="760.9" y2="1047.8" stroke="#fff" stroke-width="0.8" stroke-opacity="0.11"/>
<line x1="1044.9" y1="1032.0" x2="1044.9" y2="1047.8" stroke="#000" stroke-width="0.8" stroke-opacity="0.16"/>
<line x1="913.9" y1="1032.0" x2="913.9" y2="1047.8" stroke="#fff" stroke-width="0.8" stroke-opacity="0.17"/>
<line x1="815.8" y1="1032.0" x2="815.8" y2="1047.8" stroke="#fff" stroke-width="1.2" stroke-opacity="0.12"/>
<line x1="772.8" y1="1032.0" x2="772.8" y2="1047.8" stroke="#fff" stroke-width="1.2" stroke-opacity="0.06"/>
<line x1="1124.4" y1="1032.0" x2="1124.4" y2="1047.8" stroke="#fff" stroke-width="0.8" stroke-opacity="0.16"/>
<line x1="823.6" y1="1032.0" x2="823.6" y2="1047.8" stroke="#000" stroke-width="0.8" stroke-opacity="0.12"/>
<line x1="929.8" y1="1032.0" x2="929.8" y2="1047.8" stroke="#fff" stroke-width="1.2" stroke-opacity="0.14"/>
<line x1="1096.2" y1="1032.0" x2="1096.2" y2="1047.8" stroke="#000" stroke-width="1.2" stroke-opacity="0.17"/>
<line x1="1130.1" y1="1032.0" x2="1130.1" y2="1047.8" stroke="#fff" stroke-width="0.8" stroke-opacity="0.09"/>
<line x1="774.1" y1="1032.0" x2="774.1" y2="1047.8" stroke="#000" stroke-width="1.2" stroke-opacity="0.09"/>
<line x1="790.6" y1="1032.0" x2="790.6" y2="1047.8" stroke="#000" stroke-width="0.8" stroke-opacity="0.08"/>
<line x1="772.8" y1="1032.0" x2="772.8" y2="1047.8" stroke="#fff" stroke-width="1.2" stroke-opacity="0.09"/>
<line x1="932.2" y1="1032.0" x2="932.2" y2="1047.8" stroke="#fff" stroke-width="0.8" stroke-opacity="0.14"/>
<line x1="1050.6" y1="1032.0" x2="1050.6" y2="1047.8" stroke="#fff" stroke-width="1.2" stroke-opacity="0.06"/>
<line x1="1040.2" y1="1032.0" x2="1040.2" y2="1047.8" stroke="#fff" stroke-width="1.2" stroke-opacity="0.17"/>
<line x1="995.2" y1="1032.0" x2="995.2" y2="1047.8" stroke="#fff" stroke-width="0.8" stroke-opacity="0.11"/>
<line x1="1058.7" y1="1032.0" x2="1058.7" y2="1047.8" stroke="#fff" stroke-width="0.8" stroke-opacity="0.14"/>
<line x1="844.4" y1="1032.0" x2="844.4" y2="1047.8" stroke="#fff" stroke-width="1.2" stroke-opacity="0.09"/>
<line x1="859.5" y1="1032.0" x2="859.5" y2="1047.8" stroke="#000" stroke-width="0.8" stroke-opacity="0.11"/>
<line x1="866.1" y1="1032.0" x2="866.1" y2="1047.8" stroke="#fff" stroke-width="0.8" stroke-opacity="0.12"/>
<line x1="1028.3" y1="1032.0" x2="1028.3" y2="1047.8" stroke="#fff" stroke-width="0.8" stroke-opacity="0.07"/>
<line x1="1118.3" y1="1032.0" x2="1118.3" y2="1047.8" stroke="#000" stroke-width="1.2" stroke-opacity="0.16"/>
<text x="745.6" y="1060.8" font-size="13.7" fill="#d2303f">Enriched in RPM</text>
<text x="1127.3" y="1060.8" font-size="13.7" text-anchor="end" fill="#4848b0">Depleted in RPM</text>
<path d="M739.9,1088.0 L739.9,1065.1 L745.0,1069.8 L752.0,1073.9 L760.0,1077.2 L772.0,1080.7 L784.0,1083.0 L800.0,1084.5 L832.0,1085.5 L880.0,1086.5 L932.0,1087.7 L980.0,1088.9 L1033.0,1090.1 L1080.0,1091.5 L1095.7,1092.1 L1110.0,1093.9 L1119.7,1095.9 L1124.0,1098.3 L1127.0,1105.0 L1129.3,1124.9 L1130.2,1165.6 L1130.2,1088.0Z" fill="#b9b9b9" stroke="#b0b0b0" stroke-width="0.8"/>
<line x1="945.8" y1="1065.6" x2="945.8" y2="1151.5" stroke="#888" stroke-width="1" stroke-dasharray="3,3"/>
<text x="945.8" y="1113.0" font-size="9.2" text-anchor="middle" fill="#444">Zero cross at 8567</text>
<text x="733.6" y="1066.6" font-size="20.6" text-anchor="end">10</text>
<text x="733.6" y="1097.5" font-size="20.6" text-anchor="end">0</text>
<text x="733.6" y="1128.0" font-size="20.6" text-anchor="end">-10</text>
<text x="733.6" y="1156.0" font-size="20.6" text-anchor="end">-20</text>
<line x1="739.9" y1="1171.5" x2="739.9" y2="1174.5" stroke="#999" stroke-width="1"/>
<line x1="788.0" y1="1171.5" x2="788.0" y2="1174.5" stroke="#999" stroke-width="1"/>
<line x1="836.1" y1="1171.5" x2="836.1" y2="1174.5" stroke="#999" stroke-width="1"/>
<line x1="884.2" y1="1171.5" x2="884.2" y2="1174.5" stroke="#999" stroke-width="1"/>
<line x1="932.3" y1="1171.5" x2="932.3" y2="1174.5" stroke="#999" stroke-width="1"/>
<line x1="980.4" y1="1171.5" x2="980.4" y2="1174.5" stroke="#999" stroke-width="1"/>
<line x1="1028.5" y1="1171.5" x2="1028.5" y2="1174.5" stroke="#999" stroke-width="1"/>
<line x1="1076.6" y1="1171.5" x2="1076.6" y2="1174.5" stroke="#999" stroke-width="1"/>
<line x1="1124.7" y1="1171.5" x2="1124.7" y2="1174.5" stroke="#999" stroke-width="1"/>
<text x="744.0" y="1195.9" font-size="20.4" text-anchor="middle">0</text>
<text x="839.0" y="1195.9" font-size="20.4" text-anchor="middle">4000</text>
<text x="933.0" y="1195.9" font-size="20.4" text-anchor="middle">8000</text>
<text x="1023.0" y="1195.9" font-size="20.4" text-anchor="middle">12000</text>
<text x="1119.7" y="1195.9" font-size="20.4" text-anchor="middle">16000</text>
<text transform="translate(693.5,989.2) rotate(-90)" font-size="20.7">Enrichment score (ES)</text>
<text transform="translate(668.6,1195.8) rotate(-90)" font-size="21">Ranked list metric</text>
<text transform="translate(694.1,1172.8) rotate(-90)" font-size="21">(PreRanked)</text>
<rect x="762.30" y="1210.30" width="345.40" height="22.00" fill="#fff" stroke="#000" stroke-width="1.6"/>
<line x1="769.5" y1="1220.8" x2="779.6" y2="1220.8" stroke="#64c040" stroke-width="3.2"/>
<text x="782.8" y="1224.6" font-size="14.1">Enrichment profile</text>
<line x1="905.0" y1="1220.8" x2="914.6" y2="1220.8" stroke="#000" stroke-width="3.2"/>
<text x="918.3" y="1224.6" font-size="14.1">Hits</text>
<line x1="950.6" y1="1220.8" x2="960.2" y2="1220.8" stroke="#999" stroke-width="3.2"/>
<text x="963.2" y="1224.6" font-size="14.1">Ranking metric scores</text>
<rect x="1252.20" y="790.80" width="406.40" height="383.10" fill="#fff" stroke="#b4b4b4" stroke-width="1.2"/>
<line x1="1252.2" y1="790.7" x2="1658.6" y2="790.7" stroke="#d8d8d8" stroke-width="0.9" stroke-dasharray="2,2"/>
<line x1="1252.2" y1="821.1" x2="1658.6" y2="821.1" stroke="#d8d8d8" stroke-width="0.9" stroke-dasharray="2,2"/>
<line x1="1252.2" y1="851.5" x2="1658.6" y2="851.5" stroke="#d8d8d8" stroke-width="0.9" stroke-dasharray="2,2"/>
<line x1="1252.2" y1="881.9" x2="1658.6" y2="881.9" stroke="#d8d8d8" stroke-width="0.9" stroke-dasharray="2,2"/>
<line x1="1252.2" y1="942.7" x2="1658.6" y2="942.7" stroke="#d8d8d8" stroke-width="0.9" stroke-dasharray="2,2"/>
<line x1="1252.2" y1="973.1" x2="1658.6" y2="973.1" stroke="#d8d8d8" stroke-width="0.9" stroke-dasharray="2,2"/>
<line x1="1299.5" y1="790.8" x2="1299.5" y2="974.5" stroke="#d8d8d8" stroke-width="0.9" stroke-dasharray="2,2"/>
<line x1="1299.5" y1="1051.9" x2="1299.5" y2="1173.9" stroke="#d8d8d8" stroke-width="0.9" stroke-dasharray="2,2"/>
<line x1="1346.9" y1="790.8" x2="1346.9" y2="974.5" stroke="#d8d8d8" stroke-width="0.9" stroke-dasharray="2,2"/>
<line x1="1346.9" y1="1051.9" x2="1346.9" y2="1173.9" stroke="#d8d8d8" stroke-width="0.9" stroke-dasharray="2,2"/>
<line x1="1394.2" y1="790.8" x2="1394.2" y2="974.5" stroke="#d8d8d8" stroke-width="0.9" stroke-dasharray="2,2"/>
<line x1="1394.2" y1="1051.9" x2="1394.2" y2="1173.9" stroke="#d8d8d8" stroke-width="0.9" stroke-dasharray="2,2"/>
<line x1="1441.6" y1="790.8" x2="1441.6" y2="974.5" stroke="#d8d8d8" stroke-width="0.9" stroke-dasharray="2,2"/>
<line x1="1441.6" y1="1051.9" x2="1441.6" y2="1173.9" stroke="#d8d8d8" stroke-width="0.9" stroke-dasharray="2,2"/>
<line x1="1489.0" y1="790.8" x2="1489.0" y2="974.5" stroke="#d8d8d8" stroke-width="0.9" stroke-dasharray="2,2"/>
<line x1="1489.0" y1="1051.9" x2="1489.0" y2="1173.9" stroke="#d8d8d8" stroke-width="0.9" stroke-dasharray="2,2"/>
<line x1="1536.3" y1="790.8" x2="1536.3" y2="974.5" stroke="#d8d8d8" stroke-width="0.9" stroke-dasharray="2,2"/>
<line x1="1536.3" y1="1051.9" x2="1536.3" y2="1173.9" stroke="#d8d8d8" stroke-width="0.9" stroke-dasharray="2,2"/>
<line x1="1583.7" y1="790.8" x2="1583.7" y2="974.5" stroke="#d8d8d8" stroke-width="0.9" stroke-dasharray="2,2"/>
<line x1="1583.7" y1="1051.9" x2="1583.7" y2="1173.9" stroke="#d8d8d8" stroke-width="0.9" stroke-dasharray="2,2"/>
<line x1="1631.0" y1="790.8" x2="1631.0" y2="974.5" stroke="#d8d8d8" stroke-width="0.9" stroke-dasharray="2,2"/>
<line x1="1631.0" y1="1051.9" x2="1631.0" y2="1173.9" stroke="#d8d8d8" stroke-width="0.9" stroke-dasharray="2,2"/>
<line x1="1252.2" y1="1061.5" x2="1658.6" y2="1061.5" stroke="#d8d8d8" stroke-width="0.9" stroke-dasharray="2,2"/>
<line x1="1252.2" y1="1121.5" x2="1658.6" y2="1121.5" stroke="#d8d8d8" stroke-width="0.9" stroke-dasharray="2,2"/>
<line x1="1252.2" y1="1151.5" x2="1658.6" y2="1151.5" stroke="#d8d8d8" stroke-width="0.9" stroke-dasharray="2,2"/>
<line x1="1252.2" y1="912.3" x2="1658.6" y2="912.3" stroke="#a8a8a8" stroke-width="1.2"/>
<line x1="1252.2" y1="975.0" x2="1658.6" y2="975.0" stroke="#b0b0b0" stroke-width="1"/>
<line x1="1252.2" y1="1035.3" x2="1658.6" y2="1035.3" stroke="#b0b0b0" stroke-width="1"/>
<line x1="1252.2" y1="1051.4" x2="1658.6" y2="1051.4" stroke="#b0b0b0" stroke-width="1"/>
<text x="1246.2" y="800.6" font-size="20.6" text-anchor="end">0.4</text>
<text x="1246.2" y="828.9" font-size="20.6" text-anchor="end">0.3</text>
<text x="1246.2" y="857.9" font-size="20.6" text-anchor="end">0.2</text>
<text x="1246.2" y="887.7" font-size="20.6" text-anchor="end">0.1</text>
<text x="1246.2" y="917.5" font-size="20.6" text-anchor="end">0.0</text>
<text x="1246.2" y="947.3" font-size="20.6" text-anchor="end">-0.1</text>
<text x="1246.2" y="974.8" font-size="20.6" text-anchor="end">-0.2</text>
<polyline points="1252.2,912.8 1252.7,902.8 1253.1,893.8 1253.6,885.6 1254.1,877.8 1254.6,873.0 1255.1,867.3 1255.4,857.1 1255.7,849.4 1256.1,843.7 1256.6,836.5 1258.1,835.5 1259.5,832.9 1260.0,828.7 1260.5,823.6 1262.0,820.6 1263.4,815.8 1264.9,812.5 1266.3,810.2 1267.8,806.4 1269.2,803.2 1271.2,805.7 1273.1,805.9 1274.7,804.9 1276.3,804.2 1277.9,803.4 1279.7,801.1 1281.4,801.0 1283.2,799.8 1284.9,798.7 1286.7,798.2 1288.6,799.3 1290.5,801.7 1292.5,802.3 1294.2,802.5 1295.9,801.0 1297.7,800.6 1299.4,801.5 1301.2,800.9 1302.8,801.3 1304.4,800.6 1306.0,802.2 1307.6,802.5 1309.3,803.8 1310.9,804.0 1312.5,805.2 1314.2,806.1 1315.8,806.6 1317.5,807.4 1319.2,807.7 1320.8,809.0 1322.5,809.5 1324.1,810.4 1325.7,811.0 1327.3,812.4 1328.9,814.1 1330.6,813.6 1332.2,814.2 1333.8,815.2 1335.4,816.6 1337.0,817.1 1338.6,818.9 1340.2,818.5 1341.9,819.8 1343.5,821.4 1345.1,822.8 1346.7,822.4 1348.3,823.2 1349.9,825.9 1351.5,825.7 1353.2,827.4 1354.8,829.0 1356.4,829.8 1358.0,829.9 1359.6,830.8 1361.2,833.4 1362.8,833.3 1364.5,835.3 1366.1,835.0 1367.7,836.7 1369.3,836.7 1370.9,837.5 1372.5,839.3 1374.1,839.4 1375.8,841.6 1377.4,843.0 1379.0,843.0 1380.6,845.0 1382.2,845.9 1383.8,846.7 1385.4,847.6 1387.1,849.6 1388.7,851.0 1390.3,850.7 1391.9,853.0 1393.5,853.0 1395.1,854.3 1396.7,856.5 1398.4,857.5 1400.0,858.6 1401.6,859.5 1403.2,860.7 1404.8,861.9 1406.4,863.0 1408.1,863.5 1409.7,865.4 1411.3,866.7 1412.9,867.3 1414.5,869.3 1416.1,870.3 1417.7,870.2 1419.4,872.2 1421.0,873.3 1422.6,875.4 1424.2,875.8 1425.8,876.6 1427.4,878.7 1429.0,878.8 1430.7,879.9 1432.3,882.1 1433.9,882.2 1435.5,883.6 1437.1,884.3 1438.7,886.0 1440.3,886.8 1442.0,888.1 1443.6,890.8 1445.2,892.1 1446.8,892.3 1448.4,893.2 1450.0,895.8 1451.6,896.8 1453.3,897.9 1454.9,899.8 1456.5,901.1 1458.1,902.6 1459.8,904.0 1461.4,905.1 1463.1,907.2 1464.7,908.5 1466.4,909.3 1468.1,912.2 1469.7,912.8 1471.3,913.5 1472.9,915.3 1474.5,916.6 1476.1,916.6 1477.6,918.6 1479.2,919.8 1480.8,920.4 1482.4,921.0 1484.0,923.1 1485.6,923.8 1487.2,924.8 1488.8,925.0 1490.4,926.9 1492.0,927.2 1493.6,929.6 1495.2,930.4 1496.8,931.0 1498.5,931.7 1500.1,933.6 1501.7,935.2 1503.3,936.5 1504.9,936.9 1506.5,938.6 1508.1,938.5 1509.8,939.4 1511.4,941.5 1513.0,942.3 1514.6,942.3 1516.2,943.6 1517.8,944.3 1519.4,946.1 1521.1,947.4 1522.7,948.1 1524.3,948.2 1525.9,950.1 1527.5,950.8 1529.1,951.4 1530.7,952.2 1532.4,953.1 1534.0,952.9 1535.6,955.1 1537.1,956.1 1538.7,955.1 1540.2,956.0 1541.8,956.5 1543.3,958.2 1544.9,958.0 1546.4,958.7 1548.0,960.7 1549.5,960.5 1551.1,961.1 1552.6,961.4 1554.1,961.6 1555.6,962.1 1557.1,962.0 1558.6,962.2 1560.1,962.5 1561.6,961.5 1563.1,962.1 1564.6,961.1 1566.2,962.9 1567.7,961.8 1569.2,962.6 1570.7,962.6 1572.2,963.1 1573.7,963.5 1575.2,964.5 1576.7,966.0 1578.2,965.1 1579.8,965.7 1581.4,965.0 1583.0,963.9 1584.7,962.5 1586.4,961.0 1588.1,958.3 1589.8,957.2 1591.3,957.1 1592.8,956.6 1594.3,954.8 1595.9,954.9 1597.4,953.7 1598.9,953.8 1600.4,953.4 1601.9,952.2 1603.4,951.0 1605.0,951.1 1606.6,948.8 1608.2,947.4 1609.8,946.5 1611.5,945.4 1613.1,945.7 1614.8,943.4 1616.5,941.7 1618.2,942.0 1619.9,940.4 1621.5,935.2 1623.1,929.6 1624.7,924.6 1626.6,921.0 1628.6,916.9 1630.5,914.8 1632.4,915.3 1634.4,915.9 1636.3,917.4 1638.3,918.3" fill="none" stroke="#64c040" stroke-width="2.6" stroke-linejoin="round"/>
<rect x="1252.10" y="976.50" width="5.20" height="58.80" fill="#050505"/>
<rect x="1259.70" y="976.50" width="3.30" height="58.80" fill="#050505"/>
<rect x="1263.50" y="976.50" width="1.55" height="58.80" fill="#6a6a6a"/>
<rect x="1264.90" y="976.50" width="0.75" height="58.80" fill="#080808"/>
<rect x="1266.30" y="976.50" width="3.30" height="58.80" fill="#050505"/>
<rect x="1272.90" y="976.50" width="0.85" height="58.80" fill="#808080"/>
<rect x="1273.60" y="976.50" width="0.85" height="58.80" fill="#999"/>
<rect x="1277.40" y="976.50" width="0.35" height="58.80" fill="#080808"/>
<rect x="1279.00" y="976.50" width="2.00" height="58.80" fill="#050505"/>
<rect x="1282.30" y="976.50" width="1.15" height="58.80" fill="#080808"/>
<rect x="1283.30" y="976.50" width="1.15" height="58.80" fill="#999"/>
<rect x="1284.30" y="976.50" width="0.85" height="58.80" fill="#808080"/>
<rect x="1285.70" y="976.50" width="1.15" height="58.80" fill="#808080"/>
<rect x="1286.70" y="976.50" width="0.45" height="58.80" fill="#555"/>
<rect x="1292.30" y="976.50" width="1.55" height="58.80" fill="#080808"/>
<rect x="1293.70" y="976.50" width="0.85" height="58.80" fill="#080808"/>
<rect x="1294.40" y="976.50" width="0.85" height="58.80" fill="#3a3a3a"/>
<rect x="1295.10" y="976.50" width="1.55" height="58.80" fill="#555"/>
<rect x="1296.50" y="976.50" width="0.85" height="58.80" fill="#080808"/>
<rect x="1297.20" y="976.50" width="0.85" height="58.80" fill="#3a3a3a"/>
<rect x="1297.90" y="976.50" width="0.85" height="58.80" fill="#555"/>
<rect x="1298.60" y="976.50" width="1.15" height="58.80" fill="#080808"/>
<rect x="1299.60" y="976.50" width="0.85" height="58.80" fill="#080808"/>
<rect x="1300.30" y="976.50" width="0.85" height="58.80" fill="#080808"/>
<rect x="1301.00" y="976.50" width="1.55" height="58.80" fill="#080808"/>
<rect x="1302.40" y="976.50" width="0.45" height="58.80" fill="#080808"/>
<rect x="1304.00" y="976.50" width="1.55" height="58.80" fill="#080808"/>
<rect x="1307.40" y="976.50" width="4.30" height="58.80" fill="#050505"/>
<rect x="1314.50" y="976.50" width="1.50" height="58.80" fill="#050505"/>
<rect x="1319.20" y="976.50" width="1.15" height="58.80" fill="#080808"/>
<rect x="1320.20" y="976.50" width="0.55" height="58.80" fill="#080808"/>
<rect x="1322.00" y="976.50" width="2.00" height="58.80" fill="#050505"/>
<rect x="1326.30" y="976.50" width="1.15" height="58.80" fill="#999"/>
<rect x="1327.30" y="976.50" width="0.85" height="58.80" fill="#080808"/>
<rect x="1329.40" y="976.50" width="1.15" height="58.80" fill="#080808"/>
<rect x="1330.40" y="976.50" width="0.35" height="58.80" fill="#999"/>
<rect x="1334.40" y="976.50" width="1.15" height="58.80" fill="#808080"/>
<rect x="1336.40" y="976.50" width="0.85" height="58.80" fill="#999"/>
<rect x="1337.10" y="976.50" width="1.15" height="58.80" fill="#080808"/>
<rect x="1338.10" y="976.50" width="0.85" height="58.80" fill="#808080"/>
<rect x="1338.80" y="976.50" width="1.15" height="58.80" fill="#3a3a3a"/>
<rect x="1339.80" y="976.50" width="1.15" height="58.80" fill="#3a3a3a"/>
<rect x="1340.80" y="976.50" width="0.85" height="58.80" fill="#080808"/>
<rect x="1341.50" y="976.50" width="1.05" height="58.80" fill="#555"/>
<rect x="1344.30" y="976.50" width="0.85" height="58.80" fill="#555"/>
<rect x="1345.70" y="976.50" width="1.55" height="58.80" fill="#999"/>
<rect x="1347.10" y="976.50" width="1.15" height="58.80" fill="#080808"/>
<rect x="1348.10" y="976.50" width="0.55" height="58.80" fill="#080808"/>
<rect x="1353.30" y="976.50" width="1.15" height="58.80" fill="#080808"/>
<rect x="1354.30" y="976.50" width="1.15" height="58.80" fill="#080808"/>
<rect x="1356.30" y="976.50" width="1.15" height="58.80" fill="#080808"/>
<rect x="1357.30" y="976.50" width="0.35" height="58.80" fill="#808080"/>
<rect x="1361.80" y="976.50" width="1.90" height="58.80" fill="#050505"/>
<rect x="1366.00" y="976.50" width="1.15" height="58.80" fill="#6a6a6a"/>
<rect x="1367.00" y="976.50" width="1.15" height="58.80" fill="#080808"/>
<rect x="1368.00" y="976.50" width="1.15" height="58.80" fill="#080808"/>
<rect x="1369.00" y="976.50" width="0.85" height="58.80" fill="#6a6a6a"/>
<rect x="1369.70" y="976.50" width="0.85" height="58.80" fill="#080808"/>
<rect x="1370.40" y="976.50" width="0.55" height="58.80" fill="#080808"/>
<rect x="1373.60" y="976.50" width="1.55" height="58.80" fill="#555"/>
<rect x="1375.00" y="976.50" width="1.15" height="58.80" fill="#999"/>
<rect x="1379.30" y="976.50" width="1.80" height="58.80" fill="#050505"/>
<rect x="1382.10" y="976.50" width="3.80" height="58.80" fill="#050505"/>
<rect x="1387.80" y="976.50" width="4.20" height="58.80" fill="#050505"/>
<rect x="1394.00" y="976.50" width="2.80" height="58.80" fill="#050505"/>
<rect x="1403.90" y="976.50" width="1.55" height="58.80" fill="#080808"/>
<rect x="1405.30" y="976.50" width="0.85" height="58.80" fill="#080808"/>
<rect x="1406.00" y="976.50" width="1.15" height="58.80" fill="#080808"/>
<rect x="1407.00" y="976.50" width="0.75" height="58.80" fill="#080808"/>
<rect x="1411.00" y="976.50" width="1.15" height="58.80" fill="#080808"/>
<rect x="1412.00" y="976.50" width="1.55" height="58.80" fill="#999"/>
<rect x="1413.40" y="976.50" width="1.45" height="58.80" fill="#080808"/>
<rect x="1419.00" y="976.50" width="6.60" height="58.80" fill="#050505"/>
<rect x="1427.00" y="976.50" width="2.00" height="58.80" fill="#050505"/>
<rect x="1432.70" y="976.50" width="1.55" height="58.80" fill="#6a6a6a"/>
<rect x="1434.80" y="976.50" width="0.85" height="58.80" fill="#999"/>
<rect x="1435.50" y="976.50" width="1.55" height="58.80" fill="#999"/>
<rect x="1437.60" y="976.50" width="1.15" height="58.80" fill="#080808"/>
<rect x="1438.60" y="976.50" width="0.35" height="58.80" fill="#3a3a3a"/>
<rect x="1441.70" y="976.50" width="0.85" height="58.80" fill="#808080"/>
<rect x="1442.40" y="976.50" width="0.85" height="58.80" fill="#3a3a3a"/>
<rect x="1447.40" y="976.50" width="5.60" height="58.80" fill="#050505"/>
<rect x="1454.50" y="976.50" width="2.30" height="58.80" fill="#050505"/>
<rect x="1457.30" y="976.50" width="0.85" height="58.80" fill="#808080"/>
<rect x="1458.00" y="976.50" width="1.15" height="58.80" fill="#999"/>
<rect x="1460.40" y="976.50" width="0.85" height="58.80" fill="#3a3a3a"/>
<rect x="1461.10" y="976.50" width="0.85" height="58.80" fill="#808080"/>
<rect x="1461.80" y="976.50" width="0.85" height="58.80" fill="#080808"/>
<rect x="1462.50" y="976.50" width="0.85" height="58.80" fill="#555"/>
<rect x="1463.20" y="976.50" width="0.85" height="58.80" fill="#080808"/>
<rect x="1463.90" y="976.50" width="1.15" height="58.80" fill="#999"/>
<rect x="1464.90" y="976.50" width="1.55" height="58.80" fill="#080808"/>
<rect x="1466.30" y="976.50" width="0.85" height="58.80" fill="#6a6a6a"/>
<rect x="1467.00" y="976.50" width="0.85" height="58.80" fill="#808080"/>
<rect x="1470.50" y="976.50" width="1.15" height="58.80" fill="#080808"/>
<rect x="1471.50" y="976.50" width="1.15" height="58.80" fill="#080808"/>
<rect x="1472.50" y="976.50" width="1.15" height="58.80" fill="#080808"/>
<rect x="1473.50" y="976.50" width="0.85" height="58.80" fill="#080808"/>
<rect x="1474.20" y="976.50" width="0.85" height="58.80" fill="#080808"/>
<rect x="1474.90" y="976.50" width="0.85" height="58.80" fill="#080808"/>
<rect x="1475.60" y="976.50" width="1.15" height="58.80" fill="#080808"/>
<rect x="1476.60" y="976.50" width="0.85" height="58.80" fill="#080808"/>
<rect x="1477.30" y="976.50" width="1.15" height="58.80" fill="#555"/>
<rect x="1478.30" y="976.50" width="0.85" height="58.80" fill="#080808"/>
<rect x="1479.00" y="976.50" width="0.85" height="58.80" fill="#999"/>
<rect x="1479.70" y="976.50" width="1.55" height="58.80" fill="#080808"/>
<rect x="1481.10" y="976.50" width="0.95" height="58.80" fill="#080808"/>
<rect x="1482.80" y="976.50" width="1.15" height="58.80" fill="#555"/>
<rect x="1483.80" y="976.50" width="0.85" height="58.80" fill="#555"/>
<rect x="1484.50" y="976.50" width="1.15" height="58.80" fill="#080808"/>
<rect x="1488.90" y="976.50" width="0.85" height="58.80" fill="#080808"/>
<rect x="1489.60" y="976.50" width="1.55" height="58.80" fill="#999"/>
<rect x="1491.00" y="976.50" width="1.15" height="58.80" fill="#6a6a6a"/>
<rect x="1492.00" y="976.50" width="1.55" height="58.80" fill="#3a3a3a"/>
<rect x="1493.40" y="976.50" width="1.15" height="58.80" fill="#808080"/>
<rect x="1494.40" y="976.50" width="1.55" height="58.80" fill="#555"/>
<rect x="1495.80" y="976.50" width="1.15" height="58.80" fill="#6a6a6a"/>
<rect x="1496.80" y="976.50" width="0.35" height="58.80" fill="#080808"/>
<rect x="1499.80" y="976.50" width="1.90" height="58.80" fill="#050505"/>
<rect x="1503.20" y="976.50" width="0.85" height="58.80" fill="#080808"/>
<rect x="1503.90" y="976.50" width="1.15" height="58.80" fill="#555"/>
<rect x="1504.90" y="976.50" width="0.85" height="58.80" fill="#080808"/>
<rect x="1507.00" y="976.50" width="1.55" height="58.80" fill="#080808"/>
<rect x="1508.40" y="976.50" width="1.05" height="58.80" fill="#080808"/>
<rect x="1510.20" y="976.50" width="1.55" height="58.80" fill="#080808"/>
<rect x="1511.60" y="976.50" width="1.15" height="58.80" fill="#999"/>
<rect x="1512.60" y="976.50" width="0.85" height="58.80" fill="#080808"/>
<rect x="1513.30" y="976.50" width="0.85" height="58.80" fill="#080808"/>
<rect x="1514.00" y="976.50" width="1.15" height="58.80" fill="#080808"/>
<rect x="1515.00" y="976.50" width="0.85" height="58.80" fill="#6a6a6a"/>
<rect x="1515.70" y="976.50" width="0.85" height="58.80" fill="#080808"/>
<rect x="1516.40" y="976.50" width="1.15" height="58.80" fill="#080808"/>
<rect x="1517.40" y="976.50" width="0.85" height="58.80" fill="#080808"/>
<rect x="1518.10" y="976.50" width="1.55" height="58.80" fill="#080808"/>
<rect x="1519.50" y="976.50" width="1.55" height="58.80" fill="#080808"/>
<rect x="1520.90" y="976.50" width="1.15" height="58.80" fill="#080808"/>
<rect x="1521.90" y="976.50" width="1.15" height="58.80" fill="#080808"/>
<rect x="1522.90" y="976.50" width="0.75" height="58.80" fill="#080808"/>
<rect x="1524.90" y="976.50" width="2.40" height="58.80" fill="#050505"/>
<rect x="1530.10" y="976.50" width="1.55" height="58.80" fill="#080808"/>
<rect x="1531.50" y="976.50" width="1.15" height="58.80" fill="#080808"/>
<rect x="1532.50" y="976.50" width="0.85" height="58.80" fill="#080808"/>
<rect x="1533.20" y="976.50" width="0.85" height="58.80" fill="#080808"/>
<rect x="1533.90" y="976.50" width="1.55" height="58.80" fill="#3a3a3a"/>
<rect x="1535.30" y="976.50" width="1.15" height="58.80" fill="#080808"/>
<rect x="1536.30" y="976.50" width="1.55" height="58.80" fill="#080808"/>
<rect x="1537.70" y="976.50" width="1.15" height="58.80" fill="#080808"/>
<rect x="1538.70" y="976.50" width="1.15" height="58.80" fill="#6a6a6a"/>
<rect x="1539.70" y="976.50" width="0.85" height="58.80" fill="#080808"/>
<rect x="1540.40" y="976.50" width="0.25" height="58.80" fill="#080808"/>
<rect x="1541.40" y="976.50" width="8.60" height="58.80" fill="#050505"/>
<rect x="1551.40" y="976.50" width="1.15" height="58.80" fill="#080808"/>
<rect x="1552.40" y="976.50" width="0.85" height="58.80" fill="#080808"/>
<rect x="1553.10" y="976.50" width="1.15" height="58.80" fill="#080808"/>
<rect x="1554.10" y="976.50" width="1.15" height="58.80" fill="#555"/>
<rect x="1555.10" y="976.50" width="1.15" height="58.80" fill="#080808"/>
<rect x="1556.10" y="976.50" width="1.55" height="58.80" fill="#080808"/>
<rect x="1557.50" y="976.50" width="0.85" height="58.80" fill="#6a6a6a"/>
<rect x="1558.20" y="976.50" width="1.55" height="58.80" fill="#080808"/>
<rect x="1559.60" y="976.50" width="1.15" height="58.80" fill="#080808"/>
<rect x="1560.60" y="976.50" width="1.55" height="58.80" fill="#080808"/>
<rect x="1562.00" y="976.50" width="1.55" height="58.80" fill="#080808"/>
<rect x="1563.40" y="976.50" width="1.15" height="58.80" fill="#080808"/>
<rect x="1564.40" y="976.50" width="1.15" height="58.80" fill="#3a3a3a"/>
<rect x="1565.40" y="976.50" width="1.15" height="58.80" fill="#080808"/>
<rect x="1566.40" y="976.50" width="1.15" height="58.80" fill="#080808"/>
<rect x="1567.40" y="976.50" width="1.15" height="58.80" fill="#080808"/>
<rect x="1568.40" y="976.50" width="0.85" height="58.80" fill="#999"/>
<rect x="1569.10" y="976.50" width="1.15" height="58.80" fill="#080808"/>
<rect x="1570.10" y="976.50" width="1.15" height="58.80" fill="#080808"/>
<rect x="1571.10" y="976.50" width="1.15" height="58.80" fill="#080808"/>
<rect x="1572.10" y="976.50" width="1.15" height="58.80" fill="#080808"/>
<rect x="1573.10" y="976.50" width="1.15" height="58.80" fill="#080808"/>
<rect x="1574.10" y="976.50" width="1.55" height="58.80" fill="#080808"/>
<rect x="1575.50" y="976.50" width="1.55" height="58.80" fill="#080808"/>
<rect x="1576.90" y="976.50" width="1.15" height="58.80" fill="#080808"/>
<rect x="1577.90" y="976.50" width="0.85" height="58.80" fill="#080808"/>
<rect x="1578.60" y="976.50" width="1.15" height="58.80" fill="#080808"/>
<rect x="1579.60" y="976.50" width="1.15" height="58.80" fill="#080808"/>
<rect x="1580.60" y="976.50" width="1.55" height="58.80" fill="#080808"/>
<rect x="1582.00" y="976.50" width="1.15" height="58.80" fill="#080808"/>
<rect x="1583.00" y="976.50" width="0.85" height="58.80" fill="#808080"/>
<rect x="1583.70" y="976.50" width="1.15" height="58.80" fill="#080808"/>
<rect x="1584.70" y="976.50" width="1.55" height="58.80" fill="#080808"/>
<rect x="1586.10" y="976.50" width="0.85" height="58.80" fill="#080808"/>
<rect x="1586.80" y="976.50" width="1.55" height="58.80" fill="#080808"/>
<rect x="1588.20" y="976.50" width="1.15" height="58.80" fill="#080808"/>
<rect x="1589.20" y="976.50" width="1.15" height="58.80" fill="#080808"/>
<rect x="1590.20" y="976.50" width="1.15" height="58.80" fill="#080808"/>
<rect x="1591.20" y="976.50" width="1.55" height="58.80" fill="#080808"/>
<rect x="1592.60" y="976.50" width="0.85" height="58.80" fill="#080808"/>
<rect x="1593.30" y="976.50" width="0.85" height="58.80" fill="#080808"/>
<rect x="1594.00" y="976.50" width="0.85" height="58.80" fill="#080808"/>
<rect x="1594.70" y="976.50" width="1.15" height="58.80" fill="#080808"/>
<rect x="1595.70" y="976.50" width="1.15" height="58.80" fill="#080808"/>
<rect x="1596.70" y="976.50" width="1.55" height="58.80" fill="#6a6a6a"/>
<rect x="1598.10" y="976.50" width="1.15" height="58.80" fill="#080808"/>
<rect x="1599.10" y="976.50" width="1.15" height="58.80" fill="#080808"/>
<rect x="1600.10" y="976.50" width="0.85" height="58.80" fill="#080808"/>
<rect x="1600.80" y="976.50" width="1.15" height="58.80" fill="#080808"/>
<rect x="1601.80" y="976.50" width="1.15" height="58.80" fill="#080808"/>
<rect x="1602.80" y="976.50" width="1.55" height="58.80" fill="#080808"/>
<rect x="1604.20" y="976.50" width="0.85" height="58.80" fill="#080808"/>
<rect x="1604.90" y="976.50" width="1.55" height="58.80" fill="#080808"/>
<rect x="1606.30" y="976.50" width="1.15" height="58.80" fill="#080808"/>
<rect x="1607.30" y="976.50" width="1.15" height="58.80" fill="#080808"/>
<rect x="1608.30" y="976.50" width="1.55" height="58.80" fill="#080808"/>
<rect x="1609.70" y="976.50" width="1.15" height="58.80" fill="#080808"/>
<rect x="1610.70" y="976.50" width="1.15" height="58.80" fill="#080808"/>
<rect x="1611.70" y="976.50" width="1.55" height="58.80" fill="#080808"/>
<rect x="1613.10" y="976.50" width="1.15" height="58.80" fill="#080808"/>
<rect x="1614.10" y="976.50" width="1.15" height="58.80" fill="#080808"/>
<rect x="1615.10" y="976.50" width="1.55" height="58.80" fill="#080808"/>
<rect x="1616.50" y="976.50" width="0.85" height="58.80" fill="#080808"/>
<rect x="1617.20" y="976.50" width="1.15" height="58.80" fill="#080808"/>
<rect x="1618.20" y="976.50" width="1.15" height="58.80" fill="#080808"/>
<rect x="1619.20" y="976.50" width="1.15" height="58.80" fill="#080808"/>
<rect x="1620.20" y="976.50" width="0.85" height="58.80" fill="#808080"/>
<rect x="1620.90" y="976.50" width="1.15" height="58.80" fill="#080808"/>
<rect x="1621.90" y="976.50" width="0.85" height="58.80" fill="#080808"/>
<rect x="1622.60" y="976.50" width="1.15" height="58.80" fill="#080808"/>
<rect x="1623.60" y="976.50" width="0.85" height="58.80" fill="#080808"/>
<rect x="1624.30" y="976.50" width="0.85" height="58.80" fill="#080808"/>
<rect x="1625.00" y="976.50" width="1.15" height="58.80" fill="#808080"/>
<rect x="1626.00" y="976.50" width="1.15" height="58.80" fill="#080808"/>
<rect x="1627.00" y="976.50" width="1.15" height="58.80" fill="#080808"/>
<rect x="1628.00" y="976.50" width="0.85" height="58.80" fill="#080808"/>
<rect x="1628.70" y="976.50" width="0.85" height="58.80" fill="#080808"/>
<rect x="1629.40" y="976.50" width="0.85" height="58.80" fill="#080808"/>
<rect x="1630.10" y="976.50" width="1.15" height="58.80" fill="#080808"/>
<rect x="1631.10" y="976.50" width="0.35" height="58.80" fill="#3a3a3a"/>
<rect x="1631.80" y="976.50" width="1.15" height="58.80" fill="#080808"/>
<rect x="1637.40" y="976.50" width="1.15" height="58.80" fill="#6a6a6a"/>
<defs><linearGradient id="gb2" x1="0" x2="1" y1="0" y2="0"><stop offset="0" stop-color="#c0141c"/><stop offset="0.06" stop-color="#e23038"/><stop offset="0.14" stop-color="#e6484e"/><stop offset="0.2" stop-color="#dc5c6c"/><stop offset="0.288" stop-color="#e6787e"/><stop offset="0.29" stop-color="#e8b0dc"/><stop offset="0.52" stop-color="#e6b4de"/><stop offset="0.525" stop-color="#cfd0f0"/><stop offset="0.68" stop-color="#b8b8e6"/><stop offset="0.765" stop-color="#a8a8dc"/><stop offset="0.77" stop-color="#7070c8"/><stop offset="1" stop-color="#3c3cac"/></linearGradient></defs>
<rect x="1252.20" y="1035.30" width="386.40" height="15.60" fill="url(#gb2)"/>
<line x1="1447.6" y1="1035.3" x2="1447.6" y2="1050.9" stroke="#000" stroke-width="1.2" stroke-opacity="0.06"/>
<line x1="1457.6" y1="1035.3" x2="1457.6" y2="1050.9" stroke="#fff" stroke-width="1.2" stroke-opacity="0.06"/>
<line x1="1543.5" y1="1035.3" x2="1543.5" y2="1050.9" stroke="#fff" stroke-width="1.2" stroke-opacity="0.15"/>
<line x1="1315.0" y1="1035.3" x2="1315.0" y2="1050.9" stroke="#000" stroke-width="0.8" stroke-opacity="0.14"/>
<line x1="1459.2" y1="1035.3" x2="1459.2" y2="1050.9" stroke="#fff" stroke-width="0.8" stroke-opacity="0.14"/>
<line x1="1421.4" y1="1035.3" x2="1421.4" y2="1050.9" stroke="#000" stroke-width="0.8" stroke-opacity="0.15"/>
<line x1="1317.9" y1="1035.3" x2="1317.9" y2="1050.9" stroke="#000" stroke-width="0.8" stroke-opacity="0.12"/>
<line x1="1423.0" y1="1035.3" x2="1423.0" y2="1050.9" stroke="#000" stroke-width="1.2" stroke-opacity="0.15"/>
<line x1="1314.8" y1="1035.3" x2="1314.8" y2="1050.9" stroke="#000" stroke-width="1.2" stroke-opacity="0.09"/>
<line x1="1283.9" y1="1035.3" x2="1283.9" y2="1050.9" stroke="#000" stroke-width="1.2" stroke-opacity="0.17"/>
<line x1="1623.4" y1="1035.3" x2="1623.4" y2="1050.9" stroke="#000" stroke-width="1.2" stroke-opacity="0.15"/>
<line x1="1487.4" y1="1035.3" x2="1487.4" y2="1050.9" stroke="#fff" stroke-width="1.2" stroke-opacity="0.09"/>
<line x1="1342.1" y1="1035.3" x2="1342.1" y2="1050.9" stroke="#000" stroke-width="1.2" stroke-opacity="0.11"/>
<line x1="1268.4" y1="1035.3" x2="1268.4" y2="1050.9" stroke="#fff" stroke-width="0.8" stroke-opacity="0.16"/>
<line x1="1593.3" y1="1035.3" x2="1593.3" y2="1050.9" stroke="#fff" stroke-width="0.8" stroke-opacity="0.06"/>
<line x1="1508.6" y1="1035.3" x2="1508.6" y2="1050.9" stroke="#fff" stroke-width="1.2" stroke-opacity="0.11"/>
<line x1="1364.5" y1="1035.3" x2="1364.5" y2="1050.9" stroke="#000" stroke-width="0.8" stroke-opacity="0.15"/>
<line x1="1313.6" y1="1035.3" x2="1313.6" y2="1050.9" stroke="#000" stroke-width="0.8" stroke-opacity="0.17"/>
<line x1="1289.4" y1="1035.3" x2="1289.4" y2="1050.9" stroke="#000" stroke-width="0.8" stroke-opacity="0.13"/>
<line x1="1352.7" y1="1035.3" x2="1352.7" y2="1050.9" stroke="#fff" stroke-width="0.8" stroke-opacity="0.11"/>
<line x1="1459.8" y1="1035.3" x2="1459.8" y2="1050.9" stroke="#000" stroke-width="1.2" stroke-opacity="0.11"/>
<line x1="1408.1" y1="1035.3" x2="1408.1" y2="1050.9" stroke="#000" stroke-width="0.8" stroke-opacity="0.08"/>
<line x1="1310.7" y1="1035.3" x2="1310.7" y2="1050.9" stroke="#fff" stroke-width="0.8" stroke-opacity="0.13"/>
<line x1="1399.7" y1="1035.3" x2="1399.7" y2="1050.9" stroke="#000" stroke-width="1.2" stroke-opacity="0.07"/>
<line x1="1293.0" y1="1035.3" x2="1293.0" y2="1050.9" stroke="#000" stroke-width="1.2" stroke-opacity="0.12"/>
<line x1="1566.9" y1="1035.3" x2="1566.9" y2="1050.9" stroke="#fff" stroke-width="0.8" stroke-opacity="0.09"/>
<line x1="1564.7" y1="1035.3" x2="1564.7" y2="1050.9" stroke="#fff" stroke-width="1.2" stroke-opacity="0.06"/>
<line x1="1252.4" y1="1035.3" x2="1252.4" y2="1050.9" stroke="#000" stroke-width="1.2" stroke-opacity="0.13"/>
<line x1="1514.2" y1="1035.3" x2="1514.2" y2="1050.9" stroke="#000" stroke-width="0.8" stroke-opacity="0.08"/>
<line x1="1477.3" y1="1035.3" x2="1477.3" y2="1050.9" stroke="#000" stroke-width="0.8" stroke-opacity="0.06"/>
<line x1="1559.4" y1="1035.3" x2="1559.4" y2="1050.9" stroke="#fff" stroke-width="1.2" stroke-opacity="0.10"/>
<line x1="1577.3" y1="1035.3" x2="1577.3" y2="1050.9" stroke="#fff" stroke-width="0.8" stroke-opacity="0.12"/>
<line x1="1563.3" y1="1035.3" x2="1563.3" y2="1050.9" stroke="#fff" stroke-width="0.8" stroke-opacity="0.13"/>
<line x1="1494.4" y1="1035.3" x2="1494.4" y2="1050.9" stroke="#fff" stroke-width="1.2" stroke-opacity="0.10"/>
<line x1="1529.8" y1="1035.3" x2="1529.8" y2="1050.9" stroke="#000" stroke-width="1.2" stroke-opacity="0.06"/>
<line x1="1309.7" y1="1035.3" x2="1309.7" y2="1050.9" stroke="#fff" stroke-width="0.8" stroke-opacity="0.07"/>
<line x1="1457.3" y1="1035.3" x2="1457.3" y2="1050.9" stroke="#000" stroke-width="0.8" stroke-opacity="0.17"/>
<line x1="1290.0" y1="1035.3" x2="1290.0" y2="1050.9" stroke="#fff" stroke-width="1.2" stroke-opacity="0.05"/>
<line x1="1554.8" y1="1035.3" x2="1554.8" y2="1050.9" stroke="#000" stroke-width="0.8" stroke-opacity="0.17"/>
<line x1="1359.1" y1="1035.3" x2="1359.1" y2="1050.9" stroke="#000" stroke-width="0.8" stroke-opacity="0.14"/>
<line x1="1539.2" y1="1035.3" x2="1539.2" y2="1050.9" stroke="#fff" stroke-width="0.8" stroke-opacity="0.05"/>
<line x1="1406.7" y1="1035.3" x2="1406.7" y2="1050.9" stroke="#000" stroke-width="0.8" stroke-opacity="0.05"/>
<line x1="1584.6" y1="1035.3" x2="1584.6" y2="1050.9" stroke="#fff" stroke-width="0.8" stroke-opacity="0.09"/>
<line x1="1583.5" y1="1035.3" x2="1583.5" y2="1050.9" stroke="#fff" stroke-width="1.2" stroke-opacity="0.11"/>
<line x1="1631.1" y1="1035.3" x2="1631.1" y2="1050.9" stroke="#fff" stroke-width="0.8" stroke-opacity="0.06"/>
<line x1="1283.6" y1="1035.3" x2="1283.6" y2="1050.9" stroke="#fff" stroke-width="1.2" stroke-opacity="0.11"/>
<line x1="1508.8" y1="1035.3" x2="1508.8" y2="1050.9" stroke="#000" stroke-width="1.2" stroke-opacity="0.06"/>
<line x1="1601.9" y1="1035.3" x2="1601.9" y2="1050.9" stroke="#000" stroke-width="1.2" stroke-opacity="0.07"/>
<line x1="1268.0" y1="1035.3" x2="1268.0" y2="1050.9" stroke="#fff" stroke-width="0.8" stroke-opacity="0.15"/>
<line x1="1521.6" y1="1035.3" x2="1521.6" y2="1050.9" stroke="#fff" stroke-width="1.2" stroke-opacity="0.07"/>
<line x1="1476.0" y1="1035.3" x2="1476.0" y2="1050.9" stroke="#fff" stroke-width="1.2" stroke-opacity="0.14"/>
<line x1="1387.0" y1="1035.3" x2="1387.0" y2="1050.9" stroke="#fff" stroke-width="0.8" stroke-opacity="0.08"/>
<line x1="1307.2" y1="1035.3" x2="1307.2" y2="1050.9" stroke="#000" stroke-width="1.2" stroke-opacity="0.09"/>
<line x1="1533.8" y1="1035.3" x2="1533.8" y2="1050.9" stroke="#000" stroke-width="1.2" stroke-opacity="0.08"/>
<line x1="1433.9" y1="1035.3" x2="1433.9" y2="1050.9" stroke="#000" stroke-width="1.2" stroke-opacity="0.06"/>
<line x1="1474.0" y1="1035.3" x2="1474.0" y2="1050.9" stroke="#000" stroke-width="0.8" stroke-opacity="0.07"/>
<line x1="1295.9" y1="1035.3" x2="1295.9" y2="1050.9" stroke="#fff" stroke-width="1.2" stroke-opacity="0.09"/>
<line x1="1492.9" y1="1035.3" x2="1492.9" y2="1050.9" stroke="#fff" stroke-width="0.8" stroke-opacity="0.06"/>
<line x1="1394.1" y1="1035.3" x2="1394.1" y2="1050.9" stroke="#000" stroke-width="1.2" stroke-opacity="0.07"/>
<line x1="1358.8" y1="1035.3" x2="1358.8" y2="1050.9" stroke="#fff" stroke-width="1.2" stroke-opacity="0.17"/>
<line x1="1626.6" y1="1035.3" x2="1626.6" y2="1050.9" stroke="#000" stroke-width="0.8" stroke-opacity="0.13"/>
<line x1="1572.8" y1="1035.3" x2="1572.8" y2="1050.9" stroke="#000" stroke-width="1.2" stroke-opacity="0.07"/>
<line x1="1279.2" y1="1035.3" x2="1279.2" y2="1050.9" stroke="#fff" stroke-width="0.8" stroke-opacity="0.09"/>
<line x1="1597.1" y1="1035.3" x2="1597.1" y2="1050.9" stroke="#000" stroke-width="0.8" stroke-opacity="0.18"/>
<line x1="1412.4" y1="1035.3" x2="1412.4" y2="1050.9" stroke="#fff" stroke-width="1.2" stroke-opacity="0.15"/>
<line x1="1322.7" y1="1035.3" x2="1322.7" y2="1050.9" stroke="#000" stroke-width="1.2" stroke-opacity="0.06"/>
<line x1="1270.8" y1="1035.3" x2="1270.8" y2="1050.9" stroke="#000" stroke-width="1.2" stroke-opacity="0.08"/>
<line x1="1355.9" y1="1035.3" x2="1355.9" y2="1050.9" stroke="#fff" stroke-width="1.2" stroke-opacity="0.08"/>
<line x1="1292.7" y1="1035.3" x2="1292.7" y2="1050.9" stroke="#000" stroke-width="0.8" stroke-opacity="0.06"/>
<line x1="1485.5" y1="1035.3" x2="1485.5" y2="1050.9" stroke="#000" stroke-width="1.2" stroke-opacity="0.08"/>
<text x="1257.7" y="1063.2" font-size="13.7" fill="#d2303f">Enriched in RPM</text>
<text x="1638.8" y="1063.2" font-size="13.7" text-anchor="end" fill="#4848b0">Depleted in RPM</text>
<path d="M1252.2,1091.5 L1252.2,1067.5 L1258.0,1073.5 L1265.0,1078.6 L1272.0,1084.6 L1285.0,1087.0 L1296.7,1088.5 L1340.0,1089.4 L1390.0,1090.3 L1455.0,1091.2 L1500.0,1092.4 L1541.0,1093.3 L1580.0,1094.5 L1614.5,1096.0 L1629.0,1097.2 L1633.0,1100.5 L1636.5,1106.5 L1638.0,1127.5 L1638.6,1169.5 L1638.6,1091.5Z" fill="#b9b9b9" stroke="#b0b0b0" stroke-width="0.8"/>
<line x1="1455.1" y1="1068.5" x2="1455.1" y2="1153.9" stroke="#888" stroke-width="1" stroke-dasharray="3,3"/>
<text x="1455.1" y="1116.5" font-size="9.2" text-anchor="middle" fill="#444">Zero cross at 8567</text>
<text x="1246.2" y="1066.6" font-size="20.6" text-anchor="end">10</text>
<text x="1246.2" y="1097.5" font-size="20.6" text-anchor="end">0</text>
<text x="1246.2" y="1128.0" font-size="20.6" text-anchor="end">-10</text>
<text x="1246.2" y="1156.0" font-size="20.6" text-anchor="end">-20</text>
<line x1="1252.2" y1="1173.9" x2="1252.2" y2="1176.9" stroke="#999" stroke-width="1"/>
<line x1="1299.5" y1="1173.9" x2="1299.5" y2="1176.9" stroke="#999" stroke-width="1"/>
<line x1="1346.9" y1="1173.9" x2="1346.9" y2="1176.9" stroke="#999" stroke-width="1"/>
<line x1="1394.2" y1="1173.9" x2="1394.2" y2="1176.9" stroke="#999" stroke-width="1"/>
<line x1="1441.6" y1="1173.9" x2="1441.6" y2="1176.9" stroke="#999" stroke-width="1"/>
<line x1="1489.0" y1="1173.9" x2="1489.0" y2="1176.9" stroke="#999" stroke-width="1"/>
<line x1="1536.3" y1="1173.9" x2="1536.3" y2="1176.9" stroke="#999" stroke-width="1"/>
<line x1="1583.7" y1="1173.9" x2="1583.7" y2="1176.9" stroke="#999" stroke-width="1"/>
<line x1="1631.0" y1="1173.9" x2="1631.0" y2="1176.9" stroke="#999" stroke-width="1"/>
<text x="1252.2" y="1196.0" font-size="20.4" text-anchor="middle">0</text>
<text x="1346.8" y="1196.0" font-size="20.4" text-anchor="middle">4000</text>
<text x="1441.0" y="1196.0" font-size="20.4" text-anchor="middle">8000</text>
<text x="1531.4" y="1196.0" font-size="20.4" text-anchor="middle">12000</text>
<text x="1628.0" y="1196.0" font-size="20.4" text-anchor="middle">16000</text>
<text transform="translate(1204.5,988.5) rotate(-90)" font-size="20.7">Enrichment score (ES)</text>
<text transform="translate(1178.8,1196.5) rotate(-90)" font-size="21">Ranked list metric</text>
<text transform="translate(1204.3,1173.5) rotate(-90)" font-size="21">(PreRanked)</text>
<rect x="1269.80" y="1209.90" width="345.90" height="22.00" fill="#fff" stroke="#000" stroke-width="1.6"/>
<line x1="1277.0" y1="1220.4" x2="1287.1" y2="1220.4" stroke="#64c040" stroke-width="3.2"/>
<text x="1290.3" y="1224.2" font-size="14.1">Enrichment profile</text>
<line x1="1412.5" y1="1220.4" x2="1422.1" y2="1220.4" stroke="#000" stroke-width="3.2"/>
<text x="1425.8" y="1224.2" font-size="14.1">Hits</text>
<line x1="1458.1" y1="1220.4" x2="1467.7" y2="1220.4" stroke="#999" stroke-width="3.2"/>
<text x="1470.7" y="1224.2" font-size="14.1">Ranking metric scores</text>
<text x="707.0" y="747.3" font-size="27.8">GEMM <tspan font-style="italic">Ar+; Ascl1</tspan>+ NEPC sig</text>
<text x="1249.8" y="751" font-size="27.8">Human <tspan font-style="italic">NEUROD1</tspan> NEPC sig</text>
<text x="783.4" y="784.1" font-size="28">NES = 1.61, FDR = 0</text>
<text x="1281.0" y="785.2" font-size="28">NES = 0.99, FDR = 0.52</text>
<text x="1668.3" y="742.0" font-size="60">d.</text>
<text x="1943.3" y="777.7" font-size="35.8"><tspan font-style="italic">Ascl1</tspan> qPCR</text>
<path d="M1872.8 796.4V1093.8H2168" fill="none" stroke="#000" stroke-width="2.6"/>
<line x1="1872.8" y1="1034.3" x2="2168.0" y2="1034.3" stroke="#000" stroke-width="2.6"/>
<line x1="1864.0" y1="796.4" x2="1872.8" y2="796.4" stroke="#000" stroke-width="2.6"/>
<text x="1858.5" y="805.0" font-size="36.2" text-anchor="end">10000</text>
<line x1="1864.0" y1="856.8" x2="1872.8" y2="856.8" stroke="#000" stroke-width="2.6"/>
<text x="1858.5" y="865.4" font-size="36.2" text-anchor="end">1000</text>
<line x1="1864.0" y1="916.3" x2="1872.8" y2="916.3" stroke="#000" stroke-width="2.6"/>
<text x="1858.5" y="924.9" font-size="36.2" text-anchor="end">100</text>
<line x1="1864.0" y1="975.1" x2="1872.8" y2="975.1" stroke="#000" stroke-width="2.6"/>
<text x="1858.5" y="983.7" font-size="36.2" text-anchor="end">10</text>
<line x1="1864.0" y1="1034.3" x2="1872.8" y2="1034.3" stroke="#000" stroke-width="2.6"/>
<text x="1858.5" y="1042.9" font-size="36.2" text-anchor="end">1</text>
<line x1="1864.0" y1="1093.8" x2="1872.8" y2="1093.8" stroke="#000" stroke-width="2.6"/>
<text x="1858.5" y="1102.4" font-size="36.2" text-anchor="end">0.1</text>
<rect x="1919.80" y="1034.30" width="23.50" height="18.20" fill="#d1d3d5" stroke="#000" stroke-width="1.6"/>
<rect x="1955.80" y="838.00" width="23.40" height="196.30" fill="#d1d3d5" stroke="#000" stroke-width="1.6"/>
<rect x="1990.80" y="838.00" width="23.80" height="196.30" fill="#d1d3d5" stroke="#000" stroke-width="1.6"/>
<rect x="2026.20" y="894.40" width="23.50" height="139.90" fill="#d1d3d5" stroke="#000" stroke-width="1.6"/>
<rect x="2061.20" y="875.60" width="23.80" height="158.70" fill="#d1d3d5" stroke="#000" stroke-width="1.6"/>
<rect x="2096.60" y="1000.80" width="23.50" height="33.50" fill="#d1d3d5" stroke="#000" stroke-width="1.6"/>
<rect x="2132.00" y="1007.00" width="24.00" height="27.30" fill="#d1d3d5" stroke="#000" stroke-width="1.6"/>
<line x1="1872.8" y1="1034.3" x2="2168.0" y2="1034.3" stroke="#000" stroke-width="2.6"/>
<circle cx="1888.1" cy="1038.7" r="5.2" fill="#fff" stroke="#000" stroke-width="1.6"/>
<circle cx="1894.5" cy="1028" r="5.2" fill="#fff" stroke="#000" stroke-width="1.6"/>
<circle cx="1899.6" cy="1038.7" r="5.2" fill="#fff" stroke="#000" stroke-width="1.6"/>
<circle cx="1904.7" cy="1033.1" r="5.2" fill="#fff" stroke="#000" stroke-width="1.6"/>
<circle cx="1924.3" cy="1062.5" r="5.2" fill="#fff" stroke="#000" stroke-width="1.6"/>
<circle cx="1930.2" cy="1051" r="5.2" fill="#fff" stroke="#000" stroke-width="1.6"/>
<circle cx="1934.8" cy="1058.6" r="5.2" fill="#fff" stroke="#000" stroke-width="1.6"/>
<circle cx="1939.9" cy="1057.4" r="5.2" fill="#fff" stroke="#000" stroke-width="1.6"/>
<circle cx="1959.8" cy="837.4" r="5.2" fill="#fff" stroke="#000" stroke-width="1.6"/>
<circle cx="1968.3" cy="834.3" r="5.2" fill="#fff" stroke="#000" stroke-width="1.6"/>
<circle cx="1974.6" cy="836.5" r="5.2" fill="#fff" stroke="#000" stroke-width="1.6"/>
<circle cx="1994.9" cy="838.6" r="5.2" fill="#fff" stroke="#000" stroke-width="1.6"/>
<circle cx="2000.5" cy="832" r="5.2" fill="#fff" stroke="#000" stroke-width="1.6"/>
<circle cx="2005.9" cy="836.5" r="5.2" fill="#fff" stroke="#000" stroke-width="1.6"/>
<circle cx="2010.5" cy="838.9" r="5.2" fill="#fff" stroke="#000" stroke-width="1.6"/>
<circle cx="2030.3" cy="896.6" r="5.2" fill="#fff" stroke="#000" stroke-width="1.6"/>
<circle cx="2035.6" cy="891.9" r="5.2" fill="#fff" stroke="#000" stroke-width="1.6"/>
<circle cx="2040.3" cy="896" r="5.2" fill="#fff" stroke="#000" stroke-width="1.6"/>
<circle cx="2045.9" cy="893.5" r="5.2" fill="#fff" stroke="#000" stroke-width="1.6"/>
<circle cx="2065.3" cy="875.6" r="5.2" fill="#fff" stroke="#000" stroke-width="1.6"/>
<circle cx="2070.6" cy="873.1" r="5.2" fill="#fff" stroke="#000" stroke-width="1.6"/>
<circle cx="2075.6" cy="875.6" r="5.2" fill="#fff" stroke="#000" stroke-width="1.6"/>
<circle cx="2081" cy="875" r="5.2" fill="#fff" stroke="#000" stroke-width="1.6"/>
<circle cx="2100.7" cy="1002.4" r="5.2" fill="#fff" stroke="#000" stroke-width="1.6"/>
<circle cx="2106.6" cy="994.7" r="5.2" fill="#fff" stroke="#000" stroke-width="1.6"/>
<circle cx="2111.6" cy="1000.8" r="5.2" fill="#fff" stroke="#000" stroke-width="1.6"/>
<circle cx="2116.3" cy="997.7" r="5.2" fill="#fff" stroke="#000" stroke-width="1.6"/>
<circle cx="2135.7" cy="1008" r="5.2" fill="#fff" stroke="#000" stroke-width="1.6"/>
<circle cx="2142" cy="1004" r="5.2" fill="#fff" stroke="#000" stroke-width="1.6"/>
<circle cx="2146.7" cy="1006" r="5.2" fill="#fff" stroke="#000" stroke-width="1.6"/>
<circle cx="2152" cy="1006" r="5.2" fill="#fff" stroke="#000" stroke-width="1.6"/>
<line x1="1895.8" y1="1093.8" x2="1895.8" y2="1105.8" stroke="#000" stroke-width="2.6"/>
<text transform="translate(1907.0,1116.5) rotate(-90)" font-size="36.2" text-anchor="end">Org1</text>
<line x1="1931.5" y1="1093.8" x2="1931.5" y2="1105.8" stroke="#000" stroke-width="2.6"/>
<text transform="translate(1942.7,1116.5) rotate(-90)" font-size="36.2" text-anchor="end">Org2</text>
<line x1="1967.7" y1="1093.8" x2="1967.7" y2="1105.8" stroke="#000" stroke-width="2.6"/>
<text transform="translate(1978.9,1116.5) rotate(-90)" font-size="36.2" text-anchor="end">Tumor1</text>
<line x1="2002.9" y1="1093.8" x2="2002.9" y2="1105.8" stroke="#000" stroke-width="2.6"/>
<text transform="translate(2014.1,1116.5) rotate(-90)" font-size="36.2" text-anchor="end">Tumor2</text>
<line x1="2038.5" y1="1093.8" x2="2038.5" y2="1105.8" stroke="#000" stroke-width="2.6"/>
<text transform="translate(2049.7,1116.5) rotate(-90)" font-size="36.2" text-anchor="end">Tumoroid1 P1</text>
<line x1="2073.7" y1="1093.8" x2="2073.7" y2="1105.8" stroke="#000" stroke-width="2.6"/>
<text transform="translate(2084.9,1116.5) rotate(-90)" font-size="36.2" text-anchor="end">Tumoroid2 P1</text>
<line x1="2108.6" y1="1093.8" x2="2108.6" y2="1105.8" stroke="#000" stroke-width="2.6"/>
<text transform="translate(2119.8,1116.5) rotate(-90)" font-size="36.2" text-anchor="end">Tumoroid1 P4</text>
<line x1="2143.8" y1="1093.8" x2="2143.8" y2="1105.8" stroke="#000" stroke-width="2.6"/>
<text transform="translate(2155.0,1116.5) rotate(-90)" font-size="36.2" text-anchor="end">Tumoroid2 P4</text>
<text transform="translate(1716.5,1055.9) rotate(-90)" font-size="35.3">fold change</text>
<text transform="translate(1759.3,1102.9) rotate(-90)" font-size="36.5">(relative to Org1)</text>
</svg></body></html>
